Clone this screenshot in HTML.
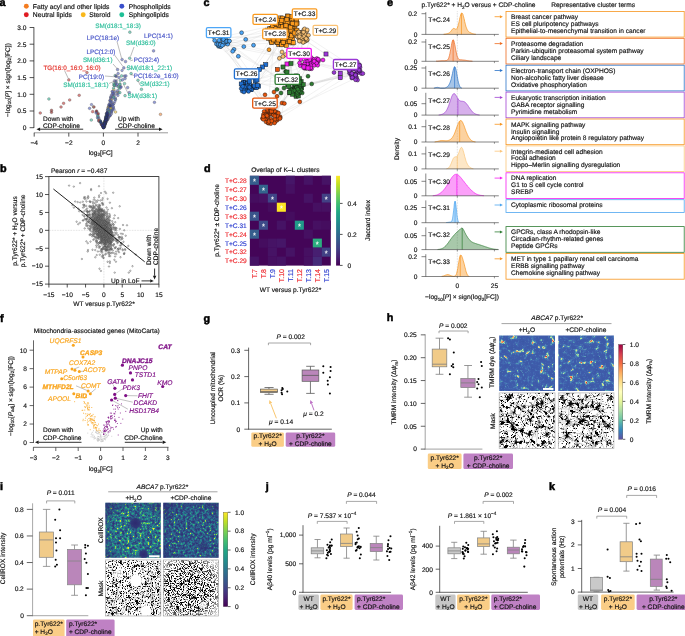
<!DOCTYPE html>
<html><head><meta charset="utf-8"><title>Figure</title><style>html,body{margin:0;padding:0;background:#fff;overflow:hidden}svg{display:block;will-change:transform}text{font-family:"Liberation Sans",sans-serif;text-rendering:geometricPrecision}</style></head>
<body>
<svg width="685" height="636" viewBox="0 0 685 636">
<rect width="685" height="636" fill="#fff"/>
<defs><marker id="mb" markerUnits="userSpaceOnUse" markerWidth="3" markerHeight="3" refX="1.5" refY="1.5" overflow="visible"><circle cx="1.5" cy="1.5" r="0.72" fill="#fff" fill-opacity="0.25" stroke="#4d4d4d" stroke-width="0.45"/></marker><linearGradient id="gvir" x1="0" y1="0" x2="0" y2="1"><stop offset="0.0" stop-color="#fde725"/><stop offset="0.1" stop-color="#bddf26"/><stop offset="0.2" stop-color="#7ad151"/><stop offset="0.3" stop-color="#44bf70"/><stop offset="0.4" stop-color="#22a884"/><stop offset="0.5" stop-color="#21918c"/><stop offset="0.6" stop-color="#2a788e"/><stop offset="0.7" stop-color="#355f8d"/><stop offset="0.8" stop-color="#414487"/><stop offset="0.9" stop-color="#482475"/><stop offset="1.0" stop-color="#440154"/></linearGradient><radialGradient id="hg3"><stop offset="0" stop-color="#C2213A"/><stop offset="0.3" stop-color="#F9A65A"/><stop offset="0.55" stop-color="#E9F29A"/><stop offset="0.8" stop-color="#7FCCA5" stop-opacity="0.8"/><stop offset="1" stop-color="#5AB4C0" stop-opacity="0"/></radialGradient><radialGradient id="hg2"><stop offset="0" stop-color="#FBD27A"/><stop offset="0.4" stop-color="#D8EE9A"/><stop offset="0.75" stop-color="#7FCCA5" stop-opacity="0.8"/><stop offset="1" stop-color="#5AB4C0" stop-opacity="0"/></radialGradient><radialGradient id="hg1"><stop offset="0" stop-color="#A6DBA4"/><stop offset="0.6" stop-color="#6CC4B0" stop-opacity="0.7"/><stop offset="1" stop-color="#5AB4C0" stop-opacity="0"/></radialGradient><filter id="cmh1" x="0" y="0" width="1" height="1" color-interpolation-filters="sRGB"><feTurbulence type="fractalNoise" baseFrequency="0.2" numOctaves="3" seed="3"/><feColorMatrix type="matrix" values="1 0 0 0 0 1 0 0 0 0 1 0 0 0 0 0 0 0 0 1"/><feComponentTransfer><feFuncR type="table" tableValues=".23 .23 .23 .23 .23 .23 .23 .23 .24 .24 .24 .24 .24 .24 .24 .24 .24 .24 .25 .25 .25 .25 .25 .26 .26 .27 .29 .32 .38 .57 .80 .95 .97 .87 .82 .78 .75 .72 .68 .65 .62"/><feFuncG type="table" tableValues=".33 .33 .34 .34 .34 .34 .34 .34 .35 .35 .35 .35 .35 .35 .36 .36 .36 .36 .36 .36 .36 .38 .39 .41 .42 .44 .51 .59 .68 .81 .91 .84 .63 .35 .22 .19 .15 .11 .08 .04 .00"/><feFuncB type="table" tableValues=".64 .64 .65 .65 .65 .65 .65 .65 .65 .66 .66 .66 .66 .66 .66 .66 .67 .67 .67 .67 .67 .68 .68 .69 .70 .70 .71 .71 .70 .64 .61 .52 .37 .33 .31 .30 .29 .28 .27 .27 .26"/></feComponentTransfer></filter><filter id="tlh1" x="0" y="0" width="1" height="1" color-interpolation-filters="sRGB"><feTurbulence type="turbulence" baseFrequency="0.07" numOctaves="3" seed="8"/><feColorMatrix type="matrix" values="0 0 0 0 0.4 0 0 0 0 0.72 0 0 0 0 0.74 -9 0 0 0 0.7"/></filter><filter id="nzh1" x="0" y="0" width="1" height="1" color-interpolation-filters="sRGB"><feTurbulence type="fractalNoise" baseFrequency="0.6" numOctaves="1" seed="12"/><feColorMatrix type="matrix" values="0 0 0 0 0.36 0 0 0 0 0.6 0 0 0 0 0.8 3.0 0 0 0 -1.85"/></filter><filter id="cmh2" x="0" y="0" width="1" height="1" color-interpolation-filters="sRGB"><feTurbulence type="fractalNoise" baseFrequency="0.2" numOctaves="3" seed="8"/><feColorMatrix type="matrix" values="1 0 0 0 0 1 0 0 0 0 1 0 0 0 0 0 0 0 0 1"/><feComponentTransfer><feFuncR type="table" tableValues=".23 .23 .23 .23 .23 .23 .23 .23 .24 .24 .24 .24 .24 .24 .24 .24 .24 .24 .25 .25 .25 .25 .25 .26 .26 .27 .29 .32 .38 .57 .80 .95 .97 .87 .82 .78 .75 .72 .68 .65 .62"/><feFuncG type="table" tableValues=".33 .33 .34 .34 .34 .34 .34 .34 .35 .35 .35 .35 .35 .35 .36 .36 .36 .36 .36 .36 .36 .38 .39 .41 .42 .44 .51 .59 .68 .81 .91 .84 .63 .35 .22 .19 .15 .11 .08 .04 .00"/><feFuncB type="table" tableValues=".64 .64 .65 .65 .65 .65 .65 .65 .65 .66 .66 .66 .66 .66 .66 .66 .67 .67 .67 .67 .67 .68 .68 .69 .70 .70 .71 .71 .70 .64 .61 .52 .37 .33 .31 .30 .29 .28 .27 .27 .26"/></feComponentTransfer></filter><filter id="tlh2" x="0" y="0" width="1" height="1" color-interpolation-filters="sRGB"><feTurbulence type="turbulence" baseFrequency="0.07" numOctaves="3" seed="13"/><feColorMatrix type="matrix" values="0 0 0 0 0.4 0 0 0 0 0.72 0 0 0 0 0.74 -9 0 0 0 0.7"/></filter><filter id="nzh2" x="0" y="0" width="1" height="1" color-interpolation-filters="sRGB"><feTurbulence type="fractalNoise" baseFrequency="0.6" numOctaves="1" seed="17"/><feColorMatrix type="matrix" values="0 0 0 0 0.36 0 0 0 0 0.6 0 0 0 0 0.8 3.0 0 0 0 -1.85"/></filter><filter id="mlh3" x="0" y="0" width="1" height="1" color-interpolation-filters="sRGB"><feTurbulence type="turbulence" baseFrequency="0.12" numOctaves="2" seed="22"/><feColorMatrix type="matrix" values="0 0 0 0 0 0 0 0 0 0 0 0 0 0 0 -9 0 0 0 1.15"/></filter><filter id="mbh3" x="0" y="0" width="1" height="1" color-interpolation-filters="sRGB"><feTurbulence type="fractalNoise" baseFrequency="0.2" numOctaves="3" seed="23"/><feColorMatrix type="matrix" values="0 0 0 0 0 0 0 0 0 0 0 0 0 0 0 16 0 0 0 -10.35"/></filter><filter id="mfh3" x="0" y="0" width="1" height="1" color-interpolation-filters="sRGB"><feTurbulence type="fractalNoise" baseFrequency="0.8" numOctaves="2" seed="24"/><feColorMatrix type="matrix" values="0 0 0 0 0 0 0 0 0 0 0 0 0 0 0 7 0 0 0 -4.35"/></filter><filter id="mlh4" x="0" y="0" width="1" height="1" color-interpolation-filters="sRGB"><feTurbulence type="turbulence" baseFrequency="0.12" numOctaves="2" seed="34"/><feColorMatrix type="matrix" values="0 0 0 0 0 0 0 0 0 0 0 0 0 0 0 -9 0 0 0 1.15"/></filter><filter id="mbh4" x="0" y="0" width="1" height="1" color-interpolation-filters="sRGB"><feTurbulence type="fractalNoise" baseFrequency="0.2" numOctaves="3" seed="35"/><feColorMatrix type="matrix" values="0 0 0 0 0 0 0 0 0 0 0 0 0 0 0 16 0 0 0 -10.4"/></filter><filter id="mfh4" x="0" y="0" width="1" height="1" color-interpolation-filters="sRGB"><feTurbulence type="fractalNoise" baseFrequency="0.8" numOctaves="2" seed="36"/><feColorMatrix type="matrix" values="0 0 0 0 0 0 0 0 0 0 0 0 0 0 0 7 0 0 0 -4.4"/></filter><linearGradient id="gspec" x1="0" y1="0" x2="0" y2="1"><stop offset="0.0" stop-color="#9E0142"/><stop offset="0.09999999999999998" stop-color="#D53E4F"/><stop offset="0.19999999999999996" stop-color="#F46D43"/><stop offset="0.30000000000000004" stop-color="#FDAE61"/><stop offset="0.4" stop-color="#FEE08B"/><stop offset="0.5" stop-color="#FFFFBF"/><stop offset="0.6" stop-color="#E6F598"/><stop offset="0.7" stop-color="#ABDDA4"/><stop offset="0.8" stop-color="#66C2A5"/><stop offset="0.9" stop-color="#3288BD"/><stop offset="1" stop-color="#5E4FA2"/></linearGradient><radialGradient id="hole"><stop offset="0" stop-color="#2D2A6E"/><stop offset="0.65" stop-color="#2F3478" stop-opacity="0.95"/><stop offset="1" stop-color="#2F4A85" stop-opacity="0"/></radialGradient><radialGradient id="wh"><stop offset="0" stop-color="#fff"/><stop offset="0.75" stop-color="#fff"/><stop offset="1" stop-color="#fff" stop-opacity="0"/></radialGradient><radialGradient id="vig" cx="0.55" cy="0.55" r="0.75"><stop offset="0.6" stop-color="#2D2A70" stop-opacity="0"/><stop offset="1" stop-color="#2D2A70" stop-opacity="0.75"/></radialGradient><filter id="cmi1" x="0" y="0" width="1" height="1" color-interpolation-filters="sRGB"><feTurbulence type="fractalNoise" baseFrequency="0.4" numOctaves="3" seed="4"/><feColorMatrix type="matrix" values="1 0 0 0 0 1 0 0 0 0 1 0 0 0 0 0 0 0 0 1"/><feComponentTransfer><feFuncR type="table" tableValues=".18 .18 .18 .18 .18 .18 .18 .18 .19 .19 .19 .19 .19 .19 .19 .19 .19 .18 .18 .17 .17 .16 .15 .15 .14 .14 .19 .24 .33 .49 .65 .79 .93 .99 .99 .99 .99 .99 .99 .99 .99"/><feFuncG type="table" tableValues=".16 .17 .18 .19 .19 .20 .21 .22 .22 .23 .24 .25 .25 .26 .28 .30 .33 .35 .37 .40 .43 .46 .49 .52 .56 .60 .65 .71 .77 .81 .86 .88 .90 .91 .91 .91 .91 .91 .91 .91 .91"/><feFuncB type="table" tableValues=".44 .44 .45 .45 .46 .46 .47 .47 .47 .48 .48 .49 .49 .50 .51 .51 .52 .53 .54 .55 .55 .55 .56 .55 .55 .54 .50 .46 .40 .31 .21 .18 .16 .15 .15 .15 .15 .15 .15 .15 .15"/></feComponentTransfer></filter><filter id="cmi2" x="0" y="0" width="1" height="1" color-interpolation-filters="sRGB"><feTurbulence type="fractalNoise" baseFrequency="0.42" numOctaves="3" seed="9"/><feColorMatrix type="matrix" values="1 0 0 0 0 1 0 0 0 0 1 0 0 0 0 0 0 0 0 1"/><feComponentTransfer><feFuncR type="table" tableValues=".18 .18 .18 .18 .18 .18 .18 .18 .18 .18 .18 .18 .19 .19 .19 .19 .19 .19 .19 .19 .18 .18 .18 .17 .17 .16 .15 .14 .16 .19 .29 .50 .71 .83 .95 .99 .99 .99 .99 .99 .99"/><feFuncG type="table" tableValues=".16 .17 .18 .18 .19 .19 .20 .20 .21 .22 .22 .23 .23 .24 .24 .25 .27 .28 .30 .32 .34 .36 .39 .41 .44 .47 .50 .53 .60 .67 .74 .81 .87 .89 .90 .91 .91 .91 .91 .91 .91"/><feFuncB type="table" tableValues=".44 .44 .45 .45 .45 .46 .46 .46 .47 .47 .48 .48 .48 .49 .49 .49 .50 .51 .52 .53 .53 .54 .55 .55 .56 .56 .56 .56 .53 .50 .42 .30 .17 .16 .15 .15 .15 .15 .15 .15 .15"/></feComponentTransfer></filter><radialGradient id="wvig" cx="0.45" cy="0.5" r="0.72"><stop offset="0.55" stop-color="#fff" stop-opacity="0"/><stop offset="1" stop-color="#fff" stop-opacity="0.9"/></radialGradient><filter id="mbi3" x="0" y="0" width="1" height="1" color-interpolation-filters="sRGB"><feTurbulence type="fractalNoise" baseFrequency="0.8" numOctaves="2" seed="43"/><feColorMatrix type="matrix" values="0 0 0 0 0 0 0 0 0 0 0 0 0 0 0 7 0 0 0 -3.82"/></filter><filter id="mfi3" x="0" y="0" width="1" height="1" color-interpolation-filters="sRGB"><feTurbulence type="fractalNoise" baseFrequency="0.25" numOctaves="3" seed="44"/><feColorMatrix type="matrix" values="0 0 0 0 0 0 0 0 0 0 0 0 0 0 0 10 0 0 0 -6.45"/></filter><filter id="mbi4" x="0" y="0" width="1" height="1" color-interpolation-filters="sRGB"><feTurbulence type="fractalNoise" baseFrequency="0.85" numOctaves="2" seed="49"/><feColorMatrix type="matrix" values="0 0 0 0 0 0 0 0 0 0 0 0 0 0 0 7 0 0 0 -3.4"/></filter><filter id="mfi4" x="0" y="0" width="1" height="1" color-interpolation-filters="sRGB"><feTurbulence type="fractalNoise" baseFrequency="0.3" numOctaves="3" seed="50"/><feColorMatrix type="matrix" values="0 0 0 0 0 0 0 0 0 0 0 0 0 0 0 10 0 0 0 -6.2"/></filter><linearGradient id="gvir2" x1="0" y1="0" x2="0" y2="1"><stop offset="0.0" stop-color="#fde725"/><stop offset="0.1" stop-color="#bddf26"/><stop offset="0.2" stop-color="#7ad151"/><stop offset="0.3" stop-color="#44bf70"/><stop offset="0.4" stop-color="#22a884"/><stop offset="0.5" stop-color="#21918c"/><stop offset="0.6" stop-color="#2a788e"/><stop offset="0.7" stop-color="#355f8d"/><stop offset="0.8" stop-color="#414487"/><stop offset="0.9" stop-color="#482475"/><stop offset="1.0" stop-color="#440154"/></linearGradient></defs>
<text x="-0.50" y="5.80" font-size="10.8" font-weight="bold" fill="#000" stroke="#000" stroke-width="0.5">a</text>
<circle cx="26.30" cy="6.20" r="2.45" fill="#F47C20" stroke="none" stroke-width="0.4"/>
<text x="32.80" y="8.55" font-size="6.75" fill="#111" stroke="#111" stroke-width="0.16">Fatty acyl and other lipids</text>
<circle cx="26.30" cy="14.70" r="2.45" fill="#E01B22" stroke="none" stroke-width="0.4"/>
<text x="32.80" y="17.05" font-size="6.75" fill="#111" stroke="#111" stroke-width="0.16">Neutral lipids</text>
<circle cx="83.20" cy="14.70" r="2.45" fill="#F9B81B" stroke="none" stroke-width="0.4"/>
<text x="89.20" y="17.05" font-size="6.75" fill="#111" stroke="#111" stroke-width="0.16">Steroid</text>
<circle cx="121.80" cy="6.20" r="2.45" fill="#3A4FCB" stroke="none" stroke-width="0.4"/>
<text x="128.70" y="8.55" font-size="6.75" fill="#111" stroke="#111" stroke-width="0.16">Phospholipids</text>
<circle cx="121.80" cy="14.70" r="2.45" fill="#1DBF95" stroke="none" stroke-width="0.4"/>
<text x="128.70" y="17.05" font-size="6.75" fill="#111" stroke="#111" stroke-width="0.16">Sphingolipids</text>
<line x1="33.90" y1="27.20" x2="33.90" y2="128.00" stroke="#1a1a1a" stroke-width="0.75"/>
<line x1="29.60" y1="27.50" x2="33.90" y2="27.50" stroke="#1a1a1a" stroke-width="0.75"/>
<text x="26.40" y="29.80" font-size="6.6" text-anchor="end" fill="#111" stroke="#111" stroke-width="0.16">3.0</text>
<line x1="29.60" y1="44.20" x2="33.90" y2="44.20" stroke="#1a1a1a" stroke-width="0.75"/>
<text x="26.40" y="46.50" font-size="6.6" text-anchor="end" fill="#111" stroke="#111" stroke-width="0.16">2.5</text>
<line x1="29.60" y1="60.90" x2="33.90" y2="60.90" stroke="#1a1a1a" stroke-width="0.75"/>
<text x="26.40" y="63.20" font-size="6.6" text-anchor="end" fill="#111" stroke="#111" stroke-width="0.16">2.0</text>
<line x1="29.60" y1="77.60" x2="33.90" y2="77.60" stroke="#1a1a1a" stroke-width="0.75"/>
<text x="26.40" y="79.90" font-size="6.6" text-anchor="end" fill="#111" stroke="#111" stroke-width="0.16">1.5</text>
<line x1="29.60" y1="94.30" x2="33.90" y2="94.30" stroke="#1a1a1a" stroke-width="0.75"/>
<text x="26.40" y="96.60" font-size="6.6" text-anchor="end" fill="#111" stroke="#111" stroke-width="0.16">1.0</text>
<line x1="29.60" y1="111.00" x2="33.90" y2="111.00" stroke="#1a1a1a" stroke-width="0.75"/>
<text x="26.40" y="113.30" font-size="6.6" text-anchor="end" fill="#111" stroke="#111" stroke-width="0.16">0.5</text>
<line x1="29.60" y1="127.70" x2="33.90" y2="127.70" stroke="#1a1a1a" stroke-width="0.75"/>
<text x="26.40" y="130.00" font-size="6.6" text-anchor="end" fill="#111" stroke="#111" stroke-width="0.16">0</text>
<line x1="33.90" y1="132.80" x2="168.00" y2="132.80" stroke="#8f8f8f" stroke-width="0.9"/>
<line x1="34.20" y1="132.80" x2="34.20" y2="136.60" stroke="#1a1a1a" stroke-width="0.75"/>
<text x="34.20" y="145.20" font-size="6.6" text-anchor="middle" fill="#111" stroke="#111" stroke-width="0.16">−4</text>
<line x1="68.80" y1="132.80" x2="68.80" y2="136.60" stroke="#1a1a1a" stroke-width="0.75"/>
<text x="68.80" y="145.20" font-size="6.6" text-anchor="middle" fill="#111" stroke="#111" stroke-width="0.16">−2</text>
<line x1="103.40" y1="132.80" x2="103.40" y2="136.60" stroke="#1a1a1a" stroke-width="0.75"/>
<text x="103.40" y="145.20" font-size="6.6" text-anchor="middle" fill="#111" stroke="#111" stroke-width="0.16">0</text>
<line x1="138.00" y1="132.80" x2="138.00" y2="136.60" stroke="#1a1a1a" stroke-width="0.75"/>
<text x="138.00" y="145.20" font-size="6.6" text-anchor="middle" fill="#111" stroke="#111" stroke-width="0.16">2</text>
<text x="100.60" y="154.60" font-size="6.6" text-anchor="middle" fill="#111" stroke="#111" stroke-width="0.16">log<tspan font-size="4.6" dy="1.5">2</tspan><tspan dy="-1.5" font-size="0.1"> </tspan>[FC]</text>
<text x="9.60" y="80.00" font-size="6.6" text-anchor="middle" fill="#111" stroke="#111" stroke-width="0.16" transform="rotate(-90 9.60 80.00)">−log<tspan font-size="4.6" dy="1.5">10</tspan><tspan dy="-1.5" font-size="0.1"> </tspan>[<tspan font-style="italic">P</tspan>] × sign(log<tspan font-size="4.6" dy="1.5">2</tspan><tspan dy="-1.5" font-size="0.1"> </tspan>[FC])</text>
<circle cx="104.70" cy="125.24" r="1.25" fill="#4A5AC2" stroke="#666" stroke-width="0.4" fill-opacity="0.55"/>
<circle cx="98.92" cy="118.18" r="1.25" fill="#4A5AC2" stroke="#666" stroke-width="0.4" fill-opacity="0.55"/>
<circle cx="116.11" cy="82.24" r="1.25" fill="#35BFA0" stroke="#666" stroke-width="0.4" fill-opacity="0.55"/>
<circle cx="109.89" cy="110.65" r="1.25" fill="#4A5AC2" stroke="#666" stroke-width="0.4" fill-opacity="0.55"/>
<circle cx="107.49" cy="119.36" r="1.25" fill="#F2C230" stroke="#666" stroke-width="0.4" fill-opacity="0.55"/>
<circle cx="106.33" cy="113.68" r="1.25" fill="#4A5AC2" stroke="#666" stroke-width="0.4" fill-opacity="0.55"/>
<circle cx="107.18" cy="113.66" r="1.25" fill="#4A5AC2" stroke="#666" stroke-width="0.4" fill-opacity="0.55"/>
<circle cx="117.42" cy="92.12" r="1.25" fill="#F2C230" stroke="#666" stroke-width="0.4" fill-opacity="0.55"/>
<circle cx="101.54" cy="123.13" r="1.25" fill="#4A5AC2" stroke="#666" stroke-width="0.4" fill-opacity="0.55"/>
<circle cx="104.95" cy="123.55" r="1.25" fill="#4A5AC2" stroke="#666" stroke-width="0.4" fill-opacity="0.55"/>
<circle cx="114.68" cy="84.21" r="1.25" fill="#35BFA0" stroke="#666" stroke-width="0.4" fill-opacity="0.55"/>
<circle cx="105.04" cy="121.38" r="1.25" fill="#35BFA0" stroke="#666" stroke-width="0.4" fill-opacity="0.55"/>
<circle cx="109.17" cy="108.83" r="1.25" fill="#4A5AC2" stroke="#666" stroke-width="0.4" fill-opacity="0.55"/>
<circle cx="104.38" cy="125.63" r="1.25" fill="#35BFA0" stroke="#666" stroke-width="0.4" fill-opacity="0.55"/>
<circle cx="108.25" cy="112.10" r="1.25" fill="#4A5AC2" stroke="#666" stroke-width="0.4" fill-opacity="0.55"/>
<circle cx="102.44" cy="125.52" r="1.25" fill="#4A5AC2" stroke="#666" stroke-width="0.4" fill-opacity="0.55"/>
<circle cx="106.95" cy="114.68" r="1.25" fill="#4A5AC2" stroke="#666" stroke-width="0.4" fill-opacity="0.55"/>
<circle cx="102.77" cy="126.52" r="1.25" fill="#4A5AC2" stroke="#666" stroke-width="0.4" fill-opacity="0.55"/>
<circle cx="103.69" cy="126.65" r="1.25" fill="#4A5AC2" stroke="#666" stroke-width="0.4" fill-opacity="0.55"/>
<circle cx="112.80" cy="108.72" r="1.25" fill="#4A5AC2" stroke="#666" stroke-width="0.4" fill-opacity="0.55"/>
<circle cx="114.01" cy="103.42" r="1.25" fill="#4A5AC2" stroke="#666" stroke-width="0.4" fill-opacity="0.55"/>
<circle cx="103.58" cy="126.34" r="1.25" fill="#4A5AC2" stroke="#666" stroke-width="0.4" fill-opacity="0.55"/>
<circle cx="108.31" cy="107.62" r="1.25" fill="#35BFA0" stroke="#666" stroke-width="0.4" fill-opacity="0.55"/>
<circle cx="103.41" cy="125.12" r="1.25" fill="#4A5AC2" stroke="#666" stroke-width="0.4" fill-opacity="0.55"/>
<circle cx="114.49" cy="85.42" r="1.25" fill="#4A5AC2" stroke="#666" stroke-width="0.4" fill-opacity="0.55"/>
<circle cx="105.91" cy="119.16" r="1.25" fill="#F2C230" stroke="#666" stroke-width="0.4" fill-opacity="0.55"/>
<circle cx="101.66" cy="123.39" r="1.25" fill="#4A5AC2" stroke="#666" stroke-width="0.4" fill-opacity="0.55"/>
<circle cx="109.68" cy="105.36" r="1.25" fill="#4A5AC2" stroke="#666" stroke-width="0.4" fill-opacity="0.55"/>
<circle cx="108.24" cy="118.49" r="1.25" fill="#4A5AC2" stroke="#666" stroke-width="0.4" fill-opacity="0.55"/>
<circle cx="119.95" cy="83.89" r="1.25" fill="#35BFA0" stroke="#666" stroke-width="0.4" fill-opacity="0.55"/>
<circle cx="104.06" cy="127.29" r="1.25" fill="#4A5AC2" stroke="#666" stroke-width="0.4" fill-opacity="0.55"/>
<circle cx="103.95" cy="126.28" r="1.25" fill="#4A5AC2" stroke="#666" stroke-width="0.4" fill-opacity="0.55"/>
<circle cx="109.50" cy="115.97" r="1.25" fill="#4A5AC2" stroke="#666" stroke-width="0.4" fill-opacity="0.55"/>
<circle cx="104.28" cy="126.38" r="1.25" fill="#35BFA0" stroke="#666" stroke-width="0.4" fill-opacity="0.55"/>
<circle cx="114.56" cy="84.68" r="1.25" fill="#4A5AC2" stroke="#666" stroke-width="0.4" fill-opacity="0.55"/>
<circle cx="97.90" cy="118.22" r="1.25" fill="#35BFA0" stroke="#666" stroke-width="0.4" fill-opacity="0.55"/>
<circle cx="120.01" cy="86.59" r="1.25" fill="#35BFA0" stroke="#666" stroke-width="0.4" fill-opacity="0.55"/>
<circle cx="114.53" cy="80.70" r="1.25" fill="#4A5AC2" stroke="#666" stroke-width="0.4" fill-opacity="0.55"/>
<circle cx="105.03" cy="121.45" r="1.25" fill="#4A5AC2" stroke="#666" stroke-width="0.4" fill-opacity="0.55"/>
<circle cx="104.57" cy="124.14" r="1.25" fill="#4A5AC2" stroke="#666" stroke-width="0.4" fill-opacity="0.55"/>
<circle cx="106.46" cy="121.44" r="1.25" fill="#4A5AC2" stroke="#666" stroke-width="0.4" fill-opacity="0.55"/>
<circle cx="104.66" cy="126.49" r="1.25" fill="#4A5AC2" stroke="#666" stroke-width="0.4" fill-opacity="0.55"/>
<circle cx="111.47" cy="104.87" r="1.25" fill="#4A5AC2" stroke="#666" stroke-width="0.4" fill-opacity="0.55"/>
<circle cx="110.12" cy="112.45" r="1.25" fill="#35BFA0" stroke="#666" stroke-width="0.4" fill-opacity="0.55"/>
<circle cx="102.34" cy="125.19" r="1.25" fill="#C8322E" stroke="#666" stroke-width="0.4" fill-opacity="0.55"/>
<circle cx="107.18" cy="112.77" r="1.25" fill="#4A5AC2" stroke="#666" stroke-width="0.4" fill-opacity="0.55"/>
<circle cx="110.87" cy="106.70" r="1.25" fill="#4A5AC2" stroke="#666" stroke-width="0.4" fill-opacity="0.55"/>
<circle cx="104.97" cy="124.53" r="1.25" fill="#4A5AC2" stroke="#666" stroke-width="0.4" fill-opacity="0.55"/>
<circle cx="101.19" cy="124.20" r="1.25" fill="#4A5AC2" stroke="#666" stroke-width="0.4" fill-opacity="0.55"/>
<circle cx="110.42" cy="106.77" r="1.25" fill="#4A5AC2" stroke="#666" stroke-width="0.4" fill-opacity="0.55"/>
<circle cx="103.80" cy="125.19" r="1.25" fill="#4A5AC2" stroke="#666" stroke-width="0.4" fill-opacity="0.55"/>
<circle cx="111.98" cy="109.93" r="1.25" fill="#4A5AC2" stroke="#666" stroke-width="0.4" fill-opacity="0.55"/>
<circle cx="105.09" cy="121.93" r="1.25" fill="#4A5AC2" stroke="#666" stroke-width="0.4" fill-opacity="0.55"/>
<circle cx="118.02" cy="86.20" r="1.25" fill="#35BFA0" stroke="#666" stroke-width="0.4" fill-opacity="0.55"/>
<circle cx="112.21" cy="96.49" r="1.25" fill="#4A5AC2" stroke="#666" stroke-width="0.4" fill-opacity="0.55"/>
<circle cx="91.50" cy="104.60" r="1.25" fill="#4A5AC2" stroke="#666" stroke-width="0.4" fill-opacity="0.55"/>
<circle cx="104.40" cy="124.49" r="1.25" fill="#35BFA0" stroke="#666" stroke-width="0.4" fill-opacity="0.55"/>
<circle cx="104.39" cy="125.74" r="1.25" fill="#4A5AC2" stroke="#666" stroke-width="0.4" fill-opacity="0.55"/>
<circle cx="100.13" cy="120.69" r="1.25" fill="#35BFA0" stroke="#666" stroke-width="0.4" fill-opacity="0.55"/>
<circle cx="115.35" cy="99.53" r="1.25" fill="#35BFA0" stroke="#666" stroke-width="0.4" fill-opacity="0.55"/>
<circle cx="108.97" cy="104.74" r="1.25" fill="#4A5AC2" stroke="#666" stroke-width="0.4" fill-opacity="0.55"/>
<circle cx="107.72" cy="109.61" r="1.25" fill="#4A5AC2" stroke="#666" stroke-width="0.4" fill-opacity="0.55"/>
<circle cx="110.54" cy="110.85" r="1.25" fill="#35BFA0" stroke="#666" stroke-width="0.4" fill-opacity="0.55"/>
<circle cx="111.53" cy="105.49" r="1.25" fill="#4A5AC2" stroke="#666" stroke-width="0.4" fill-opacity="0.55"/>
<circle cx="106.28" cy="118.42" r="1.25" fill="#35BFA0" stroke="#666" stroke-width="0.4" fill-opacity="0.55"/>
<circle cx="105.88" cy="118.17" r="1.25" fill="#4A5AC2" stroke="#666" stroke-width="0.4" fill-opacity="0.55"/>
<circle cx="113.57" cy="96.95" r="1.25" fill="#4A5AC2" stroke="#666" stroke-width="0.4" fill-opacity="0.55"/>
<circle cx="119.00" cy="87.13" r="1.25" fill="#35BFA0" stroke="#666" stroke-width="0.4" fill-opacity="0.55"/>
<circle cx="103.83" cy="126.44" r="1.25" fill="#4A5AC2" stroke="#666" stroke-width="0.4" fill-opacity="0.55"/>
<circle cx="105.35" cy="122.41" r="1.25" fill="#35BFA0" stroke="#666" stroke-width="0.4" fill-opacity="0.55"/>
<circle cx="108.60" cy="112.26" r="1.25" fill="#4A5AC2" stroke="#666" stroke-width="0.4" fill-opacity="0.55"/>
<circle cx="107.25" cy="118.72" r="1.25" fill="#4A5AC2" stroke="#666" stroke-width="0.4" fill-opacity="0.55"/>
<circle cx="110.86" cy="97.79" r="1.25" fill="#4A5AC2" stroke="#666" stroke-width="0.4" fill-opacity="0.55"/>
<circle cx="103.93" cy="127.18" r="1.25" fill="#4A5AC2" stroke="#666" stroke-width="0.4" fill-opacity="0.55"/>
<circle cx="110.52" cy="103.96" r="1.25" fill="#4A5AC2" stroke="#666" stroke-width="0.4" fill-opacity="0.55"/>
<circle cx="111.43" cy="95.05" r="1.25" fill="#4A5AC2" stroke="#666" stroke-width="0.4" fill-opacity="0.55"/>
<circle cx="107.61" cy="111.48" r="1.25" fill="#4A5AC2" stroke="#666" stroke-width="0.4" fill-opacity="0.55"/>
<circle cx="108.73" cy="106.23" r="1.25" fill="#4A5AC2" stroke="#666" stroke-width="0.4" fill-opacity="0.55"/>
<circle cx="105.00" cy="121.57" r="1.25" fill="#4A5AC2" stroke="#666" stroke-width="0.4" fill-opacity="0.55"/>
<circle cx="105.82" cy="117.31" r="1.25" fill="#4A5AC2" stroke="#666" stroke-width="0.4" fill-opacity="0.55"/>
<circle cx="105.11" cy="121.49" r="1.25" fill="#4A5AC2" stroke="#666" stroke-width="0.4" fill-opacity="0.55"/>
<circle cx="108.82" cy="107.42" r="1.25" fill="#4A5AC2" stroke="#666" stroke-width="0.4" fill-opacity="0.55"/>
<circle cx="104.59" cy="122.69" r="1.25" fill="#35BFA0" stroke="#666" stroke-width="0.4" fill-opacity="0.55"/>
<circle cx="98.63" cy="120.92" r="1.25" fill="#4A5AC2" stroke="#666" stroke-width="0.4" fill-opacity="0.55"/>
<circle cx="119.19" cy="89.03" r="1.25" fill="#35BFA0" stroke="#666" stroke-width="0.4" fill-opacity="0.55"/>
<circle cx="100.20" cy="122.04" r="1.25" fill="#35BFA0" stroke="#666" stroke-width="0.4" fill-opacity="0.55"/>
<circle cx="116.25" cy="85.83" r="1.25" fill="#4A5AC2" stroke="#666" stroke-width="0.4" fill-opacity="0.55"/>
<circle cx="101.88" cy="124.50" r="1.25" fill="#C8322E" stroke="#666" stroke-width="0.4" fill-opacity="0.55"/>
<circle cx="114.39" cy="95.01" r="1.25" fill="#4A5AC2" stroke="#666" stroke-width="0.4" fill-opacity="0.55"/>
<circle cx="109.73" cy="114.98" r="1.25" fill="#4A5AC2" stroke="#666" stroke-width="0.4" fill-opacity="0.55"/>
<circle cx="111.63" cy="111.50" r="1.25" fill="#4A5AC2" stroke="#666" stroke-width="0.4" fill-opacity="0.55"/>
<circle cx="112.15" cy="91.46" r="1.25" fill="#4A5AC2" stroke="#666" stroke-width="0.4" fill-opacity="0.55"/>
<circle cx="120.30" cy="80.47" r="1.25" fill="#35BFA0" stroke="#666" stroke-width="0.4" fill-opacity="0.55"/>
<circle cx="110.10" cy="115.57" r="1.25" fill="#4A5AC2" stroke="#666" stroke-width="0.4" fill-opacity="0.55"/>
<circle cx="119.99" cy="84.40" r="1.25" fill="#35BFA0" stroke="#666" stroke-width="0.4" fill-opacity="0.55"/>
<circle cx="106.22" cy="119.65" r="1.25" fill="#4A5AC2" stroke="#666" stroke-width="0.4" fill-opacity="0.55"/>
<circle cx="107.49" cy="110.64" r="1.25" fill="#4A5AC2" stroke="#666" stroke-width="0.4" fill-opacity="0.55"/>
<circle cx="104.46" cy="121.94" r="1.25" fill="#35BFA0" stroke="#666" stroke-width="0.4" fill-opacity="0.55"/>
<circle cx="96.80" cy="111.89" r="1.25" fill="#4A5AC2" stroke="#666" stroke-width="0.4" fill-opacity="0.55"/>
<circle cx="107.08" cy="113.40" r="1.25" fill="#4A5AC2" stroke="#666" stroke-width="0.4" fill-opacity="0.55"/>
<circle cx="111.13" cy="100.67" r="1.25" fill="#4A5AC2" stroke="#666" stroke-width="0.4" fill-opacity="0.55"/>
<circle cx="103.47" cy="127.28" r="1.25" fill="#4A5AC2" stroke="#666" stroke-width="0.4" fill-opacity="0.55"/>
<circle cx="117.14" cy="93.88" r="1.25" fill="#4A5AC2" stroke="#666" stroke-width="0.4" fill-opacity="0.55"/>
<circle cx="110.31" cy="108.67" r="1.25" fill="#35BFA0" stroke="#666" stroke-width="0.4" fill-opacity="0.55"/>
<circle cx="109.65" cy="115.86" r="1.25" fill="#4A5AC2" stroke="#666" stroke-width="0.4" fill-opacity="0.55"/>
<circle cx="113.92" cy="109.20" r="1.25" fill="#4A5AC2" stroke="#666" stroke-width="0.4" fill-opacity="0.55"/>
<circle cx="113.17" cy="94.64" r="1.25" fill="#4A5AC2" stroke="#666" stroke-width="0.4" fill-opacity="0.55"/>
<circle cx="105.13" cy="121.97" r="1.25" fill="#4A5AC2" stroke="#666" stroke-width="0.4" fill-opacity="0.55"/>
<circle cx="115.09" cy="75.45" r="1.25" fill="#35BFA0" stroke="#666" stroke-width="0.4" fill-opacity="0.55"/>
<circle cx="107.18" cy="118.02" r="1.25" fill="#4A5AC2" stroke="#666" stroke-width="0.4" fill-opacity="0.55"/>
<circle cx="98.25" cy="116.52" r="1.25" fill="#4A5AC2" stroke="#666" stroke-width="0.4" fill-opacity="0.55"/>
<circle cx="106.11" cy="117.11" r="1.25" fill="#4A5AC2" stroke="#666" stroke-width="0.4" fill-opacity="0.55"/>
<circle cx="110.65" cy="96.90" r="1.25" fill="#4A5AC2" stroke="#666" stroke-width="0.4" fill-opacity="0.55"/>
<circle cx="111.50" cy="113.82" r="1.25" fill="#4A5AC2" stroke="#666" stroke-width="0.4" fill-opacity="0.55"/>
<circle cx="107.06" cy="113.56" r="1.25" fill="#35BFA0" stroke="#666" stroke-width="0.4" fill-opacity="0.55"/>
<circle cx="112.16" cy="109.52" r="1.25" fill="#4A5AC2" stroke="#666" stroke-width="0.4" fill-opacity="0.55"/>
<circle cx="108.58" cy="117.08" r="1.25" fill="#4A5AC2" stroke="#666" stroke-width="0.4" fill-opacity="0.55"/>
<circle cx="105.48" cy="121.50" r="1.25" fill="#4A5AC2" stroke="#666" stroke-width="0.4" fill-opacity="0.55"/>
<circle cx="105.67" cy="122.62" r="1.25" fill="#35BFA0" stroke="#666" stroke-width="0.4" fill-opacity="0.55"/>
<circle cx="103.95" cy="124.90" r="1.25" fill="#4A5AC2" stroke="#666" stroke-width="0.4" fill-opacity="0.55"/>
<circle cx="97.53" cy="117.42" r="1.25" fill="#4A5AC2" stroke="#666" stroke-width="0.4" fill-opacity="0.55"/>
<circle cx="106.12" cy="117.76" r="1.25" fill="#4A5AC2" stroke="#666" stroke-width="0.4" fill-opacity="0.55"/>
<circle cx="113.26" cy="107.45" r="1.25" fill="#4A5AC2" stroke="#666" stroke-width="0.4" fill-opacity="0.55"/>
<circle cx="105.56" cy="122.51" r="1.25" fill="#4A5AC2" stroke="#666" stroke-width="0.4" fill-opacity="0.55"/>
<circle cx="110.30" cy="101.22" r="1.25" fill="#35BFA0" stroke="#666" stroke-width="0.4" fill-opacity="0.55"/>
<circle cx="108.19" cy="107.22" r="1.25" fill="#F2C230" stroke="#666" stroke-width="0.4" fill-opacity="0.55"/>
<circle cx="110.43" cy="109.48" r="1.25" fill="#35BFA0" stroke="#666" stroke-width="0.4" fill-opacity="0.55"/>
<circle cx="112.52" cy="98.54" r="1.25" fill="#4A5AC2" stroke="#666" stroke-width="0.4" fill-opacity="0.55"/>
<circle cx="106.41" cy="118.30" r="1.25" fill="#4A5AC2" stroke="#666" stroke-width="0.4" fill-opacity="0.55"/>
<circle cx="107.25" cy="120.07" r="1.25" fill="#4A5AC2" stroke="#666" stroke-width="0.4" fill-opacity="0.55"/>
<circle cx="108.55" cy="109.47" r="1.25" fill="#35BFA0" stroke="#666" stroke-width="0.4" fill-opacity="0.55"/>
<circle cx="105.89" cy="116.52" r="1.25" fill="#4A5AC2" stroke="#666" stroke-width="0.4" fill-opacity="0.55"/>
<circle cx="113.84" cy="89.69" r="1.25" fill="#F2C230" stroke="#666" stroke-width="0.4" fill-opacity="0.55"/>
<circle cx="109.12" cy="107.00" r="1.25" fill="#4A5AC2" stroke="#666" stroke-width="0.4" fill-opacity="0.55"/>
<circle cx="109.07" cy="113.49" r="1.25" fill="#4A5AC2" stroke="#666" stroke-width="0.4" fill-opacity="0.55"/>
<circle cx="108.94" cy="109.34" r="1.25" fill="#4A5AC2" stroke="#666" stroke-width="0.4" fill-opacity="0.55"/>
<circle cx="107.91" cy="117.74" r="1.25" fill="#4A5AC2" stroke="#666" stroke-width="0.4" fill-opacity="0.55"/>
<circle cx="107.90" cy="109.12" r="1.25" fill="#4A5AC2" stroke="#666" stroke-width="0.4" fill-opacity="0.55"/>
<circle cx="103.99" cy="126.95" r="1.25" fill="#4A5AC2" stroke="#666" stroke-width="0.4" fill-opacity="0.55"/>
<circle cx="107.37" cy="119.61" r="1.25" fill="#4A5AC2" stroke="#666" stroke-width="0.4" fill-opacity="0.55"/>
<circle cx="114.88" cy="91.87" r="1.25" fill="#4A5AC2" stroke="#666" stroke-width="0.4" fill-opacity="0.55"/>
<circle cx="103.67" cy="126.99" r="1.25" fill="#4A5AC2" stroke="#666" stroke-width="0.4" fill-opacity="0.55"/>
<circle cx="113.08" cy="104.46" r="1.25" fill="#4A5AC2" stroke="#666" stroke-width="0.4" fill-opacity="0.55"/>
<circle cx="98.99" cy="121.03" r="1.25" fill="#C8322E" stroke="#666" stroke-width="0.4" fill-opacity="0.55"/>
<circle cx="108.21" cy="109.51" r="1.25" fill="#4A5AC2" stroke="#666" stroke-width="0.4" fill-opacity="0.55"/>
<circle cx="103.59" cy="127.42" r="1.25" fill="#35BFA0" stroke="#666" stroke-width="0.4" fill-opacity="0.55"/>
<circle cx="113.84" cy="93.15" r="1.25" fill="#4A5AC2" stroke="#666" stroke-width="0.4" fill-opacity="0.55"/>
<circle cx="112.14" cy="103.09" r="1.25" fill="#4A5AC2" stroke="#666" stroke-width="0.4" fill-opacity="0.55"/>
<circle cx="93.58" cy="106.93" r="1.25" fill="#35BFA0" stroke="#666" stroke-width="0.4" fill-opacity="0.55"/>
<circle cx="107.62" cy="116.96" r="1.25" fill="#4A5AC2" stroke="#666" stroke-width="0.4" fill-opacity="0.55"/>
<circle cx="105.65" cy="119.74" r="1.25" fill="#35BFA0" stroke="#666" stroke-width="0.4" fill-opacity="0.55"/>
<circle cx="110.18" cy="102.20" r="1.25" fill="#4A5AC2" stroke="#666" stroke-width="0.4" fill-opacity="0.55"/>
<circle cx="109.17" cy="105.25" r="1.25" fill="#4A5AC2" stroke="#666" stroke-width="0.4" fill-opacity="0.55"/>
<circle cx="105.68" cy="120.07" r="1.25" fill="#4A5AC2" stroke="#666" stroke-width="0.4" fill-opacity="0.55"/>
<circle cx="110.80" cy="98.15" r="1.25" fill="#4A5AC2" stroke="#666" stroke-width="0.4" fill-opacity="0.55"/>
<circle cx="104.76" cy="123.02" r="1.25" fill="#35BFA0" stroke="#666" stroke-width="0.4" fill-opacity="0.55"/>
<circle cx="100.17" cy="120.97" r="1.25" fill="#35BFA0" stroke="#666" stroke-width="0.4" fill-opacity="0.55"/>
<circle cx="115.73" cy="83.26" r="1.25" fill="#4A5AC2" stroke="#666" stroke-width="0.4" fill-opacity="0.55"/>
<circle cx="112.91" cy="93.50" r="1.25" fill="#4A5AC2" stroke="#666" stroke-width="0.4" fill-opacity="0.55"/>
<circle cx="117.90" cy="95.41" r="1.25" fill="#4A5AC2" stroke="#666" stroke-width="0.4" fill-opacity="0.55"/>
<circle cx="107.47" cy="113.13" r="1.25" fill="#35BFA0" stroke="#666" stroke-width="0.4" fill-opacity="0.55"/>
<circle cx="112.60" cy="91.57" r="1.25" fill="#4A5AC2" stroke="#666" stroke-width="0.4" fill-opacity="0.55"/>
<circle cx="104.21" cy="124.91" r="1.25" fill="#4A5AC2" stroke="#666" stroke-width="0.4" fill-opacity="0.55"/>
<circle cx="101.75" cy="124.96" r="1.25" fill="#C8322E" stroke="#666" stroke-width="0.4" fill-opacity="0.55"/>
<circle cx="108.65" cy="109.52" r="1.25" fill="#35BFA0" stroke="#666" stroke-width="0.4" fill-opacity="0.55"/>
<circle cx="107.87" cy="115.59" r="1.25" fill="#4A5AC2" stroke="#666" stroke-width="0.4" fill-opacity="0.55"/>
<circle cx="104.49" cy="122.79" r="1.25" fill="#35BFA0" stroke="#666" stroke-width="0.4" fill-opacity="0.55"/>
<circle cx="104.68" cy="124.04" r="1.25" fill="#35BFA0" stroke="#666" stroke-width="0.4" fill-opacity="0.55"/>
<circle cx="106.36" cy="118.60" r="1.25" fill="#4A5AC2" stroke="#666" stroke-width="0.4" fill-opacity="0.55"/>
<circle cx="97.62" cy="114.48" r="1.25" fill="#4A5AC2" stroke="#666" stroke-width="0.4" fill-opacity="0.55"/>
<circle cx="122.04" cy="70.51" r="1.25" fill="#4A5AC2" stroke="#666" stroke-width="0.4" fill-opacity="0.55"/>
<circle cx="106.58" cy="115.82" r="1.25" fill="#4A5AC2" stroke="#666" stroke-width="0.4" fill-opacity="0.55"/>
<circle cx="108.05" cy="111.65" r="1.25" fill="#35BFA0" stroke="#666" stroke-width="0.4" fill-opacity="0.55"/>
<circle cx="109.87" cy="115.43" r="1.25" fill="#4A5AC2" stroke="#666" stroke-width="0.4" fill-opacity="0.55"/>
<circle cx="110.56" cy="106.29" r="1.25" fill="#4A5AC2" stroke="#666" stroke-width="0.4" fill-opacity="0.55"/>
<circle cx="111.28" cy="112.22" r="1.25" fill="#4A5AC2" stroke="#666" stroke-width="0.4" fill-opacity="0.55"/>
<circle cx="108.63" cy="115.45" r="1.25" fill="#4A5AC2" stroke="#666" stroke-width="0.4" fill-opacity="0.55"/>
<circle cx="105.92" cy="119.41" r="1.25" fill="#35BFA0" stroke="#666" stroke-width="0.4" fill-opacity="0.55"/>
<circle cx="111.05" cy="99.67" r="1.25" fill="#F2C230" stroke="#666" stroke-width="0.4" fill-opacity="0.55"/>
<circle cx="118.69" cy="92.76" r="1.25" fill="#4A5AC2" stroke="#666" stroke-width="0.4" fill-opacity="0.55"/>
<circle cx="108.95" cy="108.98" r="1.25" fill="#4A5AC2" stroke="#666" stroke-width="0.4" fill-opacity="0.55"/>
<circle cx="107.88" cy="113.66" r="1.25" fill="#4A5AC2" stroke="#666" stroke-width="0.4" fill-opacity="0.55"/>
<circle cx="104.32" cy="124.47" r="1.25" fill="#4A5AC2" stroke="#666" stroke-width="0.4" fill-opacity="0.55"/>
<circle cx="116.05" cy="80.96" r="1.25" fill="#4A5AC2" stroke="#666" stroke-width="0.4" fill-opacity="0.55"/>
<circle cx="104.86" cy="123.84" r="1.25" fill="#4A5AC2" stroke="#666" stroke-width="0.4" fill-opacity="0.55"/>
<circle cx="97.66" cy="115.82" r="1.25" fill="#35BFA0" stroke="#666" stroke-width="0.4" fill-opacity="0.55"/>
<circle cx="116.16" cy="75.94" r="1.25" fill="#4A5AC2" stroke="#666" stroke-width="0.4" fill-opacity="0.55"/>
<circle cx="107.20" cy="117.80" r="1.25" fill="#35BFA0" stroke="#666" stroke-width="0.4" fill-opacity="0.55"/>
<circle cx="105.11" cy="121.25" r="1.25" fill="#4A5AC2" stroke="#666" stroke-width="0.4" fill-opacity="0.55"/>
<circle cx="101.05" cy="122.71" r="1.25" fill="#35BFA0" stroke="#666" stroke-width="0.4" fill-opacity="0.55"/>
<circle cx="121.08" cy="86.80" r="1.25" fill="#4A5AC2" stroke="#666" stroke-width="0.4" fill-opacity="0.55"/>
<circle cx="103.90" cy="126.17" r="1.25" fill="#4A5AC2" stroke="#666" stroke-width="0.4" fill-opacity="0.55"/>
<circle cx="109.23" cy="104.20" r="1.25" fill="#4A5AC2" stroke="#666" stroke-width="0.4" fill-opacity="0.55"/>
<circle cx="105.93" cy="116.44" r="1.25" fill="#35BFA0" stroke="#666" stroke-width="0.4" fill-opacity="0.55"/>
<circle cx="110.74" cy="108.20" r="1.25" fill="#F2C230" stroke="#666" stroke-width="0.4" fill-opacity="0.55"/>
<circle cx="112.91" cy="104.77" r="1.25" fill="#4A5AC2" stroke="#666" stroke-width="0.4" fill-opacity="0.55"/>
<circle cx="124.30" cy="76.07" r="1.25" fill="#4A5AC2" stroke="#666" stroke-width="0.4" fill-opacity="0.55"/>
<circle cx="110.11" cy="100.28" r="1.25" fill="#4A5AC2" stroke="#666" stroke-width="0.4" fill-opacity="0.55"/>
<circle cx="108.77" cy="112.14" r="1.25" fill="#4A5AC2" stroke="#666" stroke-width="0.4" fill-opacity="0.55"/>
<circle cx="113.36" cy="106.79" r="1.25" fill="#4A5AC2" stroke="#666" stroke-width="0.4" fill-opacity="0.55"/>
<circle cx="104.14" cy="127.32" r="1.25" fill="#4A5AC2" stroke="#666" stroke-width="0.4" fill-opacity="0.55"/>
<circle cx="117.42" cy="90.73" r="1.25" fill="#4A5AC2" stroke="#666" stroke-width="0.4" fill-opacity="0.55"/>
<circle cx="104.73" cy="124.28" r="1.25" fill="#4A5AC2" stroke="#666" stroke-width="0.4" fill-opacity="0.55"/>
<circle cx="111.42" cy="101.77" r="1.25" fill="#4A5AC2" stroke="#666" stroke-width="0.4" fill-opacity="0.55"/>
<circle cx="115.47" cy="99.39" r="1.25" fill="#4A5AC2" stroke="#666" stroke-width="0.4" fill-opacity="0.55"/>
<circle cx="115.98" cy="76.22" r="1.25" fill="#4A5AC2" stroke="#666" stroke-width="0.4" fill-opacity="0.55"/>
<circle cx="103.68" cy="125.61" r="1.25" fill="#35BFA0" stroke="#666" stroke-width="0.4" fill-opacity="0.55"/>
<circle cx="114.85" cy="101.50" r="1.25" fill="#4A5AC2" stroke="#666" stroke-width="0.4" fill-opacity="0.55"/>
<circle cx="111.83" cy="110.85" r="1.25" fill="#4A5AC2" stroke="#666" stroke-width="0.4" fill-opacity="0.55"/>
<circle cx="106.52" cy="117.12" r="1.25" fill="#35BFA0" stroke="#666" stroke-width="0.4" fill-opacity="0.55"/>
<circle cx="113.77" cy="83.67" r="1.25" fill="#35BFA0" stroke="#666" stroke-width="0.4" fill-opacity="0.55"/>
<circle cx="106.20" cy="121.51" r="1.25" fill="#4A5AC2" stroke="#666" stroke-width="0.4" fill-opacity="0.55"/>
<circle cx="109.05" cy="112.17" r="1.25" fill="#4A5AC2" stroke="#666" stroke-width="0.4" fill-opacity="0.55"/>
<circle cx="110.00" cy="115.53" r="1.25" fill="#4A5AC2" stroke="#666" stroke-width="0.4" fill-opacity="0.55"/>
<circle cx="103.64" cy="126.90" r="1.25" fill="#F2C230" stroke="#666" stroke-width="0.4" fill-opacity="0.55"/>
<circle cx="109.01" cy="112.02" r="1.25" fill="#35BFA0" stroke="#666" stroke-width="0.4" fill-opacity="0.55"/>
<circle cx="108.08" cy="117.59" r="1.25" fill="#4A5AC2" stroke="#666" stroke-width="0.4" fill-opacity="0.55"/>
<circle cx="104.02" cy="127.57" r="1.25" fill="#4A5AC2" stroke="#666" stroke-width="0.4" fill-opacity="0.55"/>
<circle cx="109.99" cy="100.46" r="1.25" fill="#4A5AC2" stroke="#666" stroke-width="0.4" fill-opacity="0.55"/>
<circle cx="114.12" cy="85.57" r="1.25" fill="#35BFA0" stroke="#666" stroke-width="0.4" fill-opacity="0.55"/>
<circle cx="114.11" cy="85.15" r="1.25" fill="#35BFA0" stroke="#666" stroke-width="0.4" fill-opacity="0.55"/>
<circle cx="112.65" cy="93.50" r="1.25" fill="#4A5AC2" stroke="#666" stroke-width="0.4" fill-opacity="0.55"/>
<circle cx="96.40" cy="111.80" r="1.25" fill="#4A5AC2" stroke="#666" stroke-width="0.4" fill-opacity="0.55"/>
<circle cx="104.33" cy="125.43" r="1.25" fill="#4A5AC2" stroke="#666" stroke-width="0.4" fill-opacity="0.55"/>
<circle cx="115.37" cy="97.90" r="1.25" fill="#4A5AC2" stroke="#666" stroke-width="0.4" fill-opacity="0.55"/>
<circle cx="103.44" cy="127.65" r="1.25" fill="#4A5AC2" stroke="#666" stroke-width="0.4" fill-opacity="0.55"/>
<circle cx="113.75" cy="97.14" r="1.25" fill="#35BFA0" stroke="#666" stroke-width="0.4" fill-opacity="0.55"/>
<circle cx="107.50" cy="112.09" r="1.25" fill="#4A5AC2" stroke="#666" stroke-width="0.4" fill-opacity="0.55"/>
<circle cx="95.98" cy="112.91" r="1.25" fill="#4A5AC2" stroke="#666" stroke-width="0.4" fill-opacity="0.55"/>
<circle cx="113.50" cy="88.13" r="1.25" fill="#35BFA0" stroke="#666" stroke-width="0.4" fill-opacity="0.55"/>
<circle cx="98.91" cy="119.94" r="1.25" fill="#C8322E" stroke="#666" stroke-width="0.4" fill-opacity="0.55"/>
<circle cx="104.34" cy="125.64" r="1.25" fill="#35BFA0" stroke="#666" stroke-width="0.4" fill-opacity="0.55"/>
<circle cx="104.59" cy="123.19" r="1.2" fill="#27348F" stroke="#333" stroke-width="0.35" fill-opacity="0.6"/>
<circle cx="105.75" cy="119.16" r="1.2" fill="#27348F" stroke="#333" stroke-width="0.35" fill-opacity="0.6"/>
<circle cx="104.56" cy="124.36" r="1.2" fill="#27348F" stroke="#333" stroke-width="0.35" fill-opacity="0.6"/>
<circle cx="105.09" cy="120.75" r="1.2" fill="#27348F" stroke="#333" stroke-width="0.35" fill-opacity="0.6"/>
<circle cx="104.70" cy="123.82" r="1.2" fill="#27348F" stroke="#333" stroke-width="0.35" fill-opacity="0.6"/>
<circle cx="104.03" cy="125.45" r="1.2" fill="#27348F" stroke="#333" stroke-width="0.35" fill-opacity="0.6"/>
<circle cx="105.71" cy="120.82" r="1.2" fill="#27348F" stroke="#333" stroke-width="0.35" fill-opacity="0.6"/>
<circle cx="105.30" cy="123.30" r="1.2" fill="#27348F" stroke="#333" stroke-width="0.35" fill-opacity="0.6"/>
<circle cx="103.79" cy="126.17" r="1.2" fill="#27348F" stroke="#333" stroke-width="0.35" fill-opacity="0.6"/>
<circle cx="105.44" cy="121.53" r="1.2" fill="#27348F" stroke="#333" stroke-width="0.35" fill-opacity="0.6"/>
<circle cx="104.29" cy="124.51" r="1.2" fill="#27348F" stroke="#333" stroke-width="0.35" fill-opacity="0.6"/>
<circle cx="105.07" cy="122.53" r="1.2" fill="#27348F" stroke="#333" stroke-width="0.35" fill-opacity="0.6"/>
<circle cx="103.84" cy="126.08" r="1.2" fill="#27348F" stroke="#333" stroke-width="0.35" fill-opacity="0.6"/>
<circle cx="107.10" cy="117.79" r="1.2" fill="#27348F" stroke="#333" stroke-width="0.35" fill-opacity="0.6"/>
<circle cx="107.42" cy="114.76" r="1.2" fill="#27348F" stroke="#333" stroke-width="0.35" fill-opacity="0.6"/>
<circle cx="106.75" cy="116.48" r="1.2" fill="#27348F" stroke="#333" stroke-width="0.35" fill-opacity="0.6"/>
<circle cx="105.01" cy="123.23" r="1.2" fill="#27348F" stroke="#333" stroke-width="0.35" fill-opacity="0.6"/>
<circle cx="106.15" cy="120.31" r="1.2" fill="#27348F" stroke="#333" stroke-width="0.35" fill-opacity="0.6"/>
<circle cx="107.22" cy="115.79" r="1.2" fill="#27348F" stroke="#333" stroke-width="0.35" fill-opacity="0.6"/>
<circle cx="105.12" cy="122.51" r="1.2" fill="#27348F" stroke="#333" stroke-width="0.35" fill-opacity="0.6"/>
<circle cx="104.91" cy="124.15" r="1.2" fill="#27348F" stroke="#333" stroke-width="0.35" fill-opacity="0.6"/>
<circle cx="105.40" cy="119.96" r="1.2" fill="#27348F" stroke="#333" stroke-width="0.35" fill-opacity="0.6"/>
<circle cx="104.82" cy="123.21" r="1.2" fill="#27348F" stroke="#333" stroke-width="0.35" fill-opacity="0.6"/>
<circle cx="103.74" cy="126.57" r="1.2" fill="#27348F" stroke="#333" stroke-width="0.35" fill-opacity="0.6"/>
<circle cx="106.66" cy="114.73" r="1.2" fill="#27348F" stroke="#333" stroke-width="0.35" fill-opacity="0.6"/>
<circle cx="106.06" cy="119.88" r="1.2" fill="#27348F" stroke="#333" stroke-width="0.35" fill-opacity="0.6"/>
<circle cx="104.22" cy="124.38" r="1.2" fill="#27348F" stroke="#333" stroke-width="0.35" fill-opacity="0.6"/>
<circle cx="104.66" cy="123.18" r="1.2" fill="#27348F" stroke="#333" stroke-width="0.35" fill-opacity="0.6"/>
<circle cx="107.27" cy="112.77" r="1.2" fill="#27348F" stroke="#333" stroke-width="0.35" fill-opacity="0.6"/>
<circle cx="110.12" cy="105.78" r="1.2" fill="#27348F" stroke="#333" stroke-width="0.35" fill-opacity="0.6"/>
<circle cx="105.69" cy="120.35" r="1.2" fill="#27348F" stroke="#333" stroke-width="0.35" fill-opacity="0.6"/>
<circle cx="103.66" cy="126.86" r="1.2" fill="#27348F" stroke="#333" stroke-width="0.35" fill-opacity="0.6"/>
<circle cx="106.13" cy="117.33" r="1.2" fill="#27348F" stroke="#333" stroke-width="0.35" fill-opacity="0.6"/>
<circle cx="106.78" cy="118.95" r="1.2" fill="#27348F" stroke="#333" stroke-width="0.35" fill-opacity="0.6"/>
<circle cx="104.37" cy="124.75" r="1.2" fill="#27348F" stroke="#333" stroke-width="0.35" fill-opacity="0.6"/>
<circle cx="104.43" cy="123.42" r="1.2" fill="#27348F" stroke="#333" stroke-width="0.35" fill-opacity="0.6"/>
<circle cx="105.50" cy="118.93" r="1.2" fill="#27348F" stroke="#333" stroke-width="0.35" fill-opacity="0.6"/>
<circle cx="106.29" cy="117.21" r="1.2" fill="#27348F" stroke="#333" stroke-width="0.35" fill-opacity="0.6"/>
<circle cx="103.64" cy="126.96" r="1.2" fill="#27348F" stroke="#333" stroke-width="0.35" fill-opacity="0.6"/>
<circle cx="103.41" cy="127.65" r="1.2" fill="#27348F" stroke="#333" stroke-width="0.35" fill-opacity="0.6"/>
<circle cx="104.43" cy="125.16" r="1.2" fill="#27348F" stroke="#333" stroke-width="0.35" fill-opacity="0.6"/>
<circle cx="105.98" cy="120.10" r="1.2" fill="#27348F" stroke="#333" stroke-width="0.35" fill-opacity="0.6"/>
<circle cx="106.73" cy="119.95" r="1.2" fill="#27348F" stroke="#333" stroke-width="0.35" fill-opacity="0.6"/>
<circle cx="106.96" cy="113.27" r="1.2" fill="#27348F" stroke="#333" stroke-width="0.35" fill-opacity="0.6"/>
<circle cx="105.44" cy="120.50" r="1.2" fill="#27348F" stroke="#333" stroke-width="0.35" fill-opacity="0.6"/>
<circle cx="101.65" cy="123.87" r="1.2" fill="#27348F" stroke="#333" stroke-width="0.35" fill-opacity="0.6"/>
<circle cx="103.40" cy="127.70" r="1.2" fill="#27348F" stroke="#333" stroke-width="0.35" fill-opacity="0.6"/>
<circle cx="103.24" cy="127.36" r="1.2" fill="#27348F" stroke="#333" stroke-width="0.35" fill-opacity="0.6"/>
<circle cx="100.65" cy="121.19" r="1.2" fill="#27348F" stroke="#333" stroke-width="0.35" fill-opacity="0.6"/>
<circle cx="100.80" cy="122.50" r="1.2" fill="#27348F" stroke="#333" stroke-width="0.35" fill-opacity="0.6"/>
<circle cx="102.72" cy="126.04" r="1.2" fill="#27348F" stroke="#333" stroke-width="0.35" fill-opacity="0.6"/>
<circle cx="102.49" cy="125.53" r="1.2" fill="#27348F" stroke="#333" stroke-width="0.35" fill-opacity="0.6"/>
<circle cx="102.45" cy="125.45" r="1.2" fill="#27348F" stroke="#333" stroke-width="0.35" fill-opacity="0.6"/>
<circle cx="68.80" cy="79.94" r="1.35" fill="#C8322E" stroke="#666" stroke-width="0.4" fill-opacity="0.6"/>
<circle cx="86.97" cy="72.59" r="1.35" fill="#C8322E" stroke="#666" stroke-width="0.4" fill-opacity="0.6"/>
<circle cx="79.18" cy="95.30" r="1.35" fill="#C8322E" stroke="#666" stroke-width="0.4" fill-opacity="0.6"/>
<circle cx="69.67" cy="99.98" r="1.35" fill="#C8322E" stroke="#666" stroke-width="0.4" fill-opacity="0.6"/>
<circle cx="63.61" cy="103.32" r="1.35" fill="#C8322E" stroke="#666" stroke-width="0.4" fill-opacity="0.6"/>
<circle cx="61.02" cy="106.99" r="1.35" fill="#C8322E" stroke="#666" stroke-width="0.4" fill-opacity="0.6"/>
<circle cx="40.26" cy="113.00" r="1.35" fill="#C8322E" stroke="#666" stroke-width="0.4" fill-opacity="0.6"/>
<circle cx="51.50" cy="110.33" r="1.35" fill="#8A1512" stroke="#666" stroke-width="0.4" fill-opacity="0.6"/>
<circle cx="51.50" cy="112.34" r="1.35" fill="#8A1512" stroke="#666" stroke-width="0.4" fill-opacity="0.6"/>
<circle cx="48.91" cy="98.98" r="1.35" fill="#35BFA0" stroke="#666" stroke-width="0.4" fill-opacity="0.6"/>
<circle cx="91.29" cy="120.02" r="1.35" fill="#35BFA0" stroke="#666" stroke-width="0.4" fill-opacity="0.6"/>
<circle cx="89.56" cy="108.33" r="1.35" fill="#4A5AC2" stroke="#666" stroke-width="0.4" fill-opacity="0.6"/>
<circle cx="92.67" cy="111.67" r="1.35" fill="#C8322E" stroke="#666" stroke-width="0.4" fill-opacity="0.6"/>
<circle cx="93.89" cy="106.99" r="1.35" fill="#C8322E" stroke="#666" stroke-width="0.4" fill-opacity="0.6"/>
<circle cx="96.48" cy="111.00" r="1.35" fill="#8A1512" stroke="#666" stroke-width="0.4" fill-opacity="0.6"/>
<circle cx="98.21" cy="113.67" r="1.35" fill="#8A1512" stroke="#666" stroke-width="0.4" fill-opacity="0.6"/>
<circle cx="129.87" cy="32.18" r="1.35" fill="#35BFA0" stroke="#666" stroke-width="0.4" fill-opacity="0.6"/>
<circle cx="153.57" cy="50.88" r="1.35" fill="#4A5AC2" stroke="#666" stroke-width="0.4" fill-opacity="0.6"/>
<circle cx="129.70" cy="58.23" r="1.35" fill="#35BFA0" stroke="#666" stroke-width="0.4" fill-opacity="0.6"/>
<circle cx="122.08" cy="59.56" r="1.35" fill="#4A5AC2" stroke="#666" stroke-width="0.4" fill-opacity="0.6"/>
<circle cx="125.54" cy="61.57" r="1.35" fill="#4A5AC2" stroke="#666" stroke-width="0.4" fill-opacity="0.6"/>
<circle cx="123.81" cy="67.91" r="1.35" fill="#4A5AC2" stroke="#666" stroke-width="0.4" fill-opacity="0.6"/>
<circle cx="131.08" cy="73.59" r="1.35" fill="#35BFA0" stroke="#666" stroke-width="0.4" fill-opacity="0.6"/>
<circle cx="117.59" cy="69.58" r="1.35" fill="#4A5AC2" stroke="#666" stroke-width="0.4" fill-opacity="0.6"/>
<circle cx="118.11" cy="73.59" r="1.35" fill="#4A5AC2" stroke="#666" stroke-width="0.4" fill-opacity="0.6"/>
<circle cx="121.57" cy="75.93" r="1.35" fill="#35BFA0" stroke="#666" stroke-width="0.4" fill-opacity="0.6"/>
<circle cx="125.89" cy="75.93" r="1.35" fill="#4A5AC2" stroke="#666" stroke-width="0.4" fill-opacity="0.6"/>
<circle cx="125.03" cy="78.60" r="1.35" fill="#4A5AC2" stroke="#666" stroke-width="0.4" fill-opacity="0.6"/>
<circle cx="118.97" cy="77.60" r="1.35" fill="#4A5AC2" stroke="#666" stroke-width="0.4" fill-opacity="0.6"/>
<circle cx="122.43" cy="79.94" r="1.35" fill="#4A5AC2" stroke="#666" stroke-width="0.4" fill-opacity="0.6"/>
<circle cx="124.51" cy="83.61" r="1.35" fill="#35BFA0" stroke="#666" stroke-width="0.4" fill-opacity="0.6"/>
<circle cx="138.00" cy="80.27" r="1.35" fill="#35BFA0" stroke="#666" stroke-width="0.4" fill-opacity="0.6"/>
<circle cx="141.46" cy="89.29" r="1.35" fill="#35BFA0" stroke="#666" stroke-width="0.4" fill-opacity="0.6"/>
<circle cx="125.03" cy="95.64" r="1.35" fill="#35BFA0" stroke="#666" stroke-width="0.4" fill-opacity="0.6"/>
<circle cx="154.44" cy="102.32" r="1.35" fill="#4A5AC2" stroke="#666" stroke-width="0.4" fill-opacity="0.6"/>
<circle cx="160.49" cy="114.34" r="1.35" fill="#F28A3C" stroke="#666" stroke-width="0.4" fill-opacity="0.6"/>
<circle cx="115.51" cy="112.00" r="1.35" fill="#F2C230" stroke="#666" stroke-width="0.4" fill-opacity="0.6"/>
<circle cx="120.70" cy="87.62" r="1.35" fill="#4A5AC2" stroke="#666" stroke-width="0.4" fill-opacity="0.6"/>
<circle cx="119.84" cy="92.63" r="1.35" fill="#35BFA0" stroke="#666" stroke-width="0.4" fill-opacity="0.6"/>
<circle cx="117.24" cy="84.28" r="1.35" fill="#4A5AC2" stroke="#666" stroke-width="0.4" fill-opacity="0.6"/>
<circle cx="127.62" cy="87.62" r="1.35" fill="#4A5AC2" stroke="#666" stroke-width="0.4" fill-opacity="0.6"/>
<circle cx="129.35" cy="92.63" r="1.35" fill="#4A5AC2" stroke="#666" stroke-width="0.4" fill-opacity="0.6"/>
<line x1="64.50" y1="70.50" x2="68.30" y2="78.50" stroke="#555" stroke-width="0.4"/>
<line x1="117.00" y1="41.50" x2="121.50" y2="58.00" stroke="#555" stroke-width="0.4"/>
<line x1="134.00" y1="47.00" x2="130.50" y2="56.50" stroke="#555" stroke-width="0.4"/>
<line x1="114.50" y1="55.00" x2="123.00" y2="66.50" stroke="#555" stroke-width="0.4"/>
<line x1="113.00" y1="64.00" x2="117.50" y2="69.00" stroke="#555" stroke-width="0.4"/>
<line x1="130.30" y1="60.80" x2="133.00" y2="60.00" stroke="#555" stroke-width="0.4"/>
<line x1="105.00" y1="76.00" x2="117.50" y2="77.00" stroke="#555" stroke-width="0.4"/>
<line x1="109.00" y1="83.50" x2="118.00" y2="79.50" stroke="#555" stroke-width="0.4"/>
<line x1="123.50" y1="84.50" x2="129.00" y2="95.00" stroke="#555" stroke-width="0.4"/>
<line x1="131.50" y1="68.50" x2="126.50" y2="67.50" stroke="#555" stroke-width="0.4"/>
<line x1="134.00" y1="75.50" x2="131.00" y2="74.50" stroke="#555" stroke-width="0.4"/>
<line x1="140.00" y1="85.00" x2="138.50" y2="81.50" stroke="#555" stroke-width="0.4"/>
<text x="95.30" y="27.60" font-size="6.35" fill="#2DBE9B" stroke="#2DBE9B" stroke-width="0.16">SM(d18:1_18:3)</text>
<text x="143.90" y="37.90" font-size="6.35" fill="#4A57C8" stroke="#4A57C8" stroke-width="0.16">LPC(14:1)</text>
<text x="86.70" y="40.00" font-size="6.35" fill="#4A57C8" stroke="#4A57C8" stroke-width="0.16">LPC(18:1e)</text>
<text x="126.10" y="45.20" font-size="6.35" fill="#2DBE9B" stroke="#2DBE9B" stroke-width="0.16">SM(d36:0)</text>
<text x="86.40" y="53.70" font-size="6.35" fill="#4A57C8" stroke="#4A57C8" stroke-width="0.16">LPC(12:0)</text>
<text x="133.80" y="61.90" font-size="6.35" fill="#4A57C8" stroke="#4A57C8" stroke-width="0.16">PC(32:4)</text>
<text x="82.90" y="62.20" font-size="6.35" fill="#2DBE9B" stroke="#2DBE9B" stroke-width="0.16">SM(d36:1)</text>
<text x="126.60" y="69.90" font-size="6.35" fill="#2DBE9B" stroke="#2DBE9B" stroke-width="0.16">SM(d18:1_22:1)</text>
<text x="43.40" y="69.50" font-size="6.35" fill="#E4322B" stroke="#E4322B" stroke-width="0.16">TG(16:0_16:0_16:0)</text>
<text x="133.80" y="77.60" font-size="6.35" fill="#4A57C8" stroke="#4A57C8" stroke-width="0.16">PC(16:2e_16:0)</text>
<text x="78.80" y="78.70" font-size="6.35" fill="#4A57C8" stroke="#4A57C8" stroke-width="0.16">PC(19:0)</text>
<text x="63.20" y="87.20" font-size="6.35" fill="#2DBE9B" stroke="#2DBE9B" stroke-width="0.16">SM(d18:1_18:1)</text>
<text x="140.00" y="86.20" font-size="6.35" fill="#2DBE9B" stroke="#2DBE9B" stroke-width="0.16">SM(d32:1)</text>
<text x="127.60" y="98.10" font-size="6.35" fill="#2DBE9B" stroke="#2DBE9B" stroke-width="0.16">SM(d38:1)</text>
<text x="43.00" y="120.60" font-size="6.6" fill="#111" stroke="#111" stroke-width="0.16">Down with</text>
<text x="43.00" y="128.20" font-size="6.6" fill="#111" stroke="#111" stroke-width="0.16">CDP-choline</text>
<line x1="83.20" y1="129.20" x2="40.10" y2="129.20" stroke="#1a1a1a" stroke-width="0.9"/>
<polygon points="36.50,129.20 40.10,127.50 40.10,130.90" fill="#1a1a1a"/>
<text x="117.90" y="120.60" font-size="6.6" fill="#111" stroke="#111" stroke-width="0.16">Up with</text>
<text x="117.90" y="128.20" font-size="6.6" fill="#111" stroke="#111" stroke-width="0.16">CDP-choline</text>
<line x1="115.00" y1="129.20" x2="159.00" y2="129.20" stroke="#1a1a1a" stroke-width="0.9"/>
<polygon points="162.60,129.20 159.00,130.90 159.00,127.50" fill="#1a1a1a"/>
<text x="0.00" y="172.30" font-size="10.8" font-weight="bold" fill="#000" stroke="#000" stroke-width="0.5">b</text>
<text x="50.90" y="173.40" font-size="6.6" fill="#111" stroke="#111" stroke-width="0.16">Pearson <tspan font-style="italic">r</tspan> = −0.487</text>
<line x1="103.90" y1="176.60" x2="103.90" y2="284.10" stroke="#b5b5b5" stroke-width="0.5" stroke-dasharray="0.7 0.9"/>
<line x1="48.90" y1="230.35" x2="158.90" y2="230.35" stroke="#b5b5b5" stroke-width="0.5" stroke-dasharray="0.7 0.9"/>
<path d="M84.3 197.1L99.4 232.3L106.5 217.0L107.2 240.5L105.9 240.9L99.8 254.7L100.1 215.9L99.9 219.9L96.0 225.3L101.2 209.9L99.8 220.9L100.4 222.9L82.8 201.7L92.6 222.4L105.0 246.2L105.7 230.0L112.1 235.1L101.7 228.9L109.8 225.9L110.9 242.7L93.3 224.7L118.2 248.8L98.4 226.9L103.0 234.8L110.8 239.0L92.6 232.4L98.5 223.0L99.4 232.5L100.9 225.3L96.7 224.2L99.3 221.7L102.0 236.4L110.0 233.5L110.9 235.3L92.8 221.1L99.0 235.3L107.6 230.0L98.3 238.2L95.7 218.7L107.4 230.3L97.0 228.7L111.6 253.0L103.9 228.1L108.8 240.6L110.5 240.5L103.3 238.6L100.8 223.6L106.0 244.2L87.6 215.1L97.5 229.5L107.6 261.8L92.5 249.8L109.4 249.5L121.3 243.5L99.7 231.6L116.3 254.1L107.8 209.6L112.2 235.7L87.4 214.5L99.8 225.7L99.0 229.7L107.1 246.4L112.6 235.7L108.5 237.2L99.1 225.1L102.8 221.6L93.3 229.2L104.5 236.6L97.5 228.7L91.8 210.1L99.0 236.3L93.9 227.4L90.3 227.0L96.6 222.4L96.1 241.6L103.8 236.5L100.0 205.4L111.6 238.4L113.4 236.1L115.2 247.9L109.4 239.3L111.6 231.6L103.4 239.4L110.5 234.6L99.4 225.8L95.6 200.6L95.4 211.8L105.5 214.8L107.4 236.8L99.5 221.8L103.7 243.8L108.3 238.9L105.1 226.9L103.4 257.8L113.8 227.8L101.6 220.6L99.1 222.1L101.1 218.9L110.7 248.6L105.0 225.3L105.8 237.2L102.1 237.8L105.5 249.8L96.4 218.9L106.7 250.3L107.9 217.7L101.7 225.6L103.1 236.6L105.2 243.4L101.8 226.3L99.9 234.6L105.2 243.0L104.4 215.0L103.6 234.2L120.5 247.7L98.2 228.8L102.0 216.9L94.2 220.9L103.2 229.5L97.3 234.6L104.5 217.8L101.4 211.2L95.8 231.5L106.6 241.6L104.8 221.1L105.8 223.1L106.8 225.9L98.9 224.0L95.1 221.3L96.5 229.9L89.6 201.4L97.7 218.1L108.1 229.1L98.9 220.4L95.1 214.5L104.2 233.4L98.7 217.8L103.8 228.4L103.7 232.5L103.4 238.6L100.1 225.1L97.7 227.1L97.0 220.7L109.9 244.2L107.5 213.6L97.2 210.6L105.2 254.6L106.3 231.0L112.1 229.4L102.3 237.6L106.5 207.5L94.4 226.6L90.1 223.4L100.5 215.4L97.5 234.7L97.9 221.8L100.4 224.3L106.7 235.3L111.7 232.8L95.6 213.6L100.3 232.8L98.0 233.4L95.0 220.9L91.5 222.8L96.3 245.4L121.7 236.9L106.6 223.9L106.5 234.3L100.8 232.7L117.8 242.4L97.5 242.4L87.4 225.9L116.0 241.2L104.8 228.8L108.0 232.9L102.7 222.0L93.0 205.5L95.8 209.4L101.5 230.1L104.7 221.3L109.9 263.0L94.1 213.1L100.3 218.3L84.3 215.8L106.0 253.7L102.8 223.1L105.2 224.4L116.2 230.4L108.3 238.8L97.0 234.1L114.0 244.1L105.6 234.8L110.7 235.5L104.5 225.7L111.2 238.2L89.4 206.0L98.4 237.7L110.8 234.0L96.3 225.7L98.7 208.8L92.3 219.8L102.9 255.2L98.6 229.1L93.4 235.8L102.7 217.5L113.6 235.7L98.2 223.8L90.2 225.7L103.9 240.0L107.9 235.0L100.3 224.9L128.3 245.9L104.8 239.5L107.7 242.2L112.2 237.2L113.4 238.8L92.8 231.4L99.4 237.2L100.5 227.8L103.0 223.3L120.9 239.6L98.5 224.7L105.0 232.6L111.6 241.9L111.2 230.0L105.4 244.1L110.8 247.8L103.0 222.5L88.1 196.2L112.7 239.6L98.8 210.7L92.5 212.8L99.3 221.5L101.0 226.2L100.4 234.7L97.4 237.9L105.2 231.0L99.4 221.7L98.8 235.4L104.0 231.4L110.0 224.5L98.8 236.6L96.4 227.6L103.4 240.3L94.8 229.2L109.0 254.4L101.0 225.6L97.1 228.0L102.2 239.8L102.7 236.9L107.2 241.7L99.0 221.4L101.0 237.7L106.2 228.9L104.4 239.5L87.6 211.8L105.0 227.4L91.9 220.0L106.5 227.8L109.1 242.7L75.2 201.5L107.5 230.6L103.4 229.0L94.3 233.8L109.6 238.3L94.9 221.4L102.8 239.4L100.2 232.7L100.3 224.0L108.0 235.7L97.9 218.6L96.6 227.0L87.5 218.1L94.2 232.7L100.9 235.9L104.8 236.0L105.9 222.7L95.6 237.9L100.1 231.0L119.9 228.9L109.7 237.4L99.1 222.2L96.9 226.0L102.3 239.8L92.9 214.9L112.6 223.4L108.0 244.9L109.5 248.4L103.3 239.2L90.5 217.7L89.5 234.9L93.4 219.1L102.6 237.6L96.4 219.2L104.3 224.5L97.2 225.9L101.2 234.7L106.1 242.3L86.4 219.2L102.5 229.3L101.9 227.4L107.6 226.8L104.3 220.1L103.2 247.3L107.3 225.3L107.7 216.1L102.1 215.6L100.5 235.0L108.0 247.1L100.7 224.3L88.1 221.8L95.9 219.8L124.9 249.2L100.2 234.4L101.4 227.9L99.1 212.9L95.4 217.8L98.7 214.8L92.0 224.8L102.6 233.9L104.9 229.6L104.3 243.9L105.2 241.0L103.2 240.8L101.2 232.1L107.9 230.1L100.1 236.3L96.7 216.7L101.1 209.5L101.2 225.8L104.2 233.7L116.7 233.0L111.9 237.7L87.7 251.5L106.2 234.2L102.0 219.4L100.5 216.4L94.5 217.9L97.6 229.6L87.4 211.4L93.1 214.4L108.6 222.6L103.0 226.2L96.6 242.9L105.2 224.1L102.8 234.9L103.0 238.9L103.6 219.8L106.5 221.2L104.8 232.1L88.8 214.8L104.0 231.7L97.8 207.2L97.2 226.0L106.2 227.0L103.6 229.6L96.1 240.2L105.3 239.8L99.3 215.0L105.2 244.3L104.9 246.3L104.1 233.8L101.6 213.9L109.6 220.7L92.2 236.4L100.7 234.6L98.9 228.3L95.1 233.1L97.2 227.5L100.4 233.5L94.6 228.1L107.2 222.6L109.5 222.7L110.5 241.1L107.3 227.9L107.0 239.4L111.0 225.5L98.0 230.3L98.3 215.8L121.0 233.6L89.8 218.8L109.1 247.2L97.3 222.5L109.9 241.9L106.4 250.0L84.5 205.1L99.0 222.2L113.4 224.4L109.9 202.7L95.3 221.0L98.9 232.4L105.6 226.4L86.8 221.2L94.6 224.3L90.5 241.6L103.2 247.8L100.2 220.4L117.4 243.1L108.2 237.7L114.8 230.0L101.0 237.7L101.4 236.9L96.9 223.1L112.5 232.8L104.2 229.1L103.8 246.6L98.9 220.9L98.6 225.7L110.5 243.9L110.5 234.5L105.8 230.3L73.9 207.6L101.5 215.8L97.9 225.1L101.9 219.6L109.2 244.5L97.0 224.6L98.5 220.9L94.0 234.4L101.8 249.7L99.2 235.6L102.2 228.4L105.5 233.4L107.9 252.7L99.0 225.2L100.6 228.8L105.0 227.6L103.9 237.9L109.0 243.3L93.7 224.0L118.7 239.9L94.8 231.4L103.7 229.6L104.1 231.5L106.6 228.5L101.6 239.3L105.3 227.6L111.4 237.8L135.7 254.5L105.2 226.5L101.0 227.2L110.0 230.6L111.7 249.3L104.0 238.2L106.1 225.5L96.0 224.7L98.8 216.4L108.7 228.2L98.1 224.1L105.1 238.4L110.0 240.8L104.8 221.8L110.3 225.3L110.3 231.7L110.9 241.7L95.8 225.4L92.9 214.2L107.0 230.0L91.1 190.1L104.0 235.7L113.5 226.9L103.2 232.9L113.5 246.0L104.8 238.7L90.2 211.3L105.0 229.8L97.5 226.6L92.7 222.0L100.8 232.5L87.3 214.6L92.8 225.1L99.3 233.5L120.9 242.8L103.7 214.8L96.8 231.6L93.3 221.2L106.1 228.6L108.1 232.6L86.1 218.9L92.4 210.6L98.6 225.8L89.5 210.9L102.4 233.5L120.1 249.1L101.2 236.1L107.1 218.8L96.9 222.2L100.9 219.4L100.8 225.8L98.1 226.3L103.8 228.1L102.4 235.3L102.6 225.4L97.1 226.1L113.7 224.8L104.8 226.6L104.9 230.4L109.2 231.4L98.5 226.8L98.9 226.1L104.3 220.7L115.9 247.1L107.8 233.3L83.1 207.6L105.2 232.2L96.8 209.4L107.5 237.1L102.7 225.7L107.0 230.8L87.8 243.2L106.7 228.4L102.5 239.2L99.6 235.3L96.0 218.7L100.0 217.8L107.5 232.6L99.4 216.5L103.6 216.1L101.6 229.2L89.9 215.8L104.5 219.8L108.1 241.8L99.3 223.9L108.1 226.1L98.8 231.8L106.6 237.4L102.5 237.9L110.1 243.2L103.4 231.7L110.0 230.4L100.3 209.4L98.2 227.6L111.2 228.7L99.9 212.0L98.0 222.6L111.0 229.5L103.6 236.4L109.8 236.6L119.6 237.9L94.7 211.9L102.6 242.3L124.1 253.8L105.8 212.6L102.2 219.9L103.8 221.0L105.0 239.4L105.6 231.2L99.1 222.7L106.0 241.7L94.2 221.3L97.9 230.1L90.8 231.1L103.6 236.1L104.3 211.5L96.1 204.7L102.9 240.9L106.3 237.2L99.3 243.0L100.1 233.1L110.7 229.7L108.9 229.2L93.6 219.3L101.7 234.6L98.8 232.9L110.5 243.3L99.0 235.3L118.6 237.4L99.4 223.9L110.5 230.9L93.5 231.0L107.6 249.9L95.3 228.3L110.8 235.9L96.6 233.6L95.8 214.8L96.4 229.3L93.8 229.7L97.1 222.3L124.2 230.3L102.5 231.0L100.6 226.6L101.4 227.8L101.4 212.0L103.4 213.7L94.6 220.9L95.6 220.2L105.6 235.1L109.0 246.2L122.8 234.0L110.2 228.3L103.6 222.6L102.0 256.6L95.4 216.5L104.4 226.3L104.6 238.5L101.4 220.9L103.1 204.0L118.0 235.1L101.2 221.2L102.8 255.7L96.9 227.3L105.6 221.8L102.2 239.8L106.5 222.5L105.8 227.1L84.3 211.2L119.0 252.3L95.4 223.4L106.8 218.8L99.9 220.0L103.6 235.5L103.8 221.3L116.1 251.6L101.5 229.3L88.5 222.0L93.3 227.7L116.6 228.2L106.4 225.2L92.6 216.4L109.6 227.7L100.3 220.0L83.3 204.7L98.4 223.7L101.5 214.4L99.9 226.1L96.5 234.0L109.8 238.9L105.3 221.4L104.3 229.5L101.9 219.0L105.7 219.5L91.6 217.8L110.4 230.5L99.2 219.5L96.0 221.1L90.5 234.2L102.6 211.0L98.6 230.9L105.8 240.2L102.3 210.3L105.9 241.8L96.6 237.1L95.5 222.5L107.1 241.8L97.2 229.4L101.0 226.9L105.4 230.4L102.1 233.4L103.8 236.6L88.0 250.0L108.0 232.7L93.7 222.7L103.1 230.4L106.1 235.4L87.5 211.6L100.3 212.8L106.9 227.1L94.6 207.7L92.1 223.1L109.6 253.5L101.3 236.7L99.7 222.4L106.1 239.5L94.4 223.7L106.0 238.8L103.5 233.5L97.7 231.4L101.5 223.9L94.9 228.8L101.4 226.7L101.1 217.5L98.2 217.3L104.4 230.2L94.3 211.1L99.1 207.6L97.5 215.0L102.6 227.1L96.9 202.0L84.1 198.3L100.1 233.9L103.4 224.5L106.6 235.1L97.0 217.1L100.7 236.8L107.2 231.2L98.5 228.6L106.8 236.4L105.0 232.5L108.1 219.0L99.2 195.4L105.1 230.1L98.3 222.7L115.4 238.0L106.3 249.2L113.2 240.5L97.9 219.0L105.8 231.3L107.1 236.4L99.7 219.3L86.7 211.4L115.6 229.0L107.9 232.6L94.1 222.6L94.5 219.8L105.1 224.6L98.3 230.2L94.4 214.3L97.8 224.2L105.8 234.0L109.1 222.9L105.0 237.6L115.9 261.7L108.7 233.4L97.1 224.7L107.8 228.3L97.0 222.1L100.2 209.5L102.8 221.3L104.0 235.7L107.1 221.4L102.3 226.8L94.1 239.2L77.7 202.1L99.5 219.2L98.8 223.5L104.1 229.7L104.7 236.4L107.7 241.7L99.1 221.1L95.9 230.3L105.0 212.9L106.4 240.3L102.0 249.0L100.2 228.3L98.7 223.9L106.5 249.3L107.3 229.5L104.0 243.1L98.3 243.7L111.8 227.4L97.6 235.0L102.8 227.8L105.8 247.0L110.6 237.5L110.9 249.4L90.9 207.1L101.4 229.4L94.7 219.1L110.7 230.3L106.5 229.3L115.1 256.5L99.5 228.4L102.1 225.6L108.6 230.3L98.2 235.5L98.4 216.0L86.0 209.8L95.8 222.1L103.3 227.3L100.0 235.0L102.3 234.5L97.0 217.2L99.8 222.8L109.6 214.2L99.4 206.3L100.0 232.6L100.4 234.4L113.8 244.6L98.9 210.1L101.7 231.6L117.2 241.3L106.7 250.0L92.7 209.8L120.0 245.5L93.6 211.6L109.1 256.2L97.1 238.2L89.8 229.9L93.8 219.7L98.1 231.1L109.0 219.8L100.4 236.7L114.8 248.2L90.8 206.6L115.6 228.1L99.0 229.3L102.3 240.1L102.3 224.7L102.4 225.7L104.9 244.2L102.5 226.2L101.0 210.3L83.1 220.4L94.3 216.6L110.2 252.6L100.0 232.6L101.2 231.3L107.0 221.8L104.4 223.6L106.5 231.3L125.3 249.9L109.5 232.5L94.9 226.9L111.1 235.0L95.9 222.5L103.2 234.5L97.7 226.2L95.3 257.3L98.4 211.2L101.1 231.4L102.3 231.3L95.9 221.6L104.5 225.0L100.6 223.9L106.3 237.3L102.1 209.1L99.5 224.2L102.3 234.8L103.5 257.9L97.2 223.1L105.1 245.7L121.2 245.3L104.8 232.3L111.2 246.0L105.9 241.1L101.1 249.1L107.5 249.0L92.8 223.4L111.8 242.1L104.8 228.3L99.7 217.5L90.2 201.8L91.1 214.4L113.9 218.4L113.2 192.7L102.1 249.2L104.3 234.1L106.4 234.3L89.3 229.0L98.8 218.8L109.7 224.8L100.2 210.4L96.0 230.4L103.2 231.6L97.1 212.0L107.3 238.8L104.2 229.2L96.3 229.2L110.1 237.5L112.9 238.8L94.8 211.0L101.4 231.1L124.0 253.9L98.9 214.8L105.6 251.1L109.7 231.3L93.9 207.0L99.6 230.5L82.6 214.9L102.4 226.3L107.7 223.2L97.6 215.5L101.5 229.5L96.9 221.7L112.8 250.4L103.4 237.4L98.5 224.8L111.7 240.8L124.4 253.0L98.6 218.9L115.7 234.3L93.3 214.5L106.2 233.6L109.3 237.4L106.1 246.9L108.3 224.3L78.2 224.2L98.0 227.8L102.0 216.1L100.5 225.8L86.3 206.0L99.6 223.1L100.0 233.7L72.4 205.0L111.9 208.2L106.1 193.2L86.2 225.8L96.7 241.3L92.0 226.3L100.5 233.1L92.5 221.5L96.7 210.7L98.5 227.0L96.6 219.5L104.4 247.2L102.4 228.0L93.0 217.2L107.1 242.0L96.0 219.2L98.7 210.2L98.0 226.6L107.3 246.9L94.9 219.8L98.3 245.2L103.2 225.3L103.1 236.2L101.5 242.2L99.6 205.6L108.2 234.9L101.6 232.7L100.2 220.2L100.9 225.3L101.4 235.4L105.8 219.8L105.5 226.6L98.5 223.8L103.4 230.7L86.7 223.3L97.6 226.0L98.4 212.2L86.2 224.1L116.8 240.1L111.1 228.5L97.9 222.6L102.0 252.7L104.0 211.6L105.1 228.6L103.6 228.9L93.3 239.8L85.3 199.3L95.3 220.4L107.7 227.4L106.3 222.6L97.9 219.1L106.7 234.2L111.1 230.2L94.5 213.0L109.6 234.2L101.5 230.4L105.2 249.2L100.0 242.6L113.7 228.9L97.9 225.3L107.2 227.7L88.8 220.0L100.9 237.2L102.1 225.9L111.9 239.7L104.7 220.9L101.0 233.4L100.8 241.8L99.4 220.8L96.2 233.6L105.0 229.5L105.7 226.5L99.8 226.8L95.5 225.5L92.7 201.9L98.3 226.9L102.6 221.4L110.1 220.5L95.7 208.8L102.1 241.5L93.5 206.5L93.3 203.5L103.3 227.9L103.2 226.6L91.0 221.2L93.8 221.1L104.8 232.6L101.7 235.0L111.1 238.7L95.9 222.3L96.6 247.1L89.0 212.1L116.7 240.4L97.2 227.1L108.9 239.1L103.9 234.6L112.9 252.7L90.8 234.7L98.0 227.4L108.0 241.0L99.9 226.6L79.9 222.8L104.1 224.7L87.4 216.4L107.7 242.3L115.9 239.0L79.2 211.2L102.2 215.9L100.4 241.3L99.0 186.2L105.2 225.1L116.8 239.6L87.1 208.6L101.8 232.7L118.2 218.1L104.2 222.5L106.4 235.0L102.4 227.7L88.3 197.4L99.6 229.7L86.5 201.5L97.5 227.0L108.6 251.9L92.4 234.8L104.6 234.3L101.1 238.9L100.3 217.7L105.6 222.2L123.5 241.8L114.7 215.4L109.8 250.2L109.1 245.4L100.7 228.4L98.4 214.0L101.9 238.6L87.7 198.4L109.9 217.1L111.1 243.1L100.0 225.6L100.3 224.5L101.7 242.5L100.9 243.1L102.6 215.9L87.6 212.0L96.8 218.1L97.4 236.0L93.9 221.0L104.1 233.1L105.8 241.9L108.8 237.0L100.5 228.9L90.6 217.6L112.5 235.1L101.0 211.0L100.9 235.3L108.3 223.6L90.5 201.9L90.9 206.3L104.8 227.2L96.2 216.0L91.7 208.2L108.8 242.7L99.2 236.5L94.1 227.6L106.8 239.6L93.4 220.4L93.9 229.0L94.7 226.6L92.0 217.7L98.8 228.8L103.0 222.3L98.0 220.2L89.4 215.1L94.2 224.3L101.2 215.0L111.0 231.1L101.1 239.6L95.2 230.2L102.1 211.3L93.1 215.9L97.2 219.6L102.3 209.8L111.7 232.0L104.0 236.1L109.0 239.1L105.6 232.0L88.1 228.2L93.2 213.7L114.4 259.8L108.3 239.9L104.3 234.0L95.3 225.1L102.7 236.7L84.6 219.2L104.5 213.8L114.2 235.3L99.1 233.0L80.2 202.5L100.2 230.3L100.5 216.1L100.5 234.9L105.7 243.3L98.4 229.7L99.7 223.0L103.3 213.2L111.6 224.8L102.4 203.1L106.5 230.2L103.9 222.0L93.2 208.6L99.5 246.6L100.4 217.7L106.4 237.9L101.0 227.0L99.7 233.1L108.9 216.7L101.4 240.1L122.6 249.4L108.2 240.9L100.9 238.7L107.7 223.2L106.6 227.0L94.8 202.9L103.1 214.1L101.4 234.3L98.6 227.5L104.8 230.0L108.2 234.0L107.3 224.0L104.0 230.2L99.3 229.0L96.5 231.9L102.1 227.1L102.4 234.2L109.8 261.4L84.4 206.6L101.1 228.5L95.7 225.0L98.6 213.6L109.8 242.3L93.6 229.1L112.4 234.8L95.2 250.1L101.9 231.2L90.3 228.8L101.2 214.2L109.8 215.6L106.2 240.4L108.3 220.7L106.2 243.1L101.0 193.0L102.8 204.9L99.1 235.2L98.2 223.8L106.5 228.9L109.6 242.4L105.8 233.4L98.7 219.3L105.3 230.9L102.7 215.4L95.9 218.8L100.4 224.3L106.3 229.4L99.0 217.0L101.0 243.2L103.5 231.3L98.3 223.3L110.6 233.7L105.5 235.2L106.3 243.8L106.6 241.4L107.6 198.9L98.1 231.5L110.0 237.7L100.9 230.3L101.8 215.3L106.9 229.4L94.3 230.2L103.9 222.2L110.4 231.9L99.7 232.6L95.5 223.9L114.6 253.6L103.1 233.3L100.3 228.2L100.9 239.5L110.5 228.2L105.1 242.0L104.4 236.2L102.9 248.9L104.4 223.0L95.3 236.6L95.9 213.8L105.6 227.1L104.5 229.6L92.9 234.3L83.0 220.5L107.2 226.6L98.6 229.3L108.3 235.7L110.3 242.1L89.5 206.8L92.0 221.7L108.0 242.4L102.4 218.4L106.4 229.0L101.5 234.2L99.6 233.2L97.7 218.9L97.5 219.4L94.8 214.2L109.2 227.4L106.8 225.7L110.4 239.8L97.1 213.8L104.3 249.1L109.9 231.4L99.2 236.5L98.7 222.5L89.5 214.0L103.8 242.6L106.7 240.0L100.8 232.3L111.5 248.5L97.3 205.7L104.4 218.0L107.5 244.7L102.7 198.2L110.0 225.9L108.2 234.2L99.9 217.5L102.3 200.0L83.9 205.2L103.7 241.0L119.0 237.0L101.2 230.5L102.5 237.0L125.7 235.7L95.5 206.0L101.5 227.1L97.2 225.8L100.3 223.5L100.1 215.2L118.3 251.0L108.7 218.4L103.5 243.5L107.1 222.8L102.9 215.5L103.4 234.0L106.3 220.2L111.1 232.7L101.8 203.3L96.3 221.4L110.0 246.5L114.7 272.6L119.5 237.3L104.2 223.2L105.4 234.6L115.2 222.2L99.1 235.0L102.9 215.5L99.3 234.5L98.3 229.9L85.3 197.4L93.9 199.6L107.8 237.1L100.4 218.1L104.3 227.5L105.7 224.1L96.8 218.6L101.0 221.2L112.3 221.3L97.3 222.6L108.4 234.5L94.9 211.8L120.5 257.2L100.6 230.4L105.1 235.5L95.4 217.9L108.2 224.2L102.4 230.5L93.9 236.2L91.9 223.9L115.1 227.6L96.8 240.5L99.1 208.9L92.5 215.9L99.4 226.8L108.4 232.6L99.0 233.4L93.0 207.7L108.2 232.7L99.2 221.6L99.0 197.1L98.3 229.5L106.3 241.4L108.0 221.4L81.7 211.7L104.9 226.7L112.0 245.1L96.5 230.1L98.8 239.1L85.7 219.5L98.8 224.3L106.0 236.1L93.3 221.4L106.0 240.1L100.4 200.5L96.6 229.0L109.5 231.8L95.5 223.8L101.5 250.7L102.3 229.9L106.0 248.8L97.7 215.6L102.3 231.0L99.9 232.2L99.1 247.8L122.8 250.3L111.1 233.3L110.8 228.4L84.7 228.4L100.2 218.7L100.3 233.7L100.0 220.8L106.9 226.0L101.5 232.5L108.2 231.8L103.5 241.0L102.0 219.3L94.3 197.6L105.6 226.9L99.4 231.3L102.0 251.4L98.8 211.6L103.9 216.2L104.1 226.6L105.4 239.6L96.0 226.5L111.5 248.8L108.6 249.9L122.3 238.7L121.6 243.6L101.8 232.3L105.4 227.1L97.8 200.4L91.2 223.8L102.3 235.2L100.0 220.2L106.6 215.9L94.5 220.6L103.8 236.5L95.1 237.0L95.4 213.0L106.6 231.3L88.0 225.4L87.1 219.3L97.7 215.0L106.7 235.5L101.6 231.6L99.0 204.6L108.3 229.5L104.6 221.4L104.8 238.4L117.7 249.3L99.9 242.5L86.4 241.4L92.7 222.3L107.0 233.2L96.9 218.1L102.8 218.9L102.2 233.9L103.1 210.9L91.2 228.4L103.2 238.9L114.2 239.6L103.2 239.2L102.3 226.9L102.1 224.4L99.7 225.7L90.3 226.3L102.3 234.7L104.3 210.3L99.1 236.0L101.3 223.6L100.9 270.9L106.7 228.8L103.1 229.0L97.2 225.6L93.9 218.2L99.9 227.0L103.7 226.4L107.0 211.7L104.1 242.4L101.1 229.6L105.4 230.1L98.1 221.1L104.8 240.6L106.7 225.4L108.2 241.2L99.2 220.8L106.3 232.3L107.1 228.8L100.3 214.8L101.3 223.1L99.6 231.4L102.1 244.8L107.9 225.0L76.6 221.7L122.2 238.2L113.3 240.2L111.4 245.3L107.4 247.3L97.7 230.2L120.0 237.1L98.2 216.4L98.3 225.8L97.9 227.1L106.5 238.2L101.5 230.0L87.2 215.3L103.9 241.7L92.1 227.3L107.0 228.9L100.0 221.8L94.7 214.6L106.3 223.3L93.8 228.0L100.4 207.9L89.4 222.2L103.9 248.8L101.9 216.2L109.0 235.3L100.9 240.9L88.7 221.6L98.6 209.9L96.7 255.1L90.2 219.9L95.8 227.1L102.8 229.3L106.8 242.5L98.0 209.4L98.8 207.2L100.2 230.6L110.2 256.1L84.4 216.6L114.9 232.6L107.1 236.3L99.5 214.3L109.2 241.9L94.9 211.3L109.8 242.7L103.1 231.3L93.3 207.7L100.0 246.6L111.3 235.9L97.1 230.3L103.0 230.0L106.7 246.6L106.5 248.2L108.5 230.8L96.0 220.1L109.5 223.4L109.0 231.7L102.9 228.7L105.4 222.4L102.9 240.5L102.1 228.2L102.4 241.1L107.9 227.3L95.8 218.7L96.9 234.9L78.4 208.8L97.9 251.5L104.9 245.5L100.1 223.0L107.3 236.6L95.7 230.3L95.5 225.9L98.9 220.1L98.4 218.3L91.7 218.3L97.7 212.5L111.2 226.7L103.1 237.9L95.3 219.2L94.6 216.1L101.9 222.0L108.1 228.2L118.4 248.7L103.4 232.2L109.4 231.3L103.8 241.2L109.2 236.6L99.5 242.6L95.6 223.7L112.6 233.2L103.1 218.0L100.3 230.1L107.7 237.6L100.8 215.9L108.8 235.4L110.6 233.8L106.9 213.9L100.4 251.3L99.1 216.4L103.0 220.9L103.7 238.6L103.0 239.9L101.7 226.9L96.5 227.6L97.5 226.2L96.4 221.4L69.1 185.6L73.8 186.6L80.1 183.1L91.1 189.1L105.0 191.7L119.7 206.3L123.0 225.0L127.0 225.3L132.5 266.2L130.3 270.8L128.8 272.6L99.5 268.7L109.0 266.5L81.9 259.0" stroke="none" fill="none" marker-start="url(#mb)" marker-mid="url(#mb)" marker-end="url(#mb)"/>
<line x1="53.40" y1="189.00" x2="144.70" y2="261.80" stroke="#222" stroke-width="1.0"/>
<rect x="48.90" y="176.60" width="110.00" height="107.50" fill="none" stroke="#1a1a1a" stroke-width="0.8" rx="0"/>
<line x1="48.90" y1="284.10" x2="48.90" y2="287.50" stroke="#1a1a1a" stroke-width="0.75"/>
<text x="48.90" y="297.20" font-size="6.6" text-anchor="middle" fill="#111" stroke="#111" stroke-width="0.16">−15</text>
<line x1="45.00" y1="284.10" x2="48.90" y2="284.10" stroke="#1a1a1a" stroke-width="0.75"/>
<text x="43.00" y="286.40" font-size="6.6" text-anchor="end" fill="#111" stroke="#111" stroke-width="0.16">−15</text>
<line x1="67.23" y1="284.10" x2="67.23" y2="287.50" stroke="#1a1a1a" stroke-width="0.75"/>
<text x="67.23" y="297.20" font-size="6.6" text-anchor="middle" fill="#111" stroke="#111" stroke-width="0.16">−10</text>
<line x1="45.00" y1="266.18" x2="48.90" y2="266.18" stroke="#1a1a1a" stroke-width="0.75"/>
<text x="43.00" y="268.48" font-size="6.6" text-anchor="end" fill="#111" stroke="#111" stroke-width="0.16">−10</text>
<line x1="85.56" y1="284.10" x2="85.56" y2="287.50" stroke="#1a1a1a" stroke-width="0.75"/>
<text x="85.56" y="297.20" font-size="6.6" text-anchor="middle" fill="#111" stroke="#111" stroke-width="0.16">−5</text>
<line x1="45.00" y1="248.26" x2="48.90" y2="248.26" stroke="#1a1a1a" stroke-width="0.75"/>
<text x="43.00" y="250.56" font-size="6.6" text-anchor="end" fill="#111" stroke="#111" stroke-width="0.16">−5</text>
<line x1="103.90" y1="284.10" x2="103.90" y2="287.50" stroke="#1a1a1a" stroke-width="0.75"/>
<text x="103.90" y="297.20" font-size="6.6" text-anchor="middle" fill="#111" stroke="#111" stroke-width="0.16">0</text>
<line x1="45.00" y1="230.35" x2="48.90" y2="230.35" stroke="#1a1a1a" stroke-width="0.75"/>
<text x="43.00" y="232.65" font-size="6.6" text-anchor="end" fill="#111" stroke="#111" stroke-width="0.16">0</text>
<line x1="122.24" y1="284.10" x2="122.24" y2="287.50" stroke="#1a1a1a" stroke-width="0.75"/>
<text x="122.24" y="297.20" font-size="6.6" text-anchor="middle" fill="#111" stroke="#111" stroke-width="0.16">5</text>
<line x1="45.00" y1="212.44" x2="48.90" y2="212.44" stroke="#1a1a1a" stroke-width="0.75"/>
<text x="43.00" y="214.74" font-size="6.6" text-anchor="end" fill="#111" stroke="#111" stroke-width="0.16">5</text>
<line x1="140.57" y1="284.10" x2="140.57" y2="287.50" stroke="#1a1a1a" stroke-width="0.75"/>
<text x="140.57" y="297.20" font-size="6.6" text-anchor="middle" fill="#111" stroke="#111" stroke-width="0.16">10</text>
<line x1="45.00" y1="194.52" x2="48.90" y2="194.52" stroke="#1a1a1a" stroke-width="0.75"/>
<text x="43.00" y="196.82" font-size="6.6" text-anchor="end" fill="#111" stroke="#111" stroke-width="0.16">10</text>
<line x1="158.91" y1="284.10" x2="158.91" y2="287.50" stroke="#1a1a1a" stroke-width="0.75"/>
<text x="158.91" y="297.20" font-size="6.6" text-anchor="middle" fill="#111" stroke="#111" stroke-width="0.16">15</text>
<line x1="45.00" y1="176.60" x2="48.90" y2="176.60" stroke="#1a1a1a" stroke-width="0.75"/>
<text x="43.00" y="178.91" font-size="6.6" text-anchor="end" fill="#111" stroke="#111" stroke-width="0.16">15</text>
<text x="104.10" y="306.20" font-size="6.6" text-anchor="middle" fill="#111" stroke="#111" stroke-width="0.16">WT versus p.Tyr622*</text>
<text x="16.70" y="230.90" font-size="6.6" text-anchor="middle" fill="#111" stroke="#111" stroke-width="0.16" transform="rotate(-90 16.70 230.90)">p.Tyr622* + H<tspan font-size="4.6" dy="1.5">2</tspan><tspan dy="-1.5" font-size="0.1"> </tspan>O versus</text>
<text x="25.20" y="230.90" font-size="6.6" text-anchor="middle" fill="#111" stroke="#111" stroke-width="0.16" transform="rotate(-90 25.20 230.90)">p.Tyr622* + CDP-choline</text>
<text x="151.10" y="264.90" font-size="6.6" fill="#111" stroke="#111" stroke-width="0.16" transform="rotate(-90 151.10 264.90)">Down with</text>
<text x="158.00" y="264.90" font-size="6.6" fill="#111" stroke="#111" stroke-width="0.16" transform="rotate(-90 158.00 264.90)">CDP-choline</text>
<line x1="154.60" y1="268.50" x2="154.60" y2="275.80" stroke="#1a1a1a" stroke-width="0.9"/>
<polygon points="154.60,279.40 152.90,275.80 156.30,275.80" fill="#1a1a1a"/>
<text x="110.90" y="282.80" font-size="6.6" fill="#111" stroke="#111" stroke-width="0.16">Up in LoF</text>
<line x1="141.50" y1="280.90" x2="150.20" y2="280.90" stroke="#1a1a1a" stroke-width="0.9"/>
<polygon points="153.80,280.90 150.20,282.60 150.20,279.20" fill="#1a1a1a"/>
<text x="203.60" y="5.90" font-size="10.8" font-weight="bold" fill="#000" stroke="#000" stroke-width="0.5">c</text>
<path d="M219.6 46.9L286.9 28.0M218.3 39.4L284.3 29.8M222.5 34.1L257.8 83.1M222.2 41.0L303.5 39.4M222.8 40.7L292.4 88.7M248.0 77.4L283.6 27.3M243.8 80.2L280.1 25.2M245.5 83.6L296.6 85.1M248.5 85.0L272.9 115.3M253.7 87.7L307.2 58.2M271.4 117.5L297.4 80.9M267.4 113.1L275.1 30.5M272.1 113.5L313.5 64.8M272.5 118.1L296.8 80.7M356.5 74.4L285.9 87.4M353.0 75.1L306.2 61.4M355.4 68.5L307.4 37.1M356.0 69.9L297.3 88.4M307.3 64.0L287.0 37.2M301.7 65.0L294.9 85.6M301.0 42.5L303.0 63.8M287.2 23.6L291.8 80.8M283.0 36.1L301.1 78.9M217.2 44.3L314.3 63.2M248.5 84.7L304.9 36.7M267.1 118.0L306.2 37.1M353.1 66.9L268.1 121.3M218.7 35.7L275.3 118.6M227.9 41.8L280.2 24.2M224.8 51.8L278.7 27.4M221.9 38.2L250.4 82.1M220.3 45.9L305.1 41.2M217.8 42.8L284.4 80.2M254.7 81.1L284.3 32.2M256.8 86.7L286.1 29.6M248.7 80.6L291.0 81.5M249.3 83.1L271.0 115.1M243.8 83.2L308.9 65.8M272.3 113.9L290.1 94.0M273.0 123.8L290.5 26.7M271.5 118.3L310.2 63.7M270.8 117.2L287.0 85.3M351.0 72.5L291.1 88.5M357.3 73.2L309.3 61.9M352.2 71.3L303.0 39.1M354.1 74.3L287.7 89.6M304.9 58.6L281.2 27.7M309.2 59.2L288.7 82.6M310.2 37.7L303.3 61.5M275.8 37.2L286.9 87.9M284.2 24.2L294.2 90.0M221.4 42.5L311.8 62.1M252.8 83.0L307.5 33.7M273.2 114.5L300.6 39.0M360.8 75.8L267.9 119.3M217.7 41.0L270.4 107.2M220.3 37.4L279.2 24.1M213.4 37.7L285.3 36.7M219.4 45.9L250.4 75.9M220.1 43.3L303.3 38.7M221.8 38.0L287.1 85.1M250.7 82.1L285.9 36.9M249.8 86.3L285.8 32.9M255.7 81.9L296.0 94.1M254.7 81.0L272.4 121.5M253.0 81.2L314.2 56.5M272.0 116.4L288.2 90.9M271.4 111.8L284.4 28.3M262.4 113.7L309.1 64.0M270.7 116.7L294.9 85.2M358.7 72.6L294.2 88.2M349.8 69.2L314.1 62.8M352.9 73.4L303.1 38.6M351.3 73.1L286.7 91.3M305.9 55.2L281.1 28.5M308.6 56.9L294.6 100.5M299.9 38.9L306.8 62.3M274.8 25.4L294.8 85.8M288.5 27.2L293.7 97.7M216.4 37.9L307.9 61.3M254.9 84.0L302.0 38.3M280.6 121.6L293.9 36.9M350.5 74.5L269.3 124.2M223.2 45.1L270.7 116.3" stroke="#bdbdbd" stroke-width="0.5" stroke-opacity="0.4" fill="none"/>
<rect x="288.49" y="32.48" width="4.10" height="4.10" fill="#FA9A1E" stroke="#111" stroke-width="0.45" rx="0"/>
<rect x="268.95" y="37.17" width="4.10" height="4.10" fill="#FA9A1E" stroke="#111" stroke-width="0.45" rx="0"/>
<rect x="269.67" y="35.19" width="4.10" height="4.10" fill="#FA9A1E" stroke="#111" stroke-width="0.45" rx="0"/>
<rect x="281.26" y="28.77" width="4.10" height="4.10" fill="#FA9A1E" stroke="#111" stroke-width="0.45" rx="0"/>
<rect x="279.32" y="29.57" width="4.10" height="4.10" fill="#FA9A1E" stroke="#111" stroke-width="0.45" rx="0"/>
<rect x="281.07" y="42.15" width="4.10" height="4.10" fill="#FA9A1E" stroke="#111" stroke-width="0.45" rx="0"/>
<rect x="276.53" y="24.98" width="4.10" height="4.10" fill="#FA9A1E" stroke="#111" stroke-width="0.45" rx="0"/>
<rect x="276.68" y="42.44" width="4.10" height="4.10" fill="#FA9A1E" stroke="#111" stroke-width="0.45" rx="0"/>
<rect x="280.48" y="34.04" width="4.10" height="4.10" fill="#FA9A1E" stroke="#111" stroke-width="0.45" rx="0"/>
<rect x="280.99" y="33.70" width="4.10" height="4.10" fill="#FA9A1E" stroke="#111" stroke-width="0.45" rx="0"/>
<rect x="283.16" y="28.06" width="4.10" height="4.10" fill="#FA9A1E" stroke="#111" stroke-width="0.45" rx="0"/>
<rect x="288.69" y="31.05" width="4.10" height="4.10" fill="#FA9A1E" stroke="#111" stroke-width="0.45" rx="0"/>
<rect x="276.46" y="40.57" width="4.10" height="4.10" fill="#FA9A1E" stroke="#111" stroke-width="0.45" rx="0"/>
<rect x="277.21" y="38.85" width="4.10" height="4.10" fill="#FA9A1E" stroke="#111" stroke-width="0.45" rx="0"/>
<rect x="289.36" y="36.51" width="4.10" height="4.10" fill="#FA9A1E" stroke="#111" stroke-width="0.45" rx="0"/>
<rect x="288.89" y="32.85" width="4.10" height="4.10" fill="#FA9A1E" stroke="#111" stroke-width="0.45" rx="0"/>
<rect x="288.54" y="28.53" width="4.10" height="4.10" fill="#FA9A1E" stroke="#111" stroke-width="0.45" rx="0"/>
<rect x="279.12" y="41.75" width="4.10" height="4.10" fill="#FA9A1E" stroke="#111" stroke-width="0.45" rx="0"/>
<rect x="287.80" y="27.57" width="4.10" height="4.10" fill="#FA9A1E" stroke="#111" stroke-width="0.45" rx="0"/>
<rect x="270.70" y="39.06" width="4.10" height="4.10" fill="#FA9A1E" stroke="#111" stroke-width="0.45" rx="0"/>
<rect x="284.44" y="22.88" width="4.10" height="4.10" fill="#FA9A1E" stroke="#111" stroke-width="0.45" rx="0"/>
<rect x="284.07" y="36.55" width="4.10" height="4.10" fill="#FA9A1E" stroke="#111" stroke-width="0.45" rx="0"/>
<rect x="281.66" y="21.87" width="4.10" height="4.10" fill="#FA9A1E" stroke="#111" stroke-width="0.45" rx="0"/>
<rect x="292.89" y="25.52" width="4.10" height="4.10" fill="#FA9A1E" stroke="#111" stroke-width="0.45" rx="0"/>
<rect x="275.49" y="34.03" width="4.10" height="4.10" fill="#FA9A1E" stroke="#111" stroke-width="0.45" rx="0"/>
<rect x="291.90" y="25.59" width="4.10" height="4.10" fill="#FA9A1E" stroke="#111" stroke-width="0.45" rx="0"/>
<rect x="268.50" y="27.38" width="4.10" height="4.10" fill="#FA9A1E" stroke="#111" stroke-width="0.45" rx="0"/>
<rect x="273.47" y="36.59" width="4.10" height="4.10" fill="#FA9A1E" stroke="#111" stroke-width="0.45" rx="0"/>
<rect x="270.44" y="28.14" width="4.10" height="4.10" fill="#FA9A1E" stroke="#111" stroke-width="0.45" rx="0"/>
<rect x="276.76" y="20.72" width="4.10" height="4.10" fill="#FA9A1E" stroke="#111" stroke-width="0.45" rx="0"/>
<rect x="287.02" y="25.83" width="4.10" height="4.10" fill="#FA9A1E" stroke="#111" stroke-width="0.45" rx="0"/>
<rect x="269.56" y="40.25" width="4.10" height="4.10" fill="#FA9A1E" stroke="#111" stroke-width="0.45" rx="0"/>
<rect x="268.96" y="38.55" width="4.10" height="4.10" fill="#FA9A1E" stroke="#111" stroke-width="0.45" rx="0"/>
<rect x="290.48" y="36.39" width="4.10" height="4.10" fill="#FA9A1E" stroke="#111" stroke-width="0.45" rx="0"/>
<rect x="265.74" y="30.85" width="4.10" height="4.10" fill="#FA9A1E" stroke="#111" stroke-width="0.45" rx="0"/>
<rect x="285.72" y="28.69" width="4.10" height="4.10" fill="#FA9A1E" stroke="#111" stroke-width="0.45" rx="0"/>
<rect x="270.96" y="25.56" width="4.10" height="4.10" fill="#FA9A1E" stroke="#111" stroke-width="0.45" rx="0"/>
<rect x="289.95" y="40.88" width="4.10" height="4.10" fill="#FA9A1E" stroke="#111" stroke-width="0.45" rx="0"/>
<rect x="265.21" y="28.07" width="4.10" height="4.10" fill="#FA9A1E" stroke="#111" stroke-width="0.45" rx="0"/>
<rect x="285.75" y="39.96" width="4.10" height="4.10" fill="#FA9A1E" stroke="#111" stroke-width="0.45" rx="0"/>
<rect x="274.88" y="40.56" width="4.10" height="4.10" fill="#FA9A1E" stroke="#111" stroke-width="0.45" rx="0"/>
<rect x="271.48" y="26.55" width="4.10" height="4.10" fill="#FA9A1E" stroke="#111" stroke-width="0.45" rx="0"/>
<rect x="275.48" y="39.54" width="4.10" height="4.10" fill="#FA9A1E" stroke="#111" stroke-width="0.45" rx="0"/>
<rect x="269.80" y="40.10" width="4.10" height="4.10" fill="#FA9A1E" stroke="#111" stroke-width="0.45" rx="0"/>
<rect x="269.57" y="33.93" width="4.10" height="4.10" fill="#FA9A1E" stroke="#111" stroke-width="0.45" rx="0"/>
<rect x="280.49" y="37.99" width="4.10" height="4.10" fill="#FA9A1E" stroke="#111" stroke-width="0.45" rx="0"/>
<rect x="290.08" y="30.03" width="4.10" height="4.10" fill="#FA9A1E" stroke="#111" stroke-width="0.45" rx="0"/>
<rect x="289.82" y="25.14" width="4.10" height="4.10" fill="#FA9A1E" stroke="#111" stroke-width="0.45" rx="0"/>
<rect x="287.78" y="31.36" width="4.10" height="4.10" fill="#FA9A1E" stroke="#111" stroke-width="0.45" rx="0"/>
<rect x="294.90" y="28.16" width="4.10" height="4.10" fill="#FA9A1E" stroke="#111" stroke-width="0.45" rx="0"/>
<rect x="267.92" y="27.76" width="4.10" height="4.10" fill="#FA9A1E" stroke="#111" stroke-width="0.45" rx="0"/>
<rect x="278.99" y="24.03" width="4.10" height="4.10" fill="#FA9A1E" stroke="#111" stroke-width="0.45" rx="0"/>
<rect x="275.56" y="27.66" width="4.10" height="4.10" fill="#FA9A1E" stroke="#111" stroke-width="0.45" rx="0"/>
<rect x="294.81" y="33.27" width="4.10" height="4.10" fill="#FA9A1E" stroke="#111" stroke-width="0.45" rx="0"/>
<rect x="264.98" y="33.77" width="4.10" height="4.10" fill="#FA9A1E" stroke="#111" stroke-width="0.45" rx="0"/>
<rect x="279.60" y="42.76" width="4.10" height="4.10" fill="#FA9A1E" stroke="#111" stroke-width="0.45" rx="0"/>
<rect x="297.00" y="30.97" width="4.10" height="4.10" fill="#FA9A1E" stroke="#111" stroke-width="0.45" rx="0"/>
<rect x="287.56" y="30.89" width="4.10" height="4.10" fill="#FA9A1E" stroke="#111" stroke-width="0.45" rx="0"/>
<rect x="285.08" y="36.89" width="4.10" height="4.10" fill="#FA9A1E" stroke="#111" stroke-width="0.45" rx="0"/>
<rect x="277.23" y="35.07" width="4.10" height="4.10" fill="#FA9A1E" stroke="#111" stroke-width="0.45" rx="0"/>
<rect x="282.30" y="33.27" width="4.10" height="4.10" fill="#FA9A1E" stroke="#111" stroke-width="0.45" rx="0"/>
<rect x="290.28" y="29.02" width="4.10" height="4.10" fill="#FA9A1E" stroke="#111" stroke-width="0.45" rx="0"/>
<rect x="272.90" y="26.19" width="4.10" height="4.10" fill="#FA9A1E" stroke="#111" stroke-width="0.45" rx="0"/>
<rect x="280.28" y="21.19" width="4.10" height="4.10" fill="#FA9A1E" stroke="#111" stroke-width="0.45" rx="0"/>
<rect x="271.72" y="37.84" width="4.10" height="4.10" fill="#FA9A1E" stroke="#111" stroke-width="0.45" rx="0"/>
<rect x="288.38" y="35.64" width="4.10" height="4.10" fill="#FA9A1E" stroke="#111" stroke-width="0.45" rx="0"/>
<rect x="282.56" y="38.52" width="4.10" height="4.10" fill="#FA9A1E" stroke="#111" stroke-width="0.45" rx="0"/>
<rect x="275.14" y="40.07" width="4.10" height="4.10" fill="#FA9A1E" stroke="#111" stroke-width="0.45" rx="0"/>
<rect x="276.12" y="37.90" width="4.10" height="4.10" fill="#FA9A1E" stroke="#111" stroke-width="0.45" rx="0"/>
<rect x="281.87" y="30.80" width="4.10" height="4.10" fill="#FA9A1E" stroke="#111" stroke-width="0.45" rx="0"/>
<rect x="285.01" y="32.04" width="4.10" height="4.10" fill="#FA9A1E" stroke="#111" stroke-width="0.45" rx="0"/>
<rect x="289.93" y="24.81" width="4.10" height="4.10" fill="#FA9A1E" stroke="#111" stroke-width="0.45" rx="0"/>
<rect x="278.65" y="20.32" width="4.10" height="4.10" fill="#FA9A1E" stroke="#111" stroke-width="0.45" rx="0"/>
<rect x="284.21" y="43.23" width="4.10" height="4.10" fill="#FA9A1E" stroke="#111" stroke-width="0.45" rx="0"/>
<rect x="281.52" y="40.58" width="4.10" height="4.10" fill="#FA9A1E" stroke="#111" stroke-width="0.45" rx="0"/>
<rect x="274.58" y="22.22" width="4.10" height="4.10" fill="#FA9A1E" stroke="#111" stroke-width="0.45" rx="0"/>
<rect x="281.09" y="40.24" width="4.10" height="4.10" fill="#FA9A1E" stroke="#111" stroke-width="0.45" rx="0"/>
<rect x="289.70" y="33.77" width="4.10" height="4.10" fill="#FA9A1E" stroke="#111" stroke-width="0.45" rx="0"/>
<rect x="297.01" y="30.59" width="4.10" height="4.10" fill="#FA9A1E" stroke="#111" stroke-width="0.45" rx="0"/>
<rect x="267.84" y="26.70" width="4.10" height="4.10" fill="#FA9A1E" stroke="#111" stroke-width="0.45" rx="0"/>
<rect x="288.95" y="27.96" width="4.10" height="4.10" fill="#FA9A1E" stroke="#111" stroke-width="0.45" rx="0"/>
<rect x="292.25" y="30.97" width="4.10" height="4.10" fill="#FA9A1E" stroke="#111" stroke-width="0.45" rx="0"/>
<rect x="287.65" y="39.29" width="4.10" height="4.10" fill="#FA9A1E" stroke="#111" stroke-width="0.45" rx="0"/>
<rect x="269.18" y="26.41" width="4.10" height="4.10" fill="#FA9A1E" stroke="#111" stroke-width="0.45" rx="0"/>
<rect x="279.30" y="29.80" width="4.10" height="4.10" fill="#FA9A1E" stroke="#111" stroke-width="0.45" rx="0"/>
<rect x="270.47" y="23.12" width="4.10" height="4.10" fill="#FA9A1E" stroke="#111" stroke-width="0.45" rx="0"/>
<rect x="272.87" y="21.56" width="4.10" height="4.10" fill="#FA9A1E" stroke="#111" stroke-width="0.45" rx="0"/>
<rect x="265.69" y="31.17" width="4.10" height="4.10" fill="#FA9A1E" stroke="#111" stroke-width="0.45" rx="0"/>
<rect x="291.18" y="40.71" width="4.10" height="4.10" fill="#FA9A1E" stroke="#111" stroke-width="0.45" rx="0"/>
<rect x="266.29" y="36.32" width="4.10" height="4.10" fill="#FA9A1E" stroke="#111" stroke-width="0.45" rx="0"/>
<rect x="282.55" y="24.23" width="4.10" height="4.10" fill="#FA9A1E" stroke="#111" stroke-width="0.45" rx="0"/>
<rect x="290.76" y="15.79" width="4.10" height="4.10" fill="#FA9A1E" stroke="#111" stroke-width="0.45" rx="0"/>
<rect x="278.77" y="15.91" width="4.10" height="4.10" fill="#FA9A1E" stroke="#111" stroke-width="0.45" rx="0"/>
<rect x="288.67" y="20.96" width="4.10" height="4.10" fill="#FA9A1E" stroke="#111" stroke-width="0.45" rx="0"/>
<rect x="276.69" y="18.08" width="4.10" height="4.10" fill="#FA9A1E" stroke="#111" stroke-width="0.45" rx="0"/>
<rect x="283.79" y="16.87" width="4.10" height="4.10" fill="#FA9A1E" stroke="#111" stroke-width="0.45" rx="0"/>
<rect x="291.17" y="22.47" width="4.10" height="4.10" fill="#FA9A1E" stroke="#111" stroke-width="0.45" rx="0"/>
<rect x="279.16" y="20.46" width="4.10" height="4.10" fill="#FA9A1E" stroke="#111" stroke-width="0.45" rx="0"/>
<rect x="282.13" y="17.81" width="4.10" height="4.10" fill="#FA9A1E" stroke="#111" stroke-width="0.45" rx="0"/>
<rect x="289.87" y="17.75" width="4.10" height="4.10" fill="#FA9A1E" stroke="#111" stroke-width="0.45" rx="0"/>
<rect x="290.57" y="22.16" width="4.10" height="4.10" fill="#FA9A1E" stroke="#111" stroke-width="0.45" rx="0"/>
<rect x="289.62" y="19.01" width="4.10" height="4.10" fill="#FA9A1E" stroke="#111" stroke-width="0.45" rx="0"/>
<rect x="284.28" y="25.64" width="4.10" height="4.10" fill="#FA9A1E" stroke="#111" stroke-width="0.45" rx="0"/>
<rect x="280.64" y="24.45" width="4.10" height="4.10" fill="#FA9A1E" stroke="#111" stroke-width="0.45" rx="0"/>
<rect x="294.99" y="21.54" width="4.10" height="4.10" fill="#FA9A1E" stroke="#111" stroke-width="0.45" rx="0"/>
<rect x="286.29" y="22.49" width="4.10" height="4.10" fill="#FA9A1E" stroke="#111" stroke-width="0.45" rx="0"/>
<rect x="285.47" y="13.99" width="4.10" height="4.10" fill="#FA9A1E" stroke="#111" stroke-width="0.45" rx="0"/>
<rect x="294.34" y="18.63" width="4.10" height="4.10" fill="#FA9A1E" stroke="#111" stroke-width="0.45" rx="0"/>
<rect x="294.48" y="16.89" width="4.10" height="4.10" fill="#FA9A1E" stroke="#111" stroke-width="0.45" rx="0"/>
<rect x="282.35" y="19.21" width="4.10" height="4.10" fill="#FA9A1E" stroke="#111" stroke-width="0.45" rx="0"/>
<rect x="289.63" y="16.89" width="4.10" height="4.10" fill="#FA9A1E" stroke="#111" stroke-width="0.45" rx="0"/>
<rect x="283.24" y="23.87" width="4.10" height="4.10" fill="#FA9A1E" stroke="#111" stroke-width="0.45" rx="0"/>
<rect x="287.28" y="20.13" width="4.10" height="4.10" fill="#FA9A1E" stroke="#111" stroke-width="0.45" rx="0"/>
<rect x="285.26" y="24.56" width="4.10" height="4.10" fill="#FA9A1E" stroke="#111" stroke-width="0.45" rx="0"/>
<rect x="285.91" y="14.08" width="4.10" height="4.10" fill="#FA9A1E" stroke="#111" stroke-width="0.45" rx="0"/>
<rect x="289.98" y="14.65" width="4.10" height="4.10" fill="#FA9A1E" stroke="#111" stroke-width="0.45" rx="0"/>
<rect x="280.34" y="16.07" width="4.10" height="4.10" fill="#FA9A1E" stroke="#111" stroke-width="0.45" rx="0"/>
<rect x="283.52" y="19.06" width="4.10" height="4.10" fill="#FA9A1E" stroke="#111" stroke-width="0.45" rx="0"/>
<rect x="294.02" y="21.93" width="4.10" height="4.10" fill="#FA9A1E" stroke="#111" stroke-width="0.45" rx="0"/>
<rect x="288.57" y="25.05" width="4.10" height="4.10" fill="#FA9A1E" stroke="#111" stroke-width="0.45" rx="0"/>
<rect x="285.14" y="20.06" width="4.10" height="4.10" fill="#FA9A1E" stroke="#111" stroke-width="0.45" rx="0"/>
<rect x="279.79" y="18.44" width="4.10" height="4.10" fill="#FA9A1E" stroke="#111" stroke-width="0.45" rx="0"/>
<rect x="290.52" y="21.32" width="4.10" height="4.10" fill="#FA9A1E" stroke="#111" stroke-width="0.45" rx="0"/>
<rect x="283.90" y="23.26" width="4.10" height="4.10" fill="#FA9A1E" stroke="#111" stroke-width="0.45" rx="0"/>
<rect x="284.85" y="17.59" width="4.10" height="4.10" fill="#FA9A1E" stroke="#111" stroke-width="0.45" rx="0"/>
<circle cx="298.75" cy="38.04" r="1.95" fill="#FBC274" stroke="#111" stroke-width="0.45"/>
<circle cx="305.58" cy="35.16" r="1.95" fill="#FBC274" stroke="#111" stroke-width="0.45"/>
<circle cx="306.00" cy="37.57" r="1.95" fill="#FBC274" stroke="#111" stroke-width="0.45"/>
<circle cx="303.98" cy="38.97" r="1.95" fill="#FBC274" stroke="#111" stroke-width="0.45"/>
<circle cx="306.14" cy="37.58" r="1.95" fill="#FBC274" stroke="#111" stroke-width="0.45"/>
<circle cx="304.25" cy="41.12" r="1.95" fill="#FBC274" stroke="#111" stroke-width="0.45"/>
<circle cx="301.15" cy="32.38" r="1.95" fill="#FBC274" stroke="#111" stroke-width="0.45"/>
<circle cx="304.48" cy="38.01" r="1.95" fill="#FBC274" stroke="#111" stroke-width="0.45"/>
<circle cx="303.28" cy="39.09" r="1.95" fill="#FBC274" stroke="#111" stroke-width="0.45"/>
<circle cx="297.48" cy="36.83" r="1.95" fill="#FBC274" stroke="#111" stroke-width="0.45"/>
<circle cx="302.89" cy="32.69" r="1.95" fill="#FBC274" stroke="#111" stroke-width="0.45"/>
<circle cx="305.15" cy="36.44" r="1.95" fill="#FBC274" stroke="#111" stroke-width="0.45"/>
<circle cx="299.90" cy="37.78" r="1.95" fill="#FBC274" stroke="#111" stroke-width="0.45"/>
<circle cx="302.72" cy="34.02" r="1.95" fill="#FBC274" stroke="#111" stroke-width="0.45"/>
<circle cx="303.35" cy="42.21" r="1.95" fill="#FBC274" stroke="#111" stroke-width="0.45"/>
<circle cx="299.25" cy="33.76" r="1.95" fill="#FBC274" stroke="#111" stroke-width="0.45"/>
<circle cx="305.28" cy="34.54" r="1.95" fill="#FBC274" stroke="#111" stroke-width="0.45"/>
<circle cx="305.14" cy="41.31" r="1.95" fill="#FBC274" stroke="#111" stroke-width="0.45"/>
<circle cx="297.60" cy="33.04" r="1.95" fill="#FBC274" stroke="#111" stroke-width="0.45"/>
<circle cx="308.43" cy="35.19" r="1.95" fill="#FBC274" stroke="#111" stroke-width="0.45"/>
<circle cx="303.80" cy="29.75" r="1.95" fill="#FBC274" stroke="#111" stroke-width="0.45"/>
<circle cx="306.88" cy="40.32" r="1.95" fill="#FBC274" stroke="#111" stroke-width="0.45"/>
<circle cx="302.16" cy="40.22" r="1.95" fill="#FBC274" stroke="#111" stroke-width="0.45"/>
<circle cx="303.83" cy="36.57" r="1.95" fill="#FBC274" stroke="#111" stroke-width="0.45"/>
<circle cx="306.84" cy="30.95" r="1.95" fill="#FBC274" stroke="#111" stroke-width="0.45"/>
<circle cx="303.55" cy="31.98" r="1.95" fill="#FBC274" stroke="#111" stroke-width="0.45"/>
<circle cx="301.13" cy="37.56" r="1.95" fill="#FBC274" stroke="#111" stroke-width="0.45"/>
<circle cx="298.73" cy="31.89" r="1.95" fill="#FBC274" stroke="#111" stroke-width="0.45"/>
<circle cx="304.63" cy="28.87" r="1.95" fill="#FBC274" stroke="#111" stroke-width="0.45"/>
<circle cx="303.14" cy="42.27" r="1.95" fill="#FBC274" stroke="#111" stroke-width="0.45"/>
<circle cx="306.83" cy="39.93" r="1.95" fill="#FBC274" stroke="#111" stroke-width="0.45"/>
<circle cx="307.18" cy="39.52" r="1.95" fill="#FBC274" stroke="#111" stroke-width="0.45"/>
<circle cx="299.80" cy="34.84" r="1.95" fill="#FBC274" stroke="#111" stroke-width="0.45"/>
<circle cx="300.29" cy="41.13" r="1.95" fill="#FBC274" stroke="#111" stroke-width="0.45"/>
<circle cx="299.38" cy="36.57" r="1.95" fill="#FBC274" stroke="#111" stroke-width="0.45"/>
<circle cx="306.12" cy="38.59" r="1.95" fill="#FBC274" stroke="#111" stroke-width="0.45"/>
<circle cx="307.17" cy="29.94" r="1.95" fill="#FBC274" stroke="#111" stroke-width="0.45"/>
<circle cx="299.26" cy="41.01" r="1.95" fill="#FBC274" stroke="#111" stroke-width="0.45"/>
<circle cx="224.45" cy="35.67" r="1.95" fill="#4DA6F7" stroke="#111" stroke-width="0.45"/>
<circle cx="220.38" cy="45.51" r="1.95" fill="#4DA6F7" stroke="#111" stroke-width="0.45"/>
<circle cx="218.47" cy="46.30" r="1.95" fill="#4DA6F7" stroke="#111" stroke-width="0.45"/>
<circle cx="216.41" cy="43.95" r="1.95" fill="#4DA6F7" stroke="#111" stroke-width="0.45"/>
<circle cx="220.40" cy="34.71" r="1.95" fill="#4DA6F7" stroke="#111" stroke-width="0.45"/>
<circle cx="224.94" cy="34.86" r="1.95" fill="#4DA6F7" stroke="#111" stroke-width="0.45"/>
<circle cx="223.05" cy="39.71" r="1.95" fill="#4DA6F7" stroke="#111" stroke-width="0.45"/>
<circle cx="214.66" cy="40.52" r="1.95" fill="#4DA6F7" stroke="#111" stroke-width="0.45"/>
<circle cx="220.39" cy="46.23" r="1.95" fill="#4DA6F7" stroke="#111" stroke-width="0.45"/>
<circle cx="220.59" cy="46.28" r="1.95" fill="#4DA6F7" stroke="#111" stroke-width="0.45"/>
<circle cx="226.01" cy="39.40" r="1.95" fill="#4DA6F7" stroke="#111" stroke-width="0.45"/>
<circle cx="224.74" cy="43.29" r="1.95" fill="#4DA6F7" stroke="#111" stroke-width="0.45"/>
<circle cx="218.15" cy="42.80" r="1.95" fill="#4DA6F7" stroke="#111" stroke-width="0.45"/>
<circle cx="225.58" cy="33.30" r="1.95" fill="#4DA6F7" stroke="#111" stroke-width="0.45"/>
<circle cx="217.07" cy="35.23" r="1.95" fill="#4DA6F7" stroke="#111" stroke-width="0.45"/>
<circle cx="223.77" cy="32.87" r="1.95" fill="#4DA6F7" stroke="#111" stroke-width="0.45"/>
<circle cx="221.28" cy="30.38" r="1.95" fill="#4DA6F7" stroke="#111" stroke-width="0.45"/>
<circle cx="216.97" cy="34.87" r="1.95" fill="#4DA6F7" stroke="#111" stroke-width="0.45"/>
<circle cx="220.77" cy="46.59" r="1.95" fill="#4DA6F7" stroke="#111" stroke-width="0.45"/>
<circle cx="222.25" cy="30.93" r="1.95" fill="#4DA6F7" stroke="#111" stroke-width="0.45"/>
<circle cx="222.56" cy="44.03" r="1.95" fill="#4DA6F7" stroke="#111" stroke-width="0.45"/>
<circle cx="224.82" cy="35.68" r="1.95" fill="#4DA6F7" stroke="#111" stroke-width="0.45"/>
<circle cx="224.08" cy="32.76" r="1.95" fill="#4DA6F7" stroke="#111" stroke-width="0.45"/>
<circle cx="222.58" cy="43.61" r="1.95" fill="#4DA6F7" stroke="#111" stroke-width="0.45"/>
<circle cx="228.05" cy="41.71" r="1.95" fill="#4DA6F7" stroke="#111" stroke-width="0.45"/>
<circle cx="221.28" cy="37.07" r="1.95" fill="#4DA6F7" stroke="#111" stroke-width="0.45"/>
<circle cx="218.99" cy="45.57" r="1.95" fill="#4DA6F7" stroke="#111" stroke-width="0.45"/>
<circle cx="223.52" cy="44.43" r="1.95" fill="#4DA6F7" stroke="#111" stroke-width="0.45"/>
<circle cx="223.84" cy="32.47" r="1.95" fill="#4DA6F7" stroke="#111" stroke-width="0.45"/>
<circle cx="227.67" cy="44.13" r="1.95" fill="#4DA6F7" stroke="#111" stroke-width="0.45"/>
<circle cx="221.36" cy="32.11" r="1.95" fill="#4DA6F7" stroke="#111" stroke-width="0.45"/>
<circle cx="218.08" cy="44.13" r="1.95" fill="#4DA6F7" stroke="#111" stroke-width="0.45"/>
<circle cx="219.09" cy="40.34" r="1.95" fill="#4DA6F7" stroke="#111" stroke-width="0.45"/>
<circle cx="222.88" cy="39.76" r="1.95" fill="#4DA6F7" stroke="#111" stroke-width="0.45"/>
<circle cx="223.64" cy="42.20" r="1.95" fill="#4DA6F7" stroke="#111" stroke-width="0.45"/>
<circle cx="216.98" cy="33.64" r="1.95" fill="#4DA6F7" stroke="#111" stroke-width="0.45"/>
<circle cx="214.63" cy="34.35" r="1.95" fill="#4DA6F7" stroke="#111" stroke-width="0.45"/>
<circle cx="226.14" cy="41.48" r="1.95" fill="#4DA6F7" stroke="#111" stroke-width="0.45"/>
<circle cx="226.62" cy="41.13" r="1.95" fill="#4DA6F7" stroke="#111" stroke-width="0.45"/>
<circle cx="223.54" cy="39.54" r="1.95" fill="#4DA6F7" stroke="#111" stroke-width="0.45"/>
<circle cx="225.96" cy="41.73" r="1.95" fill="#4DA6F7" stroke="#111" stroke-width="0.45"/>
<circle cx="221.89" cy="34.00" r="1.95" fill="#4DA6F7" stroke="#111" stroke-width="0.45"/>
<circle cx="221.28" cy="34.40" r="1.95" fill="#4DA6F7" stroke="#111" stroke-width="0.45"/>
<circle cx="220.07" cy="44.18" r="1.95" fill="#4DA6F7" stroke="#111" stroke-width="0.45"/>
<circle cx="226.87" cy="41.08" r="1.95" fill="#4DA6F7" stroke="#111" stroke-width="0.45"/>
<circle cx="214.43" cy="34.63" r="1.95" fill="#4DA6F7" stroke="#111" stroke-width="0.45"/>
<circle cx="229.05" cy="41.13" r="1.95" fill="#4DA6F7" stroke="#111" stroke-width="0.45"/>
<circle cx="215.30" cy="35.76" r="1.95" fill="#4DA6F7" stroke="#111" stroke-width="0.45"/>
<circle cx="229.51" cy="41.02" r="1.95" fill="#4DA6F7" stroke="#111" stroke-width="0.45"/>
<circle cx="220.36" cy="44.69" r="1.95" fill="#4DA6F7" stroke="#111" stroke-width="0.45"/>
<circle cx="213.17" cy="36.55" r="1.95" fill="#4DA6F7" stroke="#111" stroke-width="0.45"/>
<circle cx="214.30" cy="33.46" r="1.95" fill="#4DA6F7" stroke="#111" stroke-width="0.45"/>
<circle cx="222.32" cy="45.37" r="1.95" fill="#4DA6F7" stroke="#111" stroke-width="0.45"/>
<circle cx="215.79" cy="35.67" r="1.95" fill="#4DA6F7" stroke="#111" stroke-width="0.45"/>
<circle cx="216.86" cy="33.97" r="1.95" fill="#4DA6F7" stroke="#111" stroke-width="0.45"/>
<rect x="244.21" y="87.06" width="4.10" height="4.10" fill="#1F6FD2" stroke="#111" stroke-width="0.45" rx="0"/>
<rect x="253.34" y="85.03" width="4.10" height="4.10" fill="#1F6FD2" stroke="#111" stroke-width="0.45" rx="0"/>
<rect x="243.98" y="83.76" width="4.10" height="4.10" fill="#1F6FD2" stroke="#111" stroke-width="0.45" rx="0"/>
<rect x="241.25" y="80.91" width="4.10" height="4.10" fill="#1F6FD2" stroke="#111" stroke-width="0.45" rx="0"/>
<rect x="251.42" y="85.26" width="4.10" height="4.10" fill="#1F6FD2" stroke="#111" stroke-width="0.45" rx="0"/>
<rect x="254.38" y="84.71" width="4.10" height="4.10" fill="#1F6FD2" stroke="#111" stroke-width="0.45" rx="0"/>
<rect x="251.71" y="84.36" width="4.10" height="4.10" fill="#1F6FD2" stroke="#111" stroke-width="0.45" rx="0"/>
<rect x="242.22" y="84.25" width="4.10" height="4.10" fill="#1F6FD2" stroke="#111" stroke-width="0.45" rx="0"/>
<rect x="256.52" y="84.15" width="4.10" height="4.10" fill="#1F6FD2" stroke="#111" stroke-width="0.45" rx="0"/>
<rect x="248.83" y="87.60" width="4.10" height="4.10" fill="#1F6FD2" stroke="#111" stroke-width="0.45" rx="0"/>
<rect x="249.16" y="87.51" width="4.10" height="4.10" fill="#1F6FD2" stroke="#111" stroke-width="0.45" rx="0"/>
<rect x="244.89" y="85.66" width="4.10" height="4.10" fill="#1F6FD2" stroke="#111" stroke-width="0.45" rx="0"/>
<rect x="241.15" y="83.69" width="4.10" height="4.10" fill="#1F6FD2" stroke="#111" stroke-width="0.45" rx="0"/>
<rect x="241.86" y="80.07" width="4.10" height="4.10" fill="#1F6FD2" stroke="#111" stroke-width="0.45" rx="0"/>
<rect x="247.63" y="84.75" width="4.10" height="4.10" fill="#1F6FD2" stroke="#111" stroke-width="0.45" rx="0"/>
<rect x="247.84" y="86.38" width="4.10" height="4.10" fill="#1F6FD2" stroke="#111" stroke-width="0.45" rx="0"/>
<rect x="243.43" y="80.54" width="4.10" height="4.10" fill="#1F6FD2" stroke="#111" stroke-width="0.45" rx="0"/>
<rect x="246.89" y="84.69" width="4.10" height="4.10" fill="#1F6FD2" stroke="#111" stroke-width="0.45" rx="0"/>
<rect x="245.50" y="81.81" width="4.10" height="4.10" fill="#1F6FD2" stroke="#111" stroke-width="0.45" rx="0"/>
<rect x="240.52" y="82.42" width="4.10" height="4.10" fill="#1F6FD2" stroke="#111" stroke-width="0.45" rx="0"/>
<rect x="245.38" y="81.27" width="4.10" height="4.10" fill="#1F6FD2" stroke="#111" stroke-width="0.45" rx="0"/>
<rect x="242.56" y="87.53" width="4.10" height="4.10" fill="#1F6FD2" stroke="#111" stroke-width="0.45" rx="0"/>
<rect x="254.19" y="85.62" width="4.10" height="4.10" fill="#1F6FD2" stroke="#111" stroke-width="0.45" rx="0"/>
<rect x="241.46" y="84.78" width="4.10" height="4.10" fill="#1F6FD2" stroke="#111" stroke-width="0.45" rx="0"/>
<rect x="245.46" y="84.26" width="4.10" height="4.10" fill="#1F6FD2" stroke="#111" stroke-width="0.45" rx="0"/>
<rect x="247.30" y="82.77" width="4.10" height="4.10" fill="#1F6FD2" stroke="#111" stroke-width="0.45" rx="0"/>
<rect x="253.23" y="78.91" width="4.10" height="4.10" fill="#1F6FD2" stroke="#111" stroke-width="0.45" rx="0"/>
<rect x="243.32" y="86.08" width="4.10" height="4.10" fill="#1F6FD2" stroke="#111" stroke-width="0.45" rx="0"/>
<rect x="239.17" y="81.93" width="4.10" height="4.10" fill="#1F6FD2" stroke="#111" stroke-width="0.45" rx="0"/>
<rect x="252.68" y="83.84" width="4.10" height="4.10" fill="#1F6FD2" stroke="#111" stroke-width="0.45" rx="0"/>
<rect x="241.29" y="85.89" width="4.10" height="4.10" fill="#1F6FD2" stroke="#111" stroke-width="0.45" rx="0"/>
<rect x="247.22" y="79.08" width="4.10" height="4.10" fill="#1F6FD2" stroke="#111" stroke-width="0.45" rx="0"/>
<rect x="255.18" y="83.30" width="4.10" height="4.10" fill="#1F6FD2" stroke="#111" stroke-width="0.45" rx="0"/>
<rect x="245.39" y="84.08" width="4.10" height="4.10" fill="#1F6FD2" stroke="#111" stroke-width="0.45" rx="0"/>
<circle cx="243.73" cy="87.29" r="1.95" fill="#1F6FD2" stroke="#111" stroke-width="0.45"/>
<circle cx="245.10" cy="90.70" r="1.95" fill="#1F6FD2" stroke="#111" stroke-width="0.45"/>
<circle cx="243.53" cy="88.77" r="1.95" fill="#1F6FD2" stroke="#111" stroke-width="0.45"/>
<circle cx="242.20" cy="91.11" r="1.95" fill="#1F6FD2" stroke="#111" stroke-width="0.45"/>
<circle cx="243.51" cy="89.25" r="1.95" fill="#1F6FD2" stroke="#111" stroke-width="0.45"/>
<circle cx="241.25" cy="88.55" r="1.95" fill="#1F6FD2" stroke="#111" stroke-width="0.45"/>
<circle cx="248.75" cy="86.85" r="1.95" fill="#1F6FD2" stroke="#111" stroke-width="0.45"/>
<circle cx="249.50" cy="87.20" r="1.95" fill="#1F6FD2" stroke="#111" stroke-width="0.45"/>
<circle cx="244.61" cy="86.93" r="1.95" fill="#1F6FD2" stroke="#111" stroke-width="0.45"/>
<circle cx="248.53" cy="91.42" r="1.95" fill="#1F6FD2" stroke="#111" stroke-width="0.45"/>
<circle cx="242.73" cy="86.43" r="1.95" fill="#1F6FD2" stroke="#111" stroke-width="0.45"/>
<circle cx="243.98" cy="91.96" r="1.95" fill="#1F6FD2" stroke="#111" stroke-width="0.45"/>
<circle cx="311.60" cy="68.70" r="1.95" fill="#F31BF0" stroke="#111" stroke-width="0.45"/>
<circle cx="311.89" cy="62.46" r="1.95" fill="#F31BF0" stroke="#111" stroke-width="0.45"/>
<circle cx="304.53" cy="68.29" r="1.95" fill="#F31BF0" stroke="#111" stroke-width="0.45"/>
<circle cx="318.33" cy="61.45" r="1.95" fill="#F31BF0" stroke="#111" stroke-width="0.45"/>
<circle cx="310.09" cy="62.90" r="1.95" fill="#F31BF0" stroke="#111" stroke-width="0.45"/>
<circle cx="309.55" cy="68.82" r="1.95" fill="#F31BF0" stroke="#111" stroke-width="0.45"/>
<circle cx="311.94" cy="58.50" r="1.95" fill="#F31BF0" stroke="#111" stroke-width="0.45"/>
<circle cx="310.24" cy="56.34" r="1.95" fill="#F31BF0" stroke="#111" stroke-width="0.45"/>
<circle cx="306.33" cy="68.28" r="1.95" fill="#F31BF0" stroke="#111" stroke-width="0.45"/>
<circle cx="308.73" cy="66.20" r="1.95" fill="#F31BF0" stroke="#111" stroke-width="0.45"/>
<circle cx="313.73" cy="63.22" r="1.95" fill="#F31BF0" stroke="#111" stroke-width="0.45"/>
<circle cx="307.88" cy="62.18" r="1.95" fill="#F31BF0" stroke="#111" stroke-width="0.45"/>
<circle cx="305.15" cy="61.74" r="1.95" fill="#F31BF0" stroke="#111" stroke-width="0.45"/>
<circle cx="309.47" cy="60.17" r="1.95" fill="#F31BF0" stroke="#111" stroke-width="0.45"/>
<circle cx="311.02" cy="65.75" r="1.95" fill="#F31BF0" stroke="#111" stroke-width="0.45"/>
<circle cx="300.92" cy="59.60" r="1.95" fill="#F31BF0" stroke="#111" stroke-width="0.45"/>
<circle cx="309.69" cy="56.90" r="1.95" fill="#F31BF0" stroke="#111" stroke-width="0.45"/>
<circle cx="306.13" cy="58.14" r="1.95" fill="#F31BF0" stroke="#111" stroke-width="0.45"/>
<circle cx="306.94" cy="64.80" r="1.95" fill="#F31BF0" stroke="#111" stroke-width="0.45"/>
<circle cx="314.11" cy="59.36" r="1.95" fill="#F31BF0" stroke="#111" stroke-width="0.45"/>
<circle cx="307.81" cy="61.12" r="1.95" fill="#F31BF0" stroke="#111" stroke-width="0.45"/>
<circle cx="307.26" cy="64.08" r="1.95" fill="#F31BF0" stroke="#111" stroke-width="0.45"/>
<circle cx="303.75" cy="66.91" r="1.95" fill="#F31BF0" stroke="#111" stroke-width="0.45"/>
<circle cx="304.58" cy="67.01" r="1.95" fill="#F31BF0" stroke="#111" stroke-width="0.45"/>
<circle cx="314.38" cy="65.32" r="1.95" fill="#F31BF0" stroke="#111" stroke-width="0.45"/>
<circle cx="302.87" cy="64.98" r="1.95" fill="#F31BF0" stroke="#111" stroke-width="0.45"/>
<circle cx="310.74" cy="67.88" r="1.95" fill="#F31BF0" stroke="#111" stroke-width="0.45"/>
<circle cx="316.83" cy="58.55" r="1.95" fill="#F31BF0" stroke="#111" stroke-width="0.45"/>
<circle cx="317.04" cy="63.38" r="1.95" fill="#F31BF0" stroke="#111" stroke-width="0.45"/>
<circle cx="304.86" cy="66.59" r="1.95" fill="#F31BF0" stroke="#111" stroke-width="0.45"/>
<circle cx="317.64" cy="65.27" r="1.95" fill="#F31BF0" stroke="#111" stroke-width="0.45"/>
<circle cx="300.24" cy="65.65" r="1.95" fill="#F31BF0" stroke="#111" stroke-width="0.45"/>
<circle cx="316.56" cy="63.00" r="1.95" fill="#F31BF0" stroke="#111" stroke-width="0.45"/>
<circle cx="299.51" cy="62.99" r="1.95" fill="#F31BF0" stroke="#111" stroke-width="0.45"/>
<circle cx="309.69" cy="59.73" r="1.95" fill="#F31BF0" stroke="#111" stroke-width="0.45"/>
<circle cx="306.15" cy="67.71" r="1.95" fill="#F31BF0" stroke="#111" stroke-width="0.45"/>
<circle cx="304.56" cy="64.11" r="1.95" fill="#F31BF0" stroke="#111" stroke-width="0.45"/>
<circle cx="318.66" cy="59.98" r="1.95" fill="#F31BF0" stroke="#111" stroke-width="0.45"/>
<circle cx="304.49" cy="66.30" r="1.95" fill="#F31BF0" stroke="#111" stroke-width="0.45"/>
<circle cx="314.12" cy="61.20" r="1.95" fill="#F31BF0" stroke="#111" stroke-width="0.45"/>
<circle cx="318.20" cy="59.20" r="1.95" fill="#F31BF0" stroke="#111" stroke-width="0.45"/>
<circle cx="308.16" cy="57.17" r="1.95" fill="#F31BF0" stroke="#111" stroke-width="0.45"/>
<circle cx="353.80" cy="64.57" r="1.95" fill="#9A38D6" stroke="#111" stroke-width="0.45"/>
<circle cx="353.10" cy="68.91" r="1.95" fill="#9A38D6" stroke="#111" stroke-width="0.45"/>
<circle cx="350.32" cy="68.01" r="1.95" fill="#9A38D6" stroke="#111" stroke-width="0.45"/>
<circle cx="349.84" cy="71.71" r="1.95" fill="#9A38D6" stroke="#111" stroke-width="0.45"/>
<circle cx="349.51" cy="73.21" r="1.95" fill="#9A38D6" stroke="#111" stroke-width="0.45"/>
<circle cx="355.59" cy="68.21" r="1.95" fill="#9A38D6" stroke="#111" stroke-width="0.45"/>
<circle cx="356.48" cy="65.97" r="1.95" fill="#9A38D6" stroke="#111" stroke-width="0.45"/>
<circle cx="358.28" cy="72.62" r="1.95" fill="#9A38D6" stroke="#111" stroke-width="0.45"/>
<circle cx="353.56" cy="77.15" r="1.95" fill="#9A38D6" stroke="#111" stroke-width="0.45"/>
<circle cx="354.37" cy="74.75" r="1.95" fill="#9A38D6" stroke="#111" stroke-width="0.45"/>
<circle cx="356.55" cy="65.23" r="1.95" fill="#9A38D6" stroke="#111" stroke-width="0.45"/>
<circle cx="358.60" cy="67.66" r="1.95" fill="#9A38D6" stroke="#111" stroke-width="0.45"/>
<circle cx="354.35" cy="65.72" r="1.95" fill="#9A38D6" stroke="#111" stroke-width="0.45"/>
<circle cx="359.54" cy="64.81" r="1.95" fill="#9A38D6" stroke="#111" stroke-width="0.45"/>
<circle cx="355.01" cy="68.39" r="1.95" fill="#9A38D6" stroke="#111" stroke-width="0.45"/>
<circle cx="356.04" cy="65.34" r="1.95" fill="#9A38D6" stroke="#111" stroke-width="0.45"/>
<circle cx="355.58" cy="62.28" r="1.95" fill="#9A38D6" stroke="#111" stroke-width="0.45"/>
<circle cx="356.67" cy="71.82" r="1.95" fill="#9A38D6" stroke="#111" stroke-width="0.45"/>
<circle cx="356.37" cy="61.66" r="1.95" fill="#9A38D6" stroke="#111" stroke-width="0.45"/>
<circle cx="360.01" cy="67.33" r="1.95" fill="#9A38D6" stroke="#111" stroke-width="0.45"/>
<circle cx="356.58" cy="69.74" r="1.95" fill="#9A38D6" stroke="#111" stroke-width="0.45"/>
<circle cx="361.34" cy="73.60" r="1.95" fill="#9A38D6" stroke="#111" stroke-width="0.45"/>
<circle cx="349.29" cy="69.51" r="1.95" fill="#9A38D6" stroke="#111" stroke-width="0.45"/>
<circle cx="356.53" cy="77.43" r="1.95" fill="#9A38D6" stroke="#111" stroke-width="0.45"/>
<circle cx="360.12" cy="70.66" r="1.95" fill="#9A38D6" stroke="#111" stroke-width="0.45"/>
<circle cx="351.18" cy="75.18" r="1.95" fill="#9A38D6" stroke="#111" stroke-width="0.45"/>
<circle cx="359.20" cy="70.88" r="1.95" fill="#9A38D6" stroke="#111" stroke-width="0.45"/>
<circle cx="354.25" cy="65.30" r="1.95" fill="#9A38D6" stroke="#111" stroke-width="0.45"/>
<circle cx="352.91" cy="73.81" r="1.95" fill="#9A38D6" stroke="#111" stroke-width="0.45"/>
<circle cx="350.45" cy="72.55" r="1.95" fill="#9A38D6" stroke="#111" stroke-width="0.45"/>
<circle cx="351.84" cy="75.23" r="1.95" fill="#9A38D6" stroke="#111" stroke-width="0.45"/>
<circle cx="351.46" cy="64.39" r="1.95" fill="#9A38D6" stroke="#111" stroke-width="0.45"/>
<circle cx="351.70" cy="68.80" r="1.95" fill="#9A38D6" stroke="#111" stroke-width="0.45"/>
<circle cx="359.02" cy="70.05" r="1.95" fill="#9A38D6" stroke="#111" stroke-width="0.45"/>
<circle cx="362.86" cy="73.55" r="1.95" fill="#9A38D6" stroke="#111" stroke-width="0.45"/>
<circle cx="355.71" cy="74.68" r="1.95" fill="#9A38D6" stroke="#111" stroke-width="0.45"/>
<circle cx="352.70" cy="74.67" r="1.95" fill="#9A38D6" stroke="#111" stroke-width="0.45"/>
<circle cx="351.77" cy="77.94" r="1.95" fill="#9A38D6" stroke="#111" stroke-width="0.45"/>
<circle cx="355.31" cy="74.35" r="1.95" fill="#9A38D6" stroke="#111" stroke-width="0.45"/>
<circle cx="357.56" cy="80.04" r="1.95" fill="#9A38D6" stroke="#111" stroke-width="0.45"/>
<circle cx="351.94" cy="73.47" r="1.95" fill="#9A38D6" stroke="#111" stroke-width="0.45"/>
<circle cx="357.24" cy="61.95" r="1.95" fill="#9A38D6" stroke="#111" stroke-width="0.45"/>
<circle cx="349.24" cy="70.45" r="1.95" fill="#9A38D6" stroke="#111" stroke-width="0.45"/>
<circle cx="355.59" cy="76.60" r="1.95" fill="#9A38D6" stroke="#111" stroke-width="0.45"/>
<circle cx="352.77" cy="68.87" r="1.95" fill="#9A38D6" stroke="#111" stroke-width="0.45"/>
<circle cx="355.49" cy="75.06" r="1.95" fill="#9A38D6" stroke="#111" stroke-width="0.45"/>
<circle cx="355.47" cy="79.68" r="1.95" fill="#9A38D6" stroke="#111" stroke-width="0.45"/>
<circle cx="356.70" cy="67.92" r="1.95" fill="#9A38D6" stroke="#111" stroke-width="0.45"/>
<circle cx="352.29" cy="77.56" r="1.95" fill="#9A38D6" stroke="#111" stroke-width="0.45"/>
<circle cx="359.57" cy="65.51" r="1.95" fill="#9A38D6" stroke="#111" stroke-width="0.45"/>
<rect x="292.88" y="78.65" width="4.10" height="4.10" fill="#2E7D32" stroke="#111" stroke-width="0.45" rx="0"/>
<rect x="294.89" y="74.18" width="4.10" height="4.10" fill="#2E7D32" stroke="#111" stroke-width="0.45" rx="0"/>
<rect x="290.21" y="86.90" width="4.10" height="4.10" fill="#2E7D32" stroke="#111" stroke-width="0.45" rx="0"/>
<rect x="299.66" y="85.75" width="4.10" height="4.10" fill="#2E7D32" stroke="#111" stroke-width="0.45" rx="0"/>
<rect x="293.26" y="83.67" width="4.10" height="4.10" fill="#2E7D32" stroke="#111" stroke-width="0.45" rx="0"/>
<rect x="285.76" y="82.60" width="4.10" height="4.10" fill="#2E7D32" stroke="#111" stroke-width="0.45" rx="0"/>
<rect x="296.37" y="84.69" width="4.10" height="4.10" fill="#2E7D32" stroke="#111" stroke-width="0.45" rx="0"/>
<rect x="298.39" y="86.53" width="4.10" height="4.10" fill="#2E7D32" stroke="#111" stroke-width="0.45" rx="0"/>
<rect x="287.86" y="90.75" width="4.10" height="4.10" fill="#2E7D32" stroke="#111" stroke-width="0.45" rx="0"/>
<rect x="296.72" y="85.95" width="4.10" height="4.10" fill="#2E7D32" stroke="#111" stroke-width="0.45" rx="0"/>
<rect x="294.47" y="83.37" width="4.10" height="4.10" fill="#2E7D32" stroke="#111" stroke-width="0.45" rx="0"/>
<rect x="293.16" y="90.85" width="4.10" height="4.10" fill="#2E7D32" stroke="#111" stroke-width="0.45" rx="0"/>
<rect x="297.74" y="83.97" width="4.10" height="4.10" fill="#2E7D32" stroke="#111" stroke-width="0.45" rx="0"/>
<rect x="288.44" y="78.75" width="4.10" height="4.10" fill="#2E7D32" stroke="#111" stroke-width="0.45" rx="0"/>
<rect x="288.44" y="78.35" width="4.10" height="4.10" fill="#2E7D32" stroke="#111" stroke-width="0.45" rx="0"/>
<rect x="292.33" y="82.60" width="4.10" height="4.10" fill="#2E7D32" stroke="#111" stroke-width="0.45" rx="0"/>
<rect x="290.01" y="77.01" width="4.10" height="4.10" fill="#2E7D32" stroke="#111" stroke-width="0.45" rx="0"/>
<rect x="294.49" y="90.93" width="4.10" height="4.10" fill="#2E7D32" stroke="#111" stroke-width="0.45" rx="0"/>
<rect x="294.03" y="94.17" width="4.10" height="4.10" fill="#2E7D32" stroke="#111" stroke-width="0.45" rx="0"/>
<rect x="292.87" y="88.32" width="4.10" height="4.10" fill="#2E7D32" stroke="#111" stroke-width="0.45" rx="0"/>
<rect x="295.47" y="74.76" width="4.10" height="4.10" fill="#2E7D32" stroke="#111" stroke-width="0.45" rx="0"/>
<rect x="297.39" y="76.70" width="4.10" height="4.10" fill="#2E7D32" stroke="#111" stroke-width="0.45" rx="0"/>
<rect x="288.67" y="87.74" width="4.10" height="4.10" fill="#2E7D32" stroke="#111" stroke-width="0.45" rx="0"/>
<rect x="287.64" y="81.06" width="4.10" height="4.10" fill="#2E7D32" stroke="#111" stroke-width="0.45" rx="0"/>
<rect x="297.33" y="82.04" width="4.10" height="4.10" fill="#2E7D32" stroke="#111" stroke-width="0.45" rx="0"/>
<rect x="293.57" y="82.53" width="4.10" height="4.10" fill="#2E7D32" stroke="#111" stroke-width="0.45" rx="0"/>
<rect x="296.30" y="93.89" width="4.10" height="4.10" fill="#2E7D32" stroke="#111" stroke-width="0.45" rx="0"/>
<rect x="293.41" y="91.81" width="4.10" height="4.10" fill="#2E7D32" stroke="#111" stroke-width="0.45" rx="0"/>
<rect x="299.05" y="79.49" width="4.10" height="4.10" fill="#2E7D32" stroke="#111" stroke-width="0.45" rx="0"/>
<rect x="286.77" y="84.62" width="4.10" height="4.10" fill="#2E7D32" stroke="#111" stroke-width="0.45" rx="0"/>
<rect x="301.14" y="82.50" width="4.10" height="4.10" fill="#2E7D32" stroke="#111" stroke-width="0.45" rx="0"/>
<rect x="294.70" y="87.69" width="4.10" height="4.10" fill="#2E7D32" stroke="#111" stroke-width="0.45" rx="0"/>
<rect x="292.73" y="88.02" width="4.10" height="4.10" fill="#2E7D32" stroke="#111" stroke-width="0.45" rx="0"/>
<rect x="294.09" y="73.94" width="4.10" height="4.10" fill="#2E7D32" stroke="#111" stroke-width="0.45" rx="0"/>
<rect x="294.82" y="86.25" width="4.10" height="4.10" fill="#2E7D32" stroke="#111" stroke-width="0.45" rx="0"/>
<rect x="290.49" y="92.11" width="4.10" height="4.10" fill="#2E7D32" stroke="#111" stroke-width="0.45" rx="0"/>
<rect x="294.14" y="76.54" width="4.10" height="4.10" fill="#2E7D32" stroke="#111" stroke-width="0.45" rx="0"/>
<rect x="288.53" y="75.87" width="4.10" height="4.10" fill="#2E7D32" stroke="#111" stroke-width="0.45" rx="0"/>
<rect x="295.45" y="81.37" width="4.10" height="4.10" fill="#2E7D32" stroke="#111" stroke-width="0.45" rx="0"/>
<rect x="291.84" y="74.51" width="4.10" height="4.10" fill="#2E7D32" stroke="#111" stroke-width="0.45" rx="0"/>
<rect x="297.77" y="80.04" width="4.10" height="4.10" fill="#2E7D32" stroke="#111" stroke-width="0.45" rx="0"/>
<rect x="296.52" y="90.24" width="4.10" height="4.10" fill="#2E7D32" stroke="#111" stroke-width="0.45" rx="0"/>
<rect x="290.01" y="88.97" width="4.10" height="4.10" fill="#2E7D32" stroke="#111" stroke-width="0.45" rx="0"/>
<rect x="295.55" y="75.55" width="4.10" height="4.10" fill="#2E7D32" stroke="#111" stroke-width="0.45" rx="0"/>
<rect x="290.70" y="75.91" width="4.10" height="4.10" fill="#2E7D32" stroke="#111" stroke-width="0.45" rx="0"/>
<rect x="294.67" y="86.02" width="4.10" height="4.10" fill="#2E7D32" stroke="#111" stroke-width="0.45" rx="0"/>
<rect x="287.62" y="90.16" width="4.10" height="4.10" fill="#2E7D32" stroke="#111" stroke-width="0.45" rx="0"/>
<rect x="289.22" y="76.08" width="4.10" height="4.10" fill="#2E7D32" stroke="#111" stroke-width="0.45" rx="0"/>
<circle cx="294.82" cy="90.54" r="1.95" fill="#2E7D32" stroke="#111" stroke-width="0.45"/>
<circle cx="302.22" cy="92.92" r="1.95" fill="#2E7D32" stroke="#111" stroke-width="0.45"/>
<circle cx="301.18" cy="89.99" r="1.95" fill="#2E7D32" stroke="#111" stroke-width="0.45"/>
<circle cx="297.73" cy="89.40" r="1.95" fill="#2E7D32" stroke="#111" stroke-width="0.45"/>
<circle cx="298.84" cy="93.36" r="1.95" fill="#2E7D32" stroke="#111" stroke-width="0.45"/>
<circle cx="300.16" cy="92.10" r="1.95" fill="#2E7D32" stroke="#111" stroke-width="0.45"/>
<circle cx="297.37" cy="94.38" r="1.95" fill="#2E7D32" stroke="#111" stroke-width="0.45"/>
<circle cx="297.43" cy="92.48" r="1.95" fill="#2E7D32" stroke="#111" stroke-width="0.45"/>
<circle cx="298.83" cy="90.92" r="1.95" fill="#2E7D32" stroke="#111" stroke-width="0.45"/>
<circle cx="297.82" cy="89.19" r="1.95" fill="#2E7D32" stroke="#111" stroke-width="0.45"/>
<circle cx="268.31" cy="111.75" r="1.95" fill="#E6540B" stroke="#111" stroke-width="0.45"/>
<circle cx="264.16" cy="111.40" r="1.95" fill="#E6540B" stroke="#111" stroke-width="0.45"/>
<circle cx="269.49" cy="112.64" r="1.95" fill="#E6540B" stroke="#111" stroke-width="0.45"/>
<circle cx="280.07" cy="116.64" r="1.95" fill="#E6540B" stroke="#111" stroke-width="0.45"/>
<circle cx="268.90" cy="114.98" r="1.95" fill="#E6540B" stroke="#111" stroke-width="0.45"/>
<circle cx="263.42" cy="114.49" r="1.95" fill="#E6540B" stroke="#111" stroke-width="0.45"/>
<circle cx="268.17" cy="123.10" r="1.95" fill="#E6540B" stroke="#111" stroke-width="0.45"/>
<circle cx="270.94" cy="119.14" r="1.95" fill="#E6540B" stroke="#111" stroke-width="0.45"/>
<circle cx="268.58" cy="120.36" r="1.95" fill="#E6540B" stroke="#111" stroke-width="0.45"/>
<circle cx="276.75" cy="112.25" r="1.95" fill="#E6540B" stroke="#111" stroke-width="0.45"/>
<circle cx="275.22" cy="119.56" r="1.95" fill="#E6540B" stroke="#111" stroke-width="0.45"/>
<circle cx="277.41" cy="120.09" r="1.95" fill="#E6540B" stroke="#111" stroke-width="0.45"/>
<circle cx="272.57" cy="114.49" r="1.95" fill="#E6540B" stroke="#111" stroke-width="0.45"/>
<circle cx="265.75" cy="116.30" r="1.95" fill="#E6540B" stroke="#111" stroke-width="0.45"/>
<circle cx="268.81" cy="122.62" r="1.95" fill="#E6540B" stroke="#111" stroke-width="0.45"/>
<circle cx="275.93" cy="115.73" r="1.95" fill="#E6540B" stroke="#111" stroke-width="0.45"/>
<circle cx="265.33" cy="115.20" r="1.95" fill="#E6540B" stroke="#111" stroke-width="0.45"/>
<circle cx="277.88" cy="118.52" r="1.95" fill="#E6540B" stroke="#111" stroke-width="0.45"/>
<circle cx="275.35" cy="121.45" r="1.95" fill="#E6540B" stroke="#111" stroke-width="0.45"/>
<circle cx="270.63" cy="113.47" r="1.95" fill="#E6540B" stroke="#111" stroke-width="0.45"/>
<circle cx="266.95" cy="114.35" r="1.95" fill="#E6540B" stroke="#111" stroke-width="0.45"/>
<circle cx="271.14" cy="112.30" r="1.95" fill="#E6540B" stroke="#111" stroke-width="0.45"/>
<circle cx="267.72" cy="110.69" r="1.95" fill="#E6540B" stroke="#111" stroke-width="0.45"/>
<circle cx="266.55" cy="114.71" r="1.95" fill="#E6540B" stroke="#111" stroke-width="0.45"/>
<circle cx="273.71" cy="112.44" r="1.95" fill="#E6540B" stroke="#111" stroke-width="0.45"/>
<circle cx="271.59" cy="111.17" r="1.95" fill="#E6540B" stroke="#111" stroke-width="0.45"/>
<circle cx="262.71" cy="118.33" r="1.95" fill="#E6540B" stroke="#111" stroke-width="0.45"/>
<circle cx="265.98" cy="121.81" r="1.95" fill="#E6540B" stroke="#111" stroke-width="0.45"/>
<circle cx="262.60" cy="118.49" r="1.95" fill="#E6540B" stroke="#111" stroke-width="0.45"/>
<circle cx="267.55" cy="109.40" r="1.95" fill="#E6540B" stroke="#111" stroke-width="0.45"/>
<circle cx="265.74" cy="118.71" r="1.95" fill="#E6540B" stroke="#111" stroke-width="0.45"/>
<circle cx="277.88" cy="116.12" r="1.95" fill="#E6540B" stroke="#111" stroke-width="0.45"/>
<circle cx="263.40" cy="119.38" r="1.95" fill="#E6540B" stroke="#111" stroke-width="0.45"/>
<circle cx="270.69" cy="123.64" r="1.95" fill="#E6540B" stroke="#111" stroke-width="0.45"/>
<circle cx="270.89" cy="110.26" r="1.95" fill="#E6540B" stroke="#111" stroke-width="0.45"/>
<circle cx="268.36" cy="122.82" r="1.95" fill="#E6540B" stroke="#111" stroke-width="0.45"/>
<circle cx="278.47" cy="113.05" r="1.95" fill="#E6540B" stroke="#111" stroke-width="0.45"/>
<circle cx="273.29" cy="115.11" r="1.95" fill="#E6540B" stroke="#111" stroke-width="0.45"/>
<circle cx="270.19" cy="109.33" r="1.95" fill="#E6540B" stroke="#111" stroke-width="0.45"/>
<circle cx="267.90" cy="116.62" r="1.95" fill="#E6540B" stroke="#111" stroke-width="0.45"/>
<circle cx="265.95" cy="115.32" r="1.95" fill="#E6540B" stroke="#111" stroke-width="0.45"/>
<circle cx="280.17" cy="117.78" r="1.95" fill="#E6540B" stroke="#111" stroke-width="0.45"/>
<circle cx="274.64" cy="111.11" r="1.95" fill="#E6540B" stroke="#111" stroke-width="0.45"/>
<circle cx="270.62" cy="110.15" r="1.95" fill="#E6540B" stroke="#111" stroke-width="0.45"/>
<circle cx="267.31" cy="116.90" r="1.95" fill="#E6540B" stroke="#111" stroke-width="0.45"/>
<circle cx="268.99" cy="121.48" r="1.95" fill="#E6540B" stroke="#111" stroke-width="0.45"/>
<circle cx="265.92" cy="114.27" r="1.95" fill="#E6540B" stroke="#111" stroke-width="0.45"/>
<circle cx="274.78" cy="119.45" r="1.95" fill="#E6540B" stroke="#111" stroke-width="0.45"/>
<circle cx="274.50" cy="122.95" r="1.95" fill="#E6540B" stroke="#111" stroke-width="0.45"/>
<circle cx="271.84" cy="120.93" r="1.95" fill="#E6540B" stroke="#111" stroke-width="0.45"/>
<circle cx="265.85" cy="115.32" r="1.95" fill="#E6540B" stroke="#111" stroke-width="0.45"/>
<circle cx="263.27" cy="116.48" r="1.95" fill="#E6540B" stroke="#111" stroke-width="0.45"/>
<circle cx="279.97" cy="118.52" r="1.95" fill="#E6540B" stroke="#111" stroke-width="0.45"/>
<circle cx="266.99" cy="115.62" r="1.95" fill="#E6540B" stroke="#111" stroke-width="0.45"/>
<circle cx="274.78" cy="115.96" r="1.95" fill="#E6540B" stroke="#111" stroke-width="0.45"/>
<circle cx="241.60" cy="32.70" r="1.95" fill="#4DA6F7" stroke="#111" stroke-width="0.45"/>
<circle cx="245.70" cy="39.40" r="1.95" fill="#4DA6F7" stroke="#111" stroke-width="0.45"/>
<circle cx="253.50" cy="45.20" r="1.95" fill="#4DA6F7" stroke="#111" stroke-width="0.45"/>
<circle cx="243.80" cy="46.60" r="1.95" fill="#4DA6F7" stroke="#111" stroke-width="0.45"/>
<circle cx="234.00" cy="49.40" r="1.95" fill="#4DA6F7" stroke="#111" stroke-width="0.45"/>
<circle cx="232.70" cy="51.30" r="1.95" fill="#4DA6F7" stroke="#111" stroke-width="0.45"/>
<circle cx="238.30" cy="56.30" r="1.95" fill="#4DA6F7" stroke="#111" stroke-width="0.45"/>
<circle cx="269.00" cy="49.70" r="1.95" fill="#FA9A1E" stroke="#111" stroke-width="0.45"/>
<circle cx="282.00" cy="52.00" r="1.95" fill="#FBC274" stroke="#111" stroke-width="0.45"/>
<circle cx="279.40" cy="58.30" r="1.95" fill="#FBC274" stroke="#111" stroke-width="0.45"/>
<circle cx="285.60" cy="54.60" r="1.95" fill="#FBC274" stroke="#111" stroke-width="0.45"/>
<circle cx="283.00" cy="56.50" r="1.95" fill="#FBC274" stroke="#111" stroke-width="0.45"/>
<rect x="263.75" y="62.55" width="4.10" height="4.10" fill="#1F6FD2" stroke="#111" stroke-width="0.45" rx="0"/>
<rect x="260.45" y="64.95" width="4.10" height="4.10" fill="#1F6FD2" stroke="#111" stroke-width="0.45" rx="0"/>
<rect x="257.45" y="67.45" width="4.10" height="4.10" fill="#1F6FD2" stroke="#111" stroke-width="0.45" rx="0"/>
<rect x="254.95" y="77.95" width="4.10" height="4.10" fill="#1F6FD2" stroke="#111" stroke-width="0.45" rx="0"/>
<rect x="251.95" y="74.95" width="4.10" height="4.10" fill="#1F6FD2" stroke="#111" stroke-width="0.45" rx="0"/>
<circle cx="265.00" cy="94.80" r="1.95" fill="#E6540B" stroke="#111" stroke-width="0.45"/>
<circle cx="277.00" cy="96.30" r="1.95" fill="#E6540B" stroke="#111" stroke-width="0.45"/>
<circle cx="282.00" cy="103.00" r="1.95" fill="#E6540B" stroke="#111" stroke-width="0.45"/>
<circle cx="284.40" cy="103.50" r="1.95" fill="#E6540B" stroke="#111" stroke-width="0.45"/>
<circle cx="299.80" cy="101.80" r="1.95" fill="#E6540B" stroke="#111" stroke-width="0.45"/>
<rect x="275.35" y="67.45" width="4.10" height="4.10" fill="#E6540B" stroke="#111" stroke-width="0.45" rx="0"/>
<circle cx="274.00" cy="92.00" r="1.95" fill="#E6540B" stroke="#111" stroke-width="0.45"/>
<rect x="269.45" y="108.95" width="4.10" height="4.10" fill="#E6540B" stroke="#111" stroke-width="0.45" rx="0"/>
<rect x="270.95" y="105.95" width="4.10" height="4.10" fill="#E6540B" stroke="#111" stroke-width="0.45" rx="0"/>
<rect x="323.95" y="51.95" width="4.10" height="4.10" fill="#9A38D6" stroke="#111" stroke-width="0.45" rx="0"/>
<rect x="338.15" y="71.15" width="4.10" height="4.10" fill="#9A38D6" stroke="#111" stroke-width="0.45" rx="0"/>
<rect x="338.15" y="75.65" width="4.10" height="4.10" fill="#9A38D6" stroke="#111" stroke-width="0.45" rx="0"/>
<circle cx="334.00" cy="72.50" r="1.95" fill="#9A38D6" stroke="#111" stroke-width="0.45"/>
<rect x="344.95" y="60.95" width="4.10" height="4.10" fill="#9A38D6" stroke="#111" stroke-width="0.45" rx="0"/>
<rect x="284.95" y="61.95" width="4.10" height="4.10" fill="#F31BF0" stroke="#111" stroke-width="0.45" rx="0"/>
<circle cx="323.00" cy="60.00" r="1.95" fill="#F31BF0" stroke="#111" stroke-width="0.45"/>
<rect x="301.95" y="64.95" width="4.10" height="4.10" fill="#F31BF0" stroke="#111" stroke-width="0.45" rx="0"/>
<rect x="305.95" y="65.95" width="4.10" height="4.10" fill="#F31BF0" stroke="#111" stroke-width="0.45" rx="0"/>
<rect x="297.95" y="52.95" width="4.10" height="4.10" fill="#F31BF0" stroke="#111" stroke-width="0.45" rx="0"/>
<circle cx="308.00" cy="76.20" r="1.95" fill="#2E7D32" stroke="#111" stroke-width="0.45"/>
<circle cx="311.70" cy="83.90" r="1.95" fill="#2E7D32" stroke="#111" stroke-width="0.45"/>
<circle cx="285.60" cy="71.50" r="1.95" fill="#2E7D32" stroke="#111" stroke-width="0.45"/>
<circle cx="277.00" cy="89.40" r="1.95" fill="#2E7D32" stroke="#111" stroke-width="0.45"/>
<rect x="280.95" y="64.95" width="4.10" height="4.10" fill="#2E7D32" stroke="#111" stroke-width="0.45" rx="0"/>
<rect x="288.95" y="61.45" width="4.10" height="4.10" fill="#2E7D32" stroke="#111" stroke-width="0.45" rx="0"/>
<rect x="284.95" y="69.95" width="4.10" height="4.10" fill="#2E7D32" stroke="#111" stroke-width="0.45" rx="0"/>
<circle cx="281.00" cy="93.00" r="1.95" fill="#2E7D32" stroke="#111" stroke-width="0.45"/>
<circle cx="284.00" cy="88.00" r="1.95" fill="#2E7D32" stroke="#111" stroke-width="0.45"/>
<rect x="253.00" y="14.40" width="24.50" height="10.00" fill="#fff" stroke="#FA9A1E" stroke-width="1.3" rx="1.4"/>
<text x="265.25" y="21.80" font-size="6.6" text-anchor="middle" fill="#111" stroke="#111" stroke-width="0.16">T+C.24</text>
<rect x="292.30" y="8.90" width="24.50" height="10.00" fill="#fff" stroke="#FA9A1E" stroke-width="1.3" rx="1.4"/>
<text x="304.55" y="16.30" font-size="6.6" text-anchor="middle" fill="#111" stroke="#111" stroke-width="0.16">T+C.33</text>
<rect x="313.10" y="25.40" width="24.50" height="10.00" fill="#fff" stroke="#FBC274" stroke-width="1.3" rx="1.4"/>
<text x="325.35" y="32.80" font-size="6.6" text-anchor="middle" fill="#111" stroke="#111" stroke-width="0.16">T+C.29</text>
<rect x="262.70" y="28.80" width="24.50" height="10.00" fill="#fff" stroke="#FA9A1E" stroke-width="1.3" rx="1.4"/>
<text x="274.95" y="36.20" font-size="6.6" text-anchor="middle" fill="#111" stroke="#111" stroke-width="0.16">T+C.28</text>
<rect x="206.40" y="27.70" width="24.50" height="10.00" fill="#fff" stroke="#4DA6F7" stroke-width="1.3" rx="1.4"/>
<text x="218.65" y="35.10" font-size="6.6" text-anchor="middle" fill="#111" stroke="#111" stroke-width="0.16">T+C.31</text>
<rect x="286.80" y="48.30" width="24.50" height="10.00" fill="#fff" stroke="#F31BF0" stroke-width="1.3" rx="1.4"/>
<text x="299.05" y="55.70" font-size="6.6" text-anchor="middle" fill="#111" stroke="#111" stroke-width="0.16">T+C.30</text>
<rect x="333.40" y="59.50" width="24.50" height="10.00" fill="#fff" stroke="#9A38D6" stroke-width="1.3" rx="1.4"/>
<text x="345.65" y="66.90" font-size="6.6" text-anchor="middle" fill="#111" stroke="#111" stroke-width="0.16">T+C.27</text>
<rect x="234.40" y="68.80" width="24.50" height="10.00" fill="#fff" stroke="#1F6FD2" stroke-width="1.3" rx="1.4"/>
<text x="246.65" y="76.20" font-size="6.6" text-anchor="middle" fill="#111" stroke="#111" stroke-width="0.16">T+C.26</text>
<rect x="275.10" y="74.40" width="24.50" height="10.00" fill="#fff" stroke="#2E7D32" stroke-width="1.3" rx="1.4"/>
<text x="287.35" y="81.80" font-size="6.6" text-anchor="middle" fill="#111" stroke="#111" stroke-width="0.16">T+C.32</text>
<rect x="252.70" y="98.20" width="24.50" height="10.00" fill="#fff" stroke="#E6540B" stroke-width="1.3" rx="1.4"/>
<text x="264.95" y="105.60" font-size="6.6" text-anchor="middle" fill="#111" stroke="#111" stroke-width="0.16">T+C.25</text>
<text x="203.90" y="172.30" font-size="10.8" font-weight="bold" fill="#000" stroke="#000" stroke-width="0.5">d</text>
<text x="251.20" y="171.50" font-size="6.6" fill="#111" stroke="#111" stroke-width="0.16">Overlap of K–L clusters</text>
<rect x="249.90" y="175.80" width="80.91" height="89.80" fill="#440558" stroke="none" stroke-width="0.6" rx="0"/>
<rect x="249.85" y="175.75" width="9.09" height="9.08" fill="#365e8d" stroke="none" stroke-width="0.6" rx="0"/>
<rect x="285.81" y="175.75" width="9.09" height="9.08" fill="#461668" stroke="none" stroke-width="0.6" rx="0"/>
<rect x="303.79" y="175.75" width="9.09" height="9.08" fill="#461365" stroke="none" stroke-width="0.6" rx="0"/>
<rect x="321.77" y="175.75" width="9.09" height="9.08" fill="#461365" stroke="none" stroke-width="0.6" rx="0"/>
<rect x="258.84" y="184.73" width="9.09" height="9.08" fill="#33648d" stroke="none" stroke-width="0.6" rx="0"/>
<rect x="285.81" y="184.73" width="9.09" height="9.08" fill="#461062" stroke="none" stroke-width="0.6" rx="0"/>
<rect x="249.85" y="193.71" width="9.09" height="9.08" fill="#450d5f" stroke="none" stroke-width="0.6" rx="0"/>
<rect x="258.84" y="193.71" width="9.09" height="9.08" fill="#461062" stroke="none" stroke-width="0.6" rx="0"/>
<rect x="267.83" y="193.71" width="9.09" height="9.08" fill="#404688" stroke="none" stroke-width="0.6" rx="0"/>
<rect x="303.79" y="193.71" width="9.09" height="9.08" fill="#461365" stroke="none" stroke-width="0.6" rx="0"/>
<rect x="321.77" y="193.71" width="9.09" height="9.08" fill="#424185" stroke="none" stroke-width="0.6" rx="0"/>
<rect x="267.83" y="202.69" width="9.09" height="9.08" fill="#450d5f" stroke="none" stroke-width="0.6" rx="0"/>
<rect x="276.82" y="202.69" width="9.09" height="9.08" fill="#fde725" stroke="none" stroke-width="0.6" rx="0"/>
<rect x="312.78" y="202.69" width="9.09" height="9.08" fill="#461062" stroke="none" stroke-width="0.6" rx="0"/>
<rect x="321.77" y="202.69" width="9.09" height="9.08" fill="#461062" stroke="none" stroke-width="0.6" rx="0"/>
<rect x="249.85" y="211.67" width="9.09" height="9.08" fill="#3a548b" stroke="none" stroke-width="0.6" rx="0"/>
<rect x="285.81" y="211.67" width="9.09" height="9.08" fill="#450d5f" stroke="none" stroke-width="0.6" rx="0"/>
<rect x="258.84" y="220.65" width="9.09" height="9.08" fill="#3e4b89" stroke="none" stroke-width="0.6" rx="0"/>
<rect x="276.82" y="220.65" width="9.09" height="9.08" fill="#461365" stroke="none" stroke-width="0.6" rx="0"/>
<rect x="294.80" y="220.65" width="9.09" height="9.08" fill="#219a89" stroke="none" stroke-width="0.6" rx="0"/>
<rect x="312.78" y="220.65" width="9.09" height="9.08" fill="#461062" stroke="none" stroke-width="0.6" rx="0"/>
<rect x="321.77" y="220.65" width="9.09" height="9.08" fill="#450d5f" stroke="none" stroke-width="0.6" rx="0"/>
<rect x="249.85" y="229.63" width="9.09" height="9.08" fill="#365e8d" stroke="none" stroke-width="0.6" rx="0"/>
<rect x="303.79" y="229.63" width="9.09" height="9.08" fill="#461062" stroke="none" stroke-width="0.6" rx="0"/>
<rect x="258.84" y="238.61" width="9.09" height="9.08" fill="#450d5f" stroke="none" stroke-width="0.6" rx="0"/>
<rect x="267.83" y="238.61" width="9.09" height="9.08" fill="#461365" stroke="none" stroke-width="0.6" rx="0"/>
<rect x="276.82" y="238.61" width="9.09" height="9.08" fill="#461668" stroke="none" stroke-width="0.6" rx="0"/>
<rect x="312.78" y="238.61" width="9.09" height="9.08" fill="#2bae7f" stroke="none" stroke-width="0.6" rx="0"/>
<rect x="267.83" y="247.59" width="9.09" height="9.08" fill="#461365" stroke="none" stroke-width="0.6" rx="0"/>
<rect x="285.81" y="247.59" width="9.09" height="9.08" fill="#461365" stroke="none" stroke-width="0.6" rx="0"/>
<rect x="303.79" y="247.59" width="9.09" height="9.08" fill="#461062" stroke="none" stroke-width="0.6" rx="0"/>
<rect x="312.78" y="247.59" width="9.09" height="9.08" fill="#471f71" stroke="none" stroke-width="0.6" rx="0"/>
<rect x="321.77" y="247.59" width="9.09" height="9.08" fill="#424185" stroke="none" stroke-width="0.6" rx="0"/>
<rect x="249.85" y="256.57" width="9.09" height="9.08" fill="#461365" stroke="none" stroke-width="0.6" rx="0"/>
<rect x="267.83" y="256.57" width="9.09" height="9.08" fill="#461062" stroke="none" stroke-width="0.6" rx="0"/>
<rect x="276.82" y="256.57" width="9.09" height="9.08" fill="#461365" stroke="none" stroke-width="0.6" rx="0"/>
<rect x="303.79" y="256.57" width="9.09" height="9.08" fill="#461062" stroke="none" stroke-width="0.6" rx="0"/>
<rect x="312.78" y="256.57" width="9.09" height="9.08" fill="#462b79" stroke="none" stroke-width="0.6" rx="0"/>
<text x="254.40" y="184.29" font-size="7.5" text-anchor="middle" fill="#fff" stroke="#fff" stroke-width="0.16">*</text>
<text x="263.38" y="193.27" font-size="7.5" text-anchor="middle" fill="#fff" stroke="#fff" stroke-width="0.16">*</text>
<text x="272.38" y="202.25" font-size="7.5" text-anchor="middle" fill="#fff" stroke="#fff" stroke-width="0.16">*</text>
<text x="326.31" y="202.25" font-size="7.5" text-anchor="middle" fill="#fff" stroke="#fff" stroke-width="0.16">*</text>
<text x="281.37" y="211.23" font-size="7.5" text-anchor="middle" fill="#fff" stroke="#fff" stroke-width="0.16">*</text>
<text x="254.40" y="220.21" font-size="7.5" text-anchor="middle" fill="#fff" stroke="#fff" stroke-width="0.16">*</text>
<text x="263.38" y="229.19" font-size="7.5" text-anchor="middle" fill="#fff" stroke="#fff" stroke-width="0.16">*</text>
<text x="299.35" y="229.19" font-size="7.5" text-anchor="middle" fill="#fff" stroke="#fff" stroke-width="0.16">*</text>
<text x="254.40" y="238.17" font-size="7.5" text-anchor="middle" fill="#fff" stroke="#fff" stroke-width="0.16">*</text>
<text x="317.32" y="247.15" font-size="7.5" text-anchor="middle" fill="#fff" stroke="#fff" stroke-width="0.16">*</text>
<text x="326.31" y="256.13" font-size="7.5" text-anchor="middle" fill="#fff" stroke="#fff" stroke-width="0.16">*</text>
<text x="246.80" y="182.64" font-size="6.6" text-anchor="end" fill="#EE2A2F" stroke="#EE2A2F" stroke-width="0.16">T+C.28</text>
<text x="246.80" y="191.62" font-size="6.6" text-anchor="end" fill="#EE2A2F" stroke="#EE2A2F" stroke-width="0.16">T+C.27</text>
<text x="246.80" y="200.60" font-size="6.6" text-anchor="end" fill="#EE2A2F" stroke="#EE2A2F" stroke-width="0.16">T+C.30</text>
<text x="246.80" y="209.58" font-size="6.6" text-anchor="end" fill="#2F3FD0" stroke="#2F3FD0" stroke-width="0.16">T+C.26</text>
<text x="246.80" y="218.56" font-size="6.6" text-anchor="end" fill="#EE2A2F" stroke="#EE2A2F" stroke-width="0.16">T+C.33</text>
<text x="246.80" y="227.54" font-size="6.6" text-anchor="end" fill="#2F3FD0" stroke="#2F3FD0" stroke-width="0.16">T+C.31</text>
<text x="246.80" y="236.52" font-size="6.6" text-anchor="end" fill="#EE2A2F" stroke="#EE2A2F" stroke-width="0.16">T+C.24</text>
<text x="246.80" y="245.50" font-size="6.6" text-anchor="end" fill="#2F3FD0" stroke="#2F3FD0" stroke-width="0.16">T+C.25</text>
<text x="246.80" y="254.48" font-size="6.6" text-anchor="end" fill="#EE2A2F" stroke="#EE2A2F" stroke-width="0.16">T+C.32</text>
<text x="246.80" y="263.46" font-size="6.6" text-anchor="end" fill="#EE2A2F" stroke="#EE2A2F" stroke-width="0.16">T+C.29</text>
<text x="256.89" y="269.00" font-size="7.0" text-anchor="end" fill="#EE2A2F" stroke="#EE2A2F" stroke-width="0.16" transform="rotate(-90 256.89 269.00)">T.7</text>
<text x="265.88" y="269.00" font-size="7.0" text-anchor="end" fill="#EE2A2F" stroke="#EE2A2F" stroke-width="0.16" transform="rotate(-90 265.88 269.00)">T.8</text>
<text x="274.88" y="269.00" font-size="7.0" text-anchor="end" fill="#2F3FD0" stroke="#2F3FD0" stroke-width="0.16" transform="rotate(-90 274.88 269.00)">T.9</text>
<text x="283.87" y="269.00" font-size="7.0" text-anchor="end" fill="#EE2A2F" stroke="#EE2A2F" stroke-width="0.16" transform="rotate(-90 283.87 269.00)">T.10</text>
<text x="292.86" y="269.00" font-size="7.0" text-anchor="end" fill="#2F3FD0" stroke="#2F3FD0" stroke-width="0.16" transform="rotate(-90 292.86 269.00)">T.11</text>
<text x="301.85" y="269.00" font-size="7.0" text-anchor="end" fill="#EE2A2F" stroke="#EE2A2F" stroke-width="0.16" transform="rotate(-90 301.85 269.00)">T.12</text>
<text x="310.84" y="269.00" font-size="7.0" text-anchor="end" fill="#2F3FD0" stroke="#2F3FD0" stroke-width="0.16" transform="rotate(-90 310.84 269.00)">T.13</text>
<text x="319.82" y="269.00" font-size="7.0" text-anchor="end" fill="#EE2A2F" stroke="#EE2A2F" stroke-width="0.16" transform="rotate(-90 319.82 269.00)">T.14</text>
<text x="328.81" y="269.00" font-size="7.0" text-anchor="end" fill="#2F3FD0" stroke="#2F3FD0" stroke-width="0.16" transform="rotate(-90 328.81 269.00)">T.15</text>
<text x="290.60" y="291.60" font-size="6.6" text-anchor="middle" fill="#111" stroke="#111" stroke-width="0.16">WT versus p.Tyr622*</text>
<text x="218.60" y="220.40" font-size="6.6" text-anchor="middle" fill="#111" stroke="#111" stroke-width="0.16" transform="rotate(-90 218.60 220.40)">p.Tyr622* ± CDP-choline</text>
<rect x="336.10" y="175.80" width="3.90" height="89.80" fill="url(#gvir)" stroke="none" stroke-width="0.6" rx="0"/>
<line x1="340.00" y1="203.40" x2="342.60" y2="203.40" stroke="#1a1a1a" stroke-width="0.75"/>
<text x="347.50" y="205.70" font-size="6.6" fill="#111" stroke="#111" stroke-width="0.16">0.4</text>
<line x1="340.00" y1="234.40" x2="342.60" y2="234.40" stroke="#1a1a1a" stroke-width="0.75"/>
<text x="347.50" y="236.70" font-size="6.6" fill="#111" stroke="#111" stroke-width="0.16">0.2</text>
<line x1="340.00" y1="265.40" x2="342.60" y2="265.40" stroke="#1a1a1a" stroke-width="0.75"/>
<text x="347.50" y="267.70" font-size="6.6" fill="#111" stroke="#111" stroke-width="0.16">0</text>
<text x="369.80" y="220.40" font-size="6.6" text-anchor="middle" fill="#111" stroke="#111" stroke-width="0.16" transform="rotate(-90 369.80 220.40)">Jaccard index</text>
<text x="387.00" y="5.90" font-size="10.8" font-weight="bold" fill="#000" stroke="#000" stroke-width="0.5">e</text>
<text x="421.50" y="7.00" font-size="6.6" fill="#111" stroke="#111" stroke-width="0.16">p.Tyr622* + H<tspan font-size="4.6" dy="1.5">2</tspan><tspan dy="-1.5" font-size="0.1"> </tspan>O versus + CDP-choline</text>
<text x="551.20" y="7.00" font-size="6.6" fill="#111" stroke="#111" stroke-width="0.16">Representative cluster terms</text>
<line x1="457.30" y1="11.50" x2="457.30" y2="276.50" stroke="#9a9a9a" stroke-width="0.5" stroke-dasharray="0.6 1.0"/>
<path d="M443.6 34.4L443.6 34.3L443.9 34.2L444.3 34.2L444.7 34.1L445.0 34.1L445.4 34.0L445.8 34.0L446.2 33.9L446.5 33.8L446.9 33.7L447.3 33.6L447.6 33.5L448.0 33.4L448.4 33.3L448.8 33.1L449.1 32.9L449.5 32.7L449.9 32.4L450.2 32.0L450.6 31.6L451.0 31.1L451.4 30.6L451.7 30.1L452.1 29.6L452.5 29.2L452.8 28.8L453.2 28.6L453.6 28.4L454.0 28.4L454.3 28.5L454.7 28.7L455.1 28.9L455.4 29.1L455.8 29.2L456.2 29.2L456.6 29.0L456.9 28.7L457.3 28.0L457.7 27.1L458.0 26.0L458.4 24.6L458.8 23.0L459.2 21.4L459.5 19.6L459.9 17.9L460.3 16.4L460.6 15.0L461.0 13.9L461.4 13.2L461.8 12.9L462.1 13.0L462.5 13.5L462.9 14.3L463.2 15.4L463.6 16.8L464.0 18.4L464.4 20.0L464.7 21.6L465.1 23.2L465.5 24.7L465.8 26.1L466.2 27.2L466.6 28.3L467.0 29.1L467.3 29.9L467.7 30.5L468.1 31.0L468.4 31.4L468.8 31.7L469.2 32.0L469.6 32.2L469.9 32.5L470.3 32.7L470.7 32.8L471.0 33.0L471.4 33.2L471.8 33.3L472.2 33.5L472.5 33.6L472.9 33.7L473.3 33.8L473.6 33.9L474.0 34.0L474.4 34.1L474.7 34.1L475.1 34.2L475.5 34.2L475.9 34.3L475.9 34.4Z" fill="#F7941D" stroke="none" stroke-width="0.6" fill-opacity="0.42"/>
<path d="M443.6 34.3L443.9 34.2L444.3 34.2L444.7 34.1L445.0 34.1L445.4 34.0L445.8 34.0L446.2 33.9L446.5 33.8L446.9 33.7L447.3 33.6L447.6 33.5L448.0 33.4L448.4 33.3L448.8 33.1L449.1 32.9L449.5 32.7L449.9 32.4L450.2 32.0L450.6 31.6L451.0 31.1L451.4 30.6L451.7 30.1L452.1 29.6L452.5 29.2L452.8 28.8L453.2 28.6L453.6 28.4L454.0 28.4L454.3 28.5L454.7 28.7L455.1 28.9L455.4 29.1L455.8 29.2L456.2 29.2L456.6 29.0L456.9 28.7L457.3 28.0L457.7 27.1L458.0 26.0L458.4 24.6L458.8 23.0L459.2 21.4L459.5 19.6L459.9 17.9L460.3 16.4L460.6 15.0L461.0 13.9L461.4 13.2L461.8 12.9L462.1 13.0L462.5 13.5L462.9 14.3L463.2 15.4L463.6 16.8L464.0 18.4L464.4 20.0L464.7 21.6L465.1 23.2L465.5 24.7L465.8 26.1L466.2 27.2L466.6 28.3L467.0 29.1L467.3 29.9L467.7 30.5L468.1 31.0L468.4 31.4L468.8 31.7L469.2 32.0L469.6 32.2L469.9 32.5L470.3 32.7L470.7 32.8L471.0 33.0L471.4 33.2L471.8 33.3L472.2 33.5L472.5 33.6L472.9 33.7L473.3 33.8L473.6 33.9L474.0 34.0L474.4 34.1L474.7 34.1L475.1 34.2L475.5 34.2L475.9 34.3" fill="none" stroke="#F7941D" stroke-width="0.7"/>
<line x1="461.46" y1="34.40" x2="461.46" y2="13.16" stroke="#F7941D" stroke-width="0.7"/>
<line x1="425.80" y1="12.10" x2="425.80" y2="34.40" stroke="#333" stroke-width="0.6"/>
<line x1="421.50" y1="34.40" x2="498.80" y2="34.40" stroke="#333" stroke-width="0.6"/>
<line x1="421.50" y1="13.70" x2="425.80" y2="13.70" stroke="#333" stroke-width="0.6"/>
<line x1="457.30" y1="34.40" x2="457.30" y2="36.20" stroke="#333" stroke-width="0.5"/>
<line x1="494.43" y1="34.40" x2="494.43" y2="36.20" stroke="#333" stroke-width="0.5"/>
<text x="417.30" y="16.00" font-size="6.6" text-anchor="end" fill="#111" stroke="#111" stroke-width="0.16">0.2</text>
<text x="417.30" y="36.70" font-size="6.6" text-anchor="end" fill="#111" stroke="#111" stroke-width="0.16">0</text>
<text x="428.20" y="22.10" font-size="6.6" fill="#111" stroke="#111" stroke-width="0.16">T+C.24</text>
<line x1="494.60" y1="16.70" x2="499.90" y2="16.70" stroke="#F7941D" stroke-width="0.8"/>
<polygon points="502.90,16.70 499.90,18.20 499.90,15.20" fill="#F7941D"/>
<rect x="506.00" y="11.40" width="178.20" height="25.70" fill="#fff" stroke="#F7941D" stroke-width="0.8" rx="0"/>
<text x="511.00" y="19.00" font-size="6.6" fill="#111" stroke="#111" stroke-width="0.16">Breast cancer pathway</text>
<text x="511.00" y="25.90" font-size="6.6" fill="#111" stroke="#111" stroke-width="0.16">ES cell pluripotency pathways</text>
<text x="511.00" y="32.80" font-size="6.6" fill="#111" stroke="#111" stroke-width="0.16">Epithelial-to-mesenchymal transition in cancer</text>
<path d="M436.1 61.3L436.1 61.2L436.5 61.1L436.9 61.1L437.3 61.1L437.6 61.1L438.0 61.0L438.4 61.0L438.7 61.0L439.1 61.0L439.5 60.9L439.9 60.9L440.2 60.9L440.6 60.8L441.0 60.8L441.3 60.8L441.7 60.7L442.1 60.7L442.4 60.7L442.8 60.7L443.2 60.7L443.6 60.7L443.9 60.7L444.3 60.7L444.7 60.7L445.0 60.6L445.4 60.6L445.8 60.6L446.2 60.6L446.5 60.5L446.9 60.3L447.3 60.1L447.6 59.8L448.0 59.3L448.4 58.7L448.8 57.8L449.1 56.7L449.5 55.4L449.9 53.7L450.2 51.9L450.6 49.9L451.0 47.8L451.4 45.7L451.7 43.7L452.1 42.0L452.5 40.8L452.8 40.0L453.2 39.8L453.6 40.2L454.0 41.1L454.3 42.4L454.7 44.2L455.1 46.1L455.4 48.2L455.8 50.2L456.2 52.1L456.6 53.8L456.9 55.3L457.3 56.5L457.7 57.4L458.0 58.2L458.4 58.7L458.8 59.1L459.2 59.4L459.5 59.5L459.9 59.7L460.3 59.7L460.6 59.8L461.0 59.8L461.4 59.8L461.8 59.8L462.1 59.9L462.5 59.9L462.9 59.9L463.2 60.0L463.6 60.0L464.0 60.1L464.4 60.1L464.7 60.2L465.1 60.2L465.5 60.3L465.8 60.3L466.2 60.4L466.6 60.5L467.0 60.5L467.3 60.6L467.7 60.7L468.1 60.7L468.4 60.8L468.8 60.8L469.2 60.9L469.6 60.9L469.9 61.0L470.3 61.0L470.7 61.0L471.0 61.1L471.4 61.1L471.8 61.1L472.2 61.2L472.5 61.2L472.5 61.3Z" fill="#EE6A1E" stroke="none" stroke-width="0.6" fill-opacity="0.42"/>
<path d="M436.1 61.2L436.5 61.1L436.9 61.1L437.3 61.1L437.6 61.1L438.0 61.0L438.4 61.0L438.7 61.0L439.1 61.0L439.5 60.9L439.9 60.9L440.2 60.9L440.6 60.8L441.0 60.8L441.3 60.8L441.7 60.7L442.1 60.7L442.4 60.7L442.8 60.7L443.2 60.7L443.6 60.7L443.9 60.7L444.3 60.7L444.7 60.7L445.0 60.6L445.4 60.6L445.8 60.6L446.2 60.6L446.5 60.5L446.9 60.3L447.3 60.1L447.6 59.8L448.0 59.3L448.4 58.7L448.8 57.8L449.1 56.7L449.5 55.4L449.9 53.7L450.2 51.9L450.6 49.9L451.0 47.8L451.4 45.7L451.7 43.7L452.1 42.0L452.5 40.8L452.8 40.0L453.2 39.8L453.6 40.2L454.0 41.1L454.3 42.4L454.7 44.2L455.1 46.1L455.4 48.2L455.8 50.2L456.2 52.1L456.6 53.8L456.9 55.3L457.3 56.5L457.7 57.4L458.0 58.2L458.4 58.7L458.8 59.1L459.2 59.4L459.5 59.5L459.9 59.7L460.3 59.7L460.6 59.8L461.0 59.8L461.4 59.8L461.8 59.8L462.1 59.9L462.5 59.9L462.9 59.9L463.2 60.0L463.6 60.0L464.0 60.1L464.4 60.1L464.7 60.2L465.1 60.2L465.5 60.3L465.8 60.3L466.2 60.4L466.6 60.5L467.0 60.5L467.3 60.6L467.7 60.7L468.1 60.7L468.4 60.8L468.8 60.8L469.2 60.9L469.6 60.9L469.9 61.0L470.3 61.0L470.7 61.0L471.0 61.1L471.4 61.1L471.8 61.1L472.2 61.2L472.5 61.2" fill="none" stroke="#EE6A1E" stroke-width="0.7"/>
<line x1="453.14" y1="61.30" x2="453.14" y2="39.84" stroke="#EE6A1E" stroke-width="0.7"/>
<line x1="425.80" y1="39.00" x2="425.80" y2="61.30" stroke="#333" stroke-width="0.6"/>
<line x1="421.50" y1="61.30" x2="498.80" y2="61.30" stroke="#333" stroke-width="0.6"/>
<line x1="421.50" y1="42.00" x2="425.80" y2="42.00" stroke="#333" stroke-width="0.6"/>
<line x1="457.30" y1="61.30" x2="457.30" y2="63.10" stroke="#333" stroke-width="0.5"/>
<line x1="494.43" y1="61.30" x2="494.43" y2="63.10" stroke="#333" stroke-width="0.5"/>
<text x="417.30" y="44.30" font-size="6.6" text-anchor="end" fill="#111" stroke="#111" stroke-width="0.16">0.2</text>
<text x="417.30" y="63.60" font-size="6.6" text-anchor="end" fill="#111" stroke="#111" stroke-width="0.16">0</text>
<text x="428.20" y="49.00" font-size="6.6" fill="#111" stroke="#111" stroke-width="0.16">T+C.25</text>
<line x1="494.60" y1="43.60" x2="499.90" y2="43.60" stroke="#EE6A1E" stroke-width="0.8"/>
<polygon points="502.90,43.60 499.90,45.10 499.90,42.10" fill="#EE6A1E"/>
<rect x="506.00" y="38.30" width="178.20" height="25.70" fill="#fff" stroke="#EE6A1E" stroke-width="0.8" rx="0"/>
<text x="511.00" y="45.90" font-size="6.6" fill="#111" stroke="#111" stroke-width="0.16">Proteasome degradation</text>
<text x="511.00" y="52.80" font-size="6.6" fill="#111" stroke="#111" stroke-width="0.16">Parkin-ubiquitin proteasomal system pathway</text>
<text x="511.00" y="59.70" font-size="6.6" fill="#111" stroke="#111" stroke-width="0.16">Ciliary landscape</text>
<path d="M433.9 88.2L433.9 88.1L434.3 88.0L434.7 87.9L435.0 87.8L435.4 87.7L435.8 87.6L436.1 87.6L436.5 87.5L436.9 87.4L437.3 87.4L437.6 87.4L438.0 87.5L438.4 87.6L438.7 87.6L439.1 87.7L439.5 87.8L439.9 87.9L440.2 88.0L440.6 88.1L444.3 88.1L444.7 88.0L445.0 87.9L445.4 87.8L445.8 87.7L446.2 87.5L446.5 87.3L446.9 87.1L447.3 86.8L447.6 86.5L448.0 86.1L448.4 85.6L448.8 85.1L449.1 84.5L449.5 83.8L449.9 83.0L450.2 82.1L450.6 81.0L451.0 79.8L451.4 78.4L451.7 76.9L452.1 75.2L452.5 73.5L452.8 71.8L453.2 70.2L453.6 68.8L454.0 67.6L454.3 66.9L454.7 66.7L455.1 67.0L455.4 67.8L455.8 69.0L456.2 70.6L456.6 72.6L456.9 74.6L457.3 76.7L457.7 78.8L458.0 80.6L458.4 82.3L458.8 83.7L459.2 84.9L459.5 85.8L459.9 86.6L460.3 87.1L460.6 87.5L461.0 87.7L461.4 87.9L461.8 88.0L461.8 88.2Z" fill="#2B74C9" stroke="none" stroke-width="0.6" fill-opacity="0.42"/>
<path d="M433.9 88.1L434.3 88.0L434.7 87.9L435.0 87.8L435.4 87.7L435.8 87.6L436.1 87.6L436.5 87.5L436.9 87.4L437.3 87.4L437.6 87.4L438.0 87.5L438.4 87.6L438.7 87.6L439.1 87.7L439.5 87.8L439.9 87.9L440.2 88.0L440.6 88.1L444.3 88.1L444.7 88.0L445.0 87.9L445.4 87.8L445.8 87.7L446.2 87.5L446.5 87.3L446.9 87.1L447.3 86.8L447.6 86.5L448.0 86.1L448.4 85.6L448.8 85.1L449.1 84.5L449.5 83.8L449.9 83.0L450.2 82.1L450.6 81.0L451.0 79.8L451.4 78.4L451.7 76.9L452.1 75.2L452.5 73.5L452.8 71.8L453.2 70.2L453.6 68.8L454.0 67.6L454.3 66.9L454.7 66.7L455.1 67.0L455.4 67.8L455.8 69.0L456.2 70.6L456.6 72.6L456.9 74.6L457.3 76.7L457.7 78.8L458.0 80.6L458.4 82.3L458.8 83.7L459.2 84.9L459.5 85.8L459.9 86.6L460.3 87.1L460.6 87.5L461.0 87.7L461.4 87.9L461.8 88.0" fill="none" stroke="#2B74C9" stroke-width="0.7"/>
<line x1="454.63" y1="88.20" x2="454.63" y2="66.75" stroke="#2B74C9" stroke-width="0.7"/>
<line x1="425.80" y1="65.90" x2="425.80" y2="88.20" stroke="#333" stroke-width="0.6"/>
<line x1="421.50" y1="88.20" x2="498.80" y2="88.20" stroke="#333" stroke-width="0.6"/>
<line x1="421.50" y1="68.00" x2="425.80" y2="68.00" stroke="#333" stroke-width="0.6"/>
<line x1="457.30" y1="88.20" x2="457.30" y2="90.00" stroke="#333" stroke-width="0.5"/>
<line x1="494.43" y1="88.20" x2="494.43" y2="90.00" stroke="#333" stroke-width="0.5"/>
<text x="417.30" y="70.30" font-size="6.6" text-anchor="end" fill="#111" stroke="#111" stroke-width="0.16">0.25</text>
<text x="417.30" y="90.50" font-size="6.6" text-anchor="end" fill="#111" stroke="#111" stroke-width="0.16">0</text>
<text x="428.20" y="75.90" font-size="6.6" fill="#111" stroke="#111" stroke-width="0.16">T+C.26</text>
<line x1="494.60" y1="70.50" x2="499.90" y2="70.50" stroke="#2B74C9" stroke-width="0.8"/>
<polygon points="502.90,70.50 499.90,72.00 499.90,69.00" fill="#2B74C9"/>
<rect x="506.00" y="65.20" width="178.20" height="25.70" fill="#fff" stroke="#2B74C9" stroke-width="0.8" rx="0"/>
<text x="511.00" y="72.80" font-size="6.6" fill="#111" stroke="#111" stroke-width="0.16">Electron-transport chain (OXPHOS)</text>
<text x="511.00" y="79.70" font-size="6.6" fill="#111" stroke="#111" stroke-width="0.16">Non-alcoholic fatty liver disease</text>
<text x="511.00" y="86.60" font-size="6.6" fill="#111" stroke="#111" stroke-width="0.16">Oxidative phosphorylation</text>
<path d="M438.7 115.1L438.7 115.0L439.1 114.9L439.5 114.9L439.9 114.8L440.2 114.8L440.6 114.7L441.0 114.6L441.3 114.5L441.7 114.4L442.1 114.3L442.4 114.1L442.8 114.0L443.2 113.8L443.6 113.5L443.9 113.3L444.3 113.0L444.7 112.7L445.0 112.3L445.4 111.9L445.8 111.4L446.2 110.9L446.5 110.3L446.9 109.7L447.3 108.9L447.6 108.1L448.0 107.3L448.4 106.3L448.8 105.3L449.1 104.3L449.5 103.2L449.9 102.0L450.2 100.9L450.6 99.8L451.0 98.7L451.4 97.6L451.7 96.7L452.1 95.8L452.5 95.1L452.8 94.5L453.2 94.0L453.6 93.7L454.0 93.6L454.3 93.6L454.7 93.8L455.1 94.1L455.4 94.6L455.8 95.1L456.2 95.7L456.6 96.3L456.9 97.0L457.3 97.6L457.7 98.2L458.0 98.8L458.4 99.3L458.8 99.8L459.2 100.2L459.5 100.5L459.9 100.7L460.3 100.9L460.6 101.0L461.0 101.1L461.4 101.2L461.8 101.2L462.1 101.2L462.5 101.3L462.9 101.3L463.2 101.4L463.6 101.5L464.0 101.6L464.4 101.8L464.7 102.0L465.1 102.3L465.5 102.6L465.8 103.0L466.2 103.4L466.6 103.8L467.0 104.3L467.3 104.8L467.7 105.3L468.1 105.8L468.4 106.4L468.8 106.9L469.2 107.5L469.6 108.1L469.9 108.6L470.3 109.1L470.7 109.6L471.0 110.1L471.4 110.6L471.8 111.1L472.2 111.5L472.5 111.9L472.9 112.2L473.3 112.6L473.6 112.9L474.0 113.2L474.4 113.4L474.7 113.6L475.1 113.8L475.5 114.0L475.9 114.2L476.2 114.3L476.6 114.4L477.0 114.5L477.3 114.6L477.7 114.7L478.1 114.8L478.5 114.8L478.8 114.9L479.2 114.9L479.6 115.0L479.6 115.1Z" fill="#A043D2" stroke="none" stroke-width="0.6" fill-opacity="0.42"/>
<path d="M438.7 115.0L439.1 114.9L439.5 114.9L439.9 114.8L440.2 114.8L440.6 114.7L441.0 114.6L441.3 114.5L441.7 114.4L442.1 114.3L442.4 114.1L442.8 114.0L443.2 113.8L443.6 113.5L443.9 113.3L444.3 113.0L444.7 112.7L445.0 112.3L445.4 111.9L445.8 111.4L446.2 110.9L446.5 110.3L446.9 109.7L447.3 108.9L447.6 108.1L448.0 107.3L448.4 106.3L448.8 105.3L449.1 104.3L449.5 103.2L449.9 102.0L450.2 100.9L450.6 99.8L451.0 98.7L451.4 97.6L451.7 96.7L452.1 95.8L452.5 95.1L452.8 94.5L453.2 94.0L453.6 93.7L454.0 93.6L454.3 93.6L454.7 93.8L455.1 94.1L455.4 94.6L455.8 95.1L456.2 95.7L456.6 96.3L456.9 97.0L457.3 97.6L457.7 98.2L458.0 98.8L458.4 99.3L458.8 99.8L459.2 100.2L459.5 100.5L459.9 100.7L460.3 100.9L460.6 101.0L461.0 101.1L461.4 101.2L461.8 101.2L462.1 101.2L462.5 101.3L462.9 101.3L463.2 101.4L463.6 101.5L464.0 101.6L464.4 101.8L464.7 102.0L465.1 102.3L465.5 102.6L465.8 103.0L466.2 103.4L466.6 103.8L467.0 104.3L467.3 104.8L467.7 105.3L468.1 105.8L468.4 106.4L468.8 106.9L469.2 107.5L469.6 108.1L469.9 108.6L470.3 109.1L470.7 109.6L471.0 110.1L471.4 110.6L471.8 111.1L472.2 111.5L472.5 111.9L472.9 112.2L473.3 112.6L473.6 112.9L474.0 113.2L474.4 113.4L474.7 113.6L475.1 113.8L475.5 114.0L475.9 114.2L476.2 114.3L476.6 114.4L477.0 114.5L477.3 114.6L477.7 114.7L478.1 114.8L478.5 114.8L478.8 114.9L479.2 114.9L479.6 115.0" fill="none" stroke="#A043D2" stroke-width="0.7"/>
<line x1="457.89" y1="115.10" x2="457.89" y2="98.58" stroke="#A043D2" stroke-width="0.7"/>
<line x1="425.80" y1="92.80" x2="425.80" y2="115.10" stroke="#333" stroke-width="0.6"/>
<line x1="421.50" y1="115.10" x2="498.80" y2="115.10" stroke="#333" stroke-width="0.6"/>
<line x1="421.50" y1="103.70" x2="425.80" y2="103.70" stroke="#333" stroke-width="0.6"/>
<line x1="457.30" y1="115.10" x2="457.30" y2="116.90" stroke="#333" stroke-width="0.5"/>
<line x1="494.43" y1="115.10" x2="494.43" y2="116.90" stroke="#333" stroke-width="0.5"/>
<text x="417.30" y="106.00" font-size="6.6" text-anchor="end" fill="#111" stroke="#111" stroke-width="0.16">0.05</text>
<text x="417.30" y="117.40" font-size="6.6" text-anchor="end" fill="#111" stroke="#111" stroke-width="0.16">0</text>
<text x="428.20" y="102.80" font-size="6.6" fill="#111" stroke="#111" stroke-width="0.16">T+C.27</text>
<line x1="494.60" y1="97.40" x2="499.90" y2="97.40" stroke="#A043D2" stroke-width="0.8"/>
<polygon points="502.90,97.40 499.90,98.90 499.90,95.90" fill="#A043D2"/>
<rect x="506.00" y="92.10" width="178.20" height="25.70" fill="#fff" stroke="#A043D2" stroke-width="0.8" rx="0"/>
<text x="511.00" y="99.70" font-size="6.6" fill="#111" stroke="#111" stroke-width="0.16">Eukaryotic transcription initiation</text>
<text x="511.00" y="106.60" font-size="6.6" fill="#111" stroke="#111" stroke-width="0.16">GABA receptor signalling</text>
<text x="511.00" y="113.50" font-size="6.6" fill="#111" stroke="#111" stroke-width="0.16">Pyrimidine metabolism</text>
<path d="M434.7 142.0L434.7 141.9L435.0 141.8L435.4 141.8L435.8 141.7L436.1 141.7L436.5 141.6L436.9 141.5L437.3 141.5L437.6 141.4L438.0 141.3L438.4 141.2L438.7 141.1L439.1 141.0L439.5 140.9L439.9 140.8L440.2 140.7L440.6 140.6L441.0 140.6L441.3 140.5L441.7 140.5L442.1 140.5L442.4 140.5L442.8 140.5L443.2 140.5L443.6 140.6L443.9 140.6L444.3 140.6L444.7 140.7L445.0 140.7L445.4 140.7L445.8 140.8L446.2 140.8L446.5 140.7L446.9 140.7L447.3 140.7L447.6 140.6L448.0 140.5L448.4 140.4L448.8 140.3L449.1 140.1L449.5 140.0L449.9 139.8L450.2 139.5L450.6 139.3L451.0 139.0L451.4 138.6L451.7 138.2L452.1 137.8L452.5 137.3L452.8 136.7L453.2 136.1L453.6 135.4L454.0 134.7L454.3 133.9L454.7 133.0L455.1 132.1L455.4 131.1L455.8 130.1L456.2 129.0L456.6 128.0L456.9 126.9L457.3 125.9L457.7 124.9L458.0 124.0L458.4 123.1L458.8 122.4L459.2 121.7L459.5 121.2L459.9 120.8L460.3 120.6L460.6 120.5L461.0 120.6L461.4 120.8L461.8 121.1L462.1 121.6L462.5 122.2L462.9 123.0L463.2 123.8L463.6 124.7L464.0 125.6L464.4 126.6L464.7 127.6L465.1 128.7L465.5 129.7L465.8 130.7L466.2 131.7L466.6 132.6L467.0 133.5L467.3 134.4L467.7 135.2L468.1 136.0L468.4 136.7L468.8 137.3L469.2 137.9L469.6 138.4L469.9 138.9L470.3 139.4L470.7 139.7L471.0 140.1L471.4 140.4L471.8 140.7L472.2 140.9L472.5 141.1L472.9 141.2L473.3 141.4L473.6 141.5L474.0 141.6L474.4 141.7L474.7 141.8L475.1 141.8L475.5 141.9L475.5 142.0Z" fill="#F7941D" stroke="none" stroke-width="0.6" fill-opacity="0.42"/>
<path d="M434.7 141.9L435.0 141.8L435.4 141.8L435.8 141.7L436.1 141.7L436.5 141.6L436.9 141.5L437.3 141.5L437.6 141.4L438.0 141.3L438.4 141.2L438.7 141.1L439.1 141.0L439.5 140.9L439.9 140.8L440.2 140.7L440.6 140.6L441.0 140.6L441.3 140.5L441.7 140.5L442.1 140.5L442.4 140.5L442.8 140.5L443.2 140.5L443.6 140.6L443.9 140.6L444.3 140.6L444.7 140.7L445.0 140.7L445.4 140.7L445.8 140.8L446.2 140.8L446.5 140.7L446.9 140.7L447.3 140.7L447.6 140.6L448.0 140.5L448.4 140.4L448.8 140.3L449.1 140.1L449.5 140.0L449.9 139.8L450.2 139.5L450.6 139.3L451.0 139.0L451.4 138.6L451.7 138.2L452.1 137.8L452.5 137.3L452.8 136.7L453.2 136.1L453.6 135.4L454.0 134.7L454.3 133.9L454.7 133.0L455.1 132.1L455.4 131.1L455.8 130.1L456.2 129.0L456.6 128.0L456.9 126.9L457.3 125.9L457.7 124.9L458.0 124.0L458.4 123.1L458.8 122.4L459.2 121.7L459.5 121.2L459.9 120.8L460.3 120.6L460.6 120.5L461.0 120.6L461.4 120.8L461.8 121.1L462.1 121.6L462.5 122.2L462.9 123.0L463.2 123.8L463.6 124.7L464.0 125.6L464.4 126.6L464.7 127.6L465.1 128.7L465.5 129.7L465.8 130.7L466.2 131.7L466.6 132.6L467.0 133.5L467.3 134.4L467.7 135.2L468.1 136.0L468.4 136.7L468.8 137.3L469.2 137.9L469.6 138.4L469.9 138.9L470.3 139.4L470.7 139.7L471.0 140.1L471.4 140.4L471.8 140.7L472.2 140.9L472.5 141.1L472.9 141.2L473.3 141.4L473.6 141.5L474.0 141.6L474.4 141.7L474.7 141.8L475.1 141.8L475.5 141.9" fill="none" stroke="#F7941D" stroke-width="0.7"/>
<line x1="459.68" y1="142.00" x2="459.68" y2="121.06" stroke="#F7941D" stroke-width="0.7"/>
<line x1="425.80" y1="119.70" x2="425.80" y2="142.00" stroke="#333" stroke-width="0.6"/>
<line x1="421.50" y1="142.00" x2="498.80" y2="142.00" stroke="#333" stroke-width="0.6"/>
<line x1="421.50" y1="126.70" x2="425.80" y2="126.70" stroke="#333" stroke-width="0.6"/>
<line x1="457.30" y1="142.00" x2="457.30" y2="143.80" stroke="#333" stroke-width="0.5"/>
<line x1="494.43" y1="142.00" x2="494.43" y2="143.80" stroke="#333" stroke-width="0.5"/>
<text x="417.30" y="129.00" font-size="6.6" text-anchor="end" fill="#111" stroke="#111" stroke-width="0.16">0.1</text>
<text x="417.30" y="144.30" font-size="6.6" text-anchor="end" fill="#111" stroke="#111" stroke-width="0.16">0</text>
<text x="428.20" y="129.70" font-size="6.6" fill="#111" stroke="#111" stroke-width="0.16">T+C.28</text>
<line x1="494.60" y1="124.30" x2="499.90" y2="124.30" stroke="#F7941D" stroke-width="0.8"/>
<polygon points="502.90,124.30 499.90,125.80 499.90,122.80" fill="#F7941D"/>
<rect x="506.00" y="119.00" width="178.20" height="25.70" fill="#fff" stroke="#F7941D" stroke-width="0.8" rx="0"/>
<text x="511.00" y="126.60" font-size="6.6" fill="#111" stroke="#111" stroke-width="0.16">MAPK signalling pathway</text>
<text x="511.00" y="133.50" font-size="6.6" fill="#111" stroke="#111" stroke-width="0.16">Insulin signalling</text>
<text x="511.00" y="140.40" font-size="6.6" fill="#111" stroke="#111" stroke-width="0.16">Angiopoietin like protein 8 regulatory pathway</text>
<path d="M446.5 168.9L446.5 168.7L446.9 168.7L447.3 168.6L447.6 168.4L448.0 168.2L448.4 168.0L448.8 167.7L449.1 167.3L449.5 166.8L449.9 166.2L450.2 165.5L450.6 164.7L451.0 163.9L451.4 163.0L451.7 162.1L452.1 161.1L452.5 160.2L452.8 159.4L453.2 158.6L453.6 158.0L454.0 157.5L454.3 157.2L454.7 157.0L455.1 156.8L455.4 156.8L455.8 156.8L456.2 156.7L456.6 156.6L456.9 156.4L457.3 156.0L457.7 155.4L458.0 154.7L458.4 153.8L458.8 152.8L459.2 151.8L459.5 150.7L459.9 149.7L460.3 148.8L460.6 148.0L461.0 147.6L461.4 147.4L461.8 147.5L462.1 147.9L462.5 148.7L462.9 149.6L463.2 150.8L463.6 152.1L464.0 153.5L464.4 155.0L464.7 156.4L465.1 157.8L465.5 159.1L465.8 160.3L466.2 161.4L466.6 162.4L467.0 163.3L467.3 164.0L467.7 164.7L468.1 165.3L468.4 165.8L468.8 166.2L469.2 166.6L469.6 167.0L469.9 167.3L470.3 167.6L470.7 167.8L471.0 168.1L471.4 168.2L471.8 168.4L472.2 168.5L472.5 168.6L472.9 168.7L473.3 168.7L473.3 168.9Z" fill="#FBC57A" stroke="none" stroke-width="0.6" fill-opacity="0.42"/>
<path d="M446.5 168.7L446.9 168.7L447.3 168.6L447.6 168.4L448.0 168.2L448.4 168.0L448.8 167.7L449.1 167.3L449.5 166.8L449.9 166.2L450.2 165.5L450.6 164.7L451.0 163.9L451.4 163.0L451.7 162.1L452.1 161.1L452.5 160.2L452.8 159.4L453.2 158.6L453.6 158.0L454.0 157.5L454.3 157.2L454.7 157.0L455.1 156.8L455.4 156.8L455.8 156.8L456.2 156.7L456.6 156.6L456.9 156.4L457.3 156.0L457.7 155.4L458.0 154.7L458.4 153.8L458.8 152.8L459.2 151.8L459.5 150.7L459.9 149.7L460.3 148.8L460.6 148.0L461.0 147.6L461.4 147.4L461.8 147.5L462.1 147.9L462.5 148.7L462.9 149.6L463.2 150.8L463.6 152.1L464.0 153.5L464.4 155.0L464.7 156.4L465.1 157.8L465.5 159.1L465.8 160.3L466.2 161.4L466.6 162.4L467.0 163.3L467.3 164.0L467.7 164.7L468.1 165.3L468.4 165.8L468.8 166.2L469.2 166.6L469.6 167.0L469.9 167.3L470.3 167.6L470.7 167.8L471.0 168.1L471.4 168.2L471.8 168.4L472.2 168.5L472.5 168.6L472.9 168.7L473.3 168.7" fill="none" stroke="#FBC57A" stroke-width="0.7"/>
<line x1="457.30" y1="168.90" x2="457.30" y2="155.99" stroke="#FBC57A" stroke-width="0.7"/>
<line x1="425.80" y1="146.60" x2="425.80" y2="168.90" stroke="#333" stroke-width="0.6"/>
<line x1="421.50" y1="168.90" x2="498.80" y2="168.90" stroke="#333" stroke-width="0.6"/>
<line x1="421.50" y1="153.90" x2="425.80" y2="153.90" stroke="#333" stroke-width="0.6"/>
<line x1="457.30" y1="168.90" x2="457.30" y2="170.70" stroke="#333" stroke-width="0.5"/>
<line x1="494.43" y1="168.90" x2="494.43" y2="170.70" stroke="#333" stroke-width="0.5"/>
<text x="417.30" y="156.20" font-size="6.6" text-anchor="end" fill="#111" stroke="#111" stroke-width="0.16">0.1</text>
<text x="417.30" y="171.20" font-size="6.6" text-anchor="end" fill="#111" stroke="#111" stroke-width="0.16">0</text>
<text x="428.20" y="156.60" font-size="6.6" fill="#111" stroke="#111" stroke-width="0.16">T+C.29</text>
<line x1="494.60" y1="151.20" x2="499.90" y2="151.20" stroke="#FBC57A" stroke-width="0.8"/>
<polygon points="502.90,151.20 499.90,152.70 499.90,149.70" fill="#FBC57A"/>
<rect x="506.00" y="145.90" width="178.20" height="25.70" fill="#fff" stroke="#FBC57A" stroke-width="0.8" rx="0"/>
<text x="511.00" y="153.50" font-size="6.6" fill="#111" stroke="#111" stroke-width="0.16">Integrin-mediated cell adhesion</text>
<text x="511.00" y="160.40" font-size="6.6" fill="#111" stroke="#111" stroke-width="0.16">Focal adhesion</text>
<text x="511.00" y="167.30" font-size="6.6" fill="#111" stroke="#111" stroke-width="0.16">Hippo–Merlin signalling dysregulation</text>
<path d="M432.8 195.8L432.8 195.7L433.2 195.7L433.5 195.6L433.9 195.6L434.3 195.5L434.7 195.5L435.0 195.4L435.4 195.3L435.8 195.3L436.1 195.2L436.5 195.1L436.9 195.0L437.3 194.8L437.6 194.7L438.0 194.5L438.4 194.3L438.7 194.1L439.1 193.9L439.5 193.7L439.9 193.5L440.2 193.2L440.6 192.9L441.0 192.6L441.3 192.3L441.7 192.0L442.1 191.7L442.4 191.3L442.8 190.9L443.2 190.5L443.6 190.1L443.9 189.7L444.3 189.2L444.7 188.8L445.0 188.3L445.4 187.8L445.8 187.2L446.2 186.7L446.5 186.1L446.9 185.6L447.3 185.0L447.6 184.4L448.0 183.8L448.4 183.1L448.8 182.5L449.1 181.9L449.5 181.2L449.9 180.6L450.2 180.0L450.6 179.4L451.0 178.8L451.4 178.2L451.7 177.7L452.1 177.1L452.5 176.7L452.8 176.2L453.2 175.8L453.6 175.4L454.0 175.1L454.3 174.9L454.7 174.6L455.1 174.5L455.4 174.4L455.8 174.3L456.2 174.3L456.6 174.3L456.9 174.4L457.3 174.6L457.7 174.7L458.0 175.0L458.4 175.2L458.8 175.5L459.2 175.8L459.5 176.2L459.9 176.6L460.3 177.0L460.6 177.4L461.0 177.8L461.4 178.3L461.8 178.8L462.1 179.2L462.5 179.7L462.9 180.2L463.2 180.7L463.6 181.1L464.0 181.6L464.4 182.1L464.7 182.6L465.1 183.1L465.5 183.5L465.8 184.0L466.2 184.5L466.6 184.9L467.0 185.4L467.3 185.8L467.7 186.3L468.1 186.7L468.4 187.1L468.8 187.6L469.2 188.0L469.6 188.4L469.9 188.8L470.3 189.2L470.7 189.6L471.0 189.9L471.4 190.3L471.8 190.6L472.2 191.0L472.5 191.3L472.9 191.6L473.3 191.9L473.6 192.2L474.0 192.5L474.4 192.8L474.7 193.0L475.1 193.3L475.5 193.5L475.9 193.7L476.2 193.9L476.6 194.1L477.0 194.2L477.3 194.4L477.7 194.5L478.1 194.7L478.5 194.8L478.8 194.9L479.2 195.0L479.6 195.1L479.9 195.2L480.3 195.3L480.7 195.3L481.1 195.4L481.4 195.4L481.8 195.5L482.2 195.5L482.5 195.6L482.9 195.6L483.3 195.6L483.7 195.7L484.0 195.7L484.0 195.8Z" fill="#F51DF0" stroke="none" stroke-width="0.6" fill-opacity="0.42"/>
<path d="M432.8 195.7L433.2 195.7L433.5 195.6L433.9 195.6L434.3 195.5L434.7 195.5L435.0 195.4L435.4 195.3L435.8 195.3L436.1 195.2L436.5 195.1L436.9 195.0L437.3 194.8L437.6 194.7L438.0 194.5L438.4 194.3L438.7 194.1L439.1 193.9L439.5 193.7L439.9 193.5L440.2 193.2L440.6 192.9L441.0 192.6L441.3 192.3L441.7 192.0L442.1 191.7L442.4 191.3L442.8 190.9L443.2 190.5L443.6 190.1L443.9 189.7L444.3 189.2L444.7 188.8L445.0 188.3L445.4 187.8L445.8 187.2L446.2 186.7L446.5 186.1L446.9 185.6L447.3 185.0L447.6 184.4L448.0 183.8L448.4 183.1L448.8 182.5L449.1 181.9L449.5 181.2L449.9 180.6L450.2 180.0L450.6 179.4L451.0 178.8L451.4 178.2L451.7 177.7L452.1 177.1L452.5 176.7L452.8 176.2L453.2 175.8L453.6 175.4L454.0 175.1L454.3 174.9L454.7 174.6L455.1 174.5L455.4 174.4L455.8 174.3L456.2 174.3L456.6 174.3L456.9 174.4L457.3 174.6L457.7 174.7L458.0 175.0L458.4 175.2L458.8 175.5L459.2 175.8L459.5 176.2L459.9 176.6L460.3 177.0L460.6 177.4L461.0 177.8L461.4 178.3L461.8 178.8L462.1 179.2L462.5 179.7L462.9 180.2L463.2 180.7L463.6 181.1L464.0 181.6L464.4 182.1L464.7 182.6L465.1 183.1L465.5 183.5L465.8 184.0L466.2 184.5L466.6 184.9L467.0 185.4L467.3 185.8L467.7 186.3L468.1 186.7L468.4 187.1L468.8 187.6L469.2 188.0L469.6 188.4L469.9 188.8L470.3 189.2L470.7 189.6L471.0 189.9L471.4 190.3L471.8 190.6L472.2 191.0L472.5 191.3L472.9 191.6L473.3 191.9L473.6 192.2L474.0 192.5L474.4 192.8L474.7 193.0L475.1 193.3L475.5 193.5L475.9 193.7L476.2 193.9L476.6 194.1L477.0 194.2L477.3 194.4L477.7 194.5L478.1 194.7L478.5 194.8L478.8 194.9L479.2 195.0L479.6 195.1L479.9 195.2L480.3 195.3L480.7 195.3L481.1 195.4L481.4 195.4L481.8 195.5L482.2 195.5L482.5 195.6L482.9 195.6L483.3 195.6L483.7 195.7L484.0 195.7" fill="none" stroke="#F51DF0" stroke-width="0.7"/>
<line x1="456.85" y1="195.80" x2="456.85" y2="174.41" stroke="#F51DF0" stroke-width="0.7"/>
<line x1="425.80" y1="173.50" x2="425.80" y2="195.80" stroke="#333" stroke-width="0.6"/>
<line x1="421.50" y1="195.80" x2="498.80" y2="195.80" stroke="#333" stroke-width="0.6"/>
<line x1="421.50" y1="181.30" x2="425.80" y2="181.30" stroke="#333" stroke-width="0.6"/>
<line x1="457.30" y1="195.80" x2="457.30" y2="197.60" stroke="#333" stroke-width="0.5"/>
<line x1="494.43" y1="195.80" x2="494.43" y2="197.60" stroke="#333" stroke-width="0.5"/>
<text x="417.30" y="183.60" font-size="6.6" text-anchor="end" fill="#111" stroke="#111" stroke-width="0.16">0.05</text>
<text x="417.30" y="198.10" font-size="6.6" text-anchor="end" fill="#111" stroke="#111" stroke-width="0.16">0</text>
<text x="428.20" y="183.50" font-size="6.6" fill="#111" stroke="#111" stroke-width="0.16">T+C.30</text>
<line x1="494.60" y1="178.10" x2="499.90" y2="178.10" stroke="#F51DF0" stroke-width="0.8"/>
<polygon points="502.90,178.10 499.90,179.60 499.90,176.60" fill="#F51DF0"/>
<rect x="506.00" y="172.80" width="178.20" height="25.70" fill="#fff" stroke="#F51DF0" stroke-width="0.8" rx="0"/>
<text x="511.00" y="180.40" font-size="6.6" fill="#111" stroke="#111" stroke-width="0.16">DNA replication</text>
<text x="511.00" y="187.30" font-size="6.6" fill="#111" stroke="#111" stroke-width="0.16">G1 to S cell cycle control</text>
<text x="511.00" y="194.20" font-size="6.6" fill="#111" stroke="#111" stroke-width="0.16">SREBP</text>
<path d="M446.2 222.7L446.2 222.6L446.5 222.5L446.9 222.5L447.3 222.5L447.6 222.4L448.0 222.4L448.4 222.3L448.8 222.3L449.1 222.2L449.5 222.2L449.9 222.1L450.2 222.1L450.6 222.0L451.0 221.9L451.4 221.6L451.7 221.1L452.1 220.3L452.5 218.9L452.8 216.9L453.2 214.1L453.6 210.8L454.0 207.3L454.3 204.1L454.7 202.0L455.1 201.2L455.4 202.0L455.8 204.3L456.2 207.5L456.6 211.1L456.9 214.5L457.3 217.3L457.7 219.4L458.0 220.9L458.4 221.7L458.8 222.2L459.2 222.5L459.2 222.7Z" fill="#4DA6F0" stroke="none" stroke-width="0.6" fill-opacity="0.42"/>
<path d="M446.2 222.6L446.5 222.5L446.9 222.5L447.3 222.5L447.6 222.4L448.0 222.4L448.4 222.3L448.8 222.3L449.1 222.2L449.5 222.2L449.9 222.1L450.2 222.1L450.6 222.0L451.0 221.9L451.4 221.6L451.7 221.1L452.1 220.3L452.5 218.9L452.8 216.9L453.2 214.1L453.6 210.8L454.0 207.3L454.3 204.1L454.7 202.0L455.1 201.2L455.4 202.0L455.8 204.3L456.2 207.5L456.6 211.1L456.9 214.5L457.3 217.3L457.7 219.4L458.0 220.9L458.4 221.7L458.8 222.2L459.2 222.5" fill="none" stroke="#4DA6F0" stroke-width="0.7"/>
<line x1="455.07" y1="222.70" x2="455.07" y2="201.20" stroke="#4DA6F0" stroke-width="0.7"/>
<line x1="425.80" y1="200.40" x2="425.80" y2="222.70" stroke="#333" stroke-width="0.6"/>
<line x1="421.50" y1="222.70" x2="498.80" y2="222.70" stroke="#333" stroke-width="0.6"/>
<line x1="421.50" y1="207.50" x2="425.80" y2="207.50" stroke="#333" stroke-width="0.6"/>
<line x1="457.30" y1="222.70" x2="457.30" y2="224.50" stroke="#333" stroke-width="0.5"/>
<line x1="494.43" y1="222.70" x2="494.43" y2="224.50" stroke="#333" stroke-width="0.5"/>
<text x="417.30" y="209.80" font-size="6.6" text-anchor="end" fill="#111" stroke="#111" stroke-width="0.16">0.25</text>
<text x="417.30" y="225.00" font-size="6.6" text-anchor="end" fill="#111" stroke="#111" stroke-width="0.16">0</text>
<text x="428.20" y="210.40" font-size="6.6" fill="#111" stroke="#111" stroke-width="0.16">T+C.31</text>
<line x1="494.60" y1="205.00" x2="499.90" y2="205.00" stroke="#4DA6F0" stroke-width="0.8"/>
<polygon points="502.90,205.00 499.90,206.50 499.90,203.50" fill="#4DA6F0"/>
<rect x="506.00" y="199.70" width="178.20" height="12.70" fill="#fff" stroke="#4DA6F0" stroke-width="0.8" rx="0"/>
<text x="511.00" y="207.30" font-size="6.6" fill="#111" stroke="#111" stroke-width="0.16">Cytoplasmic ribosomal proteins</text>
<path d="M437.6 249.6L437.6 249.5L438.0 249.4L438.4 249.4L438.7 249.4L439.1 249.3L439.5 249.3L439.9 249.2L440.2 249.1L440.6 249.0L441.0 248.9L441.3 248.8L441.7 248.7L442.1 248.5L442.4 248.4L442.8 248.2L443.2 248.0L443.6 247.7L443.9 247.5L444.3 247.2L444.7 246.9L445.0 246.5L445.4 246.2L445.8 245.8L446.2 245.4L446.5 245.0L446.9 244.5L447.3 244.1L447.6 243.6L448.0 243.1L448.4 242.6L448.8 242.0L449.1 241.5L449.5 241.0L449.9 240.5L450.2 239.9L450.6 239.4L451.0 238.9L451.4 238.4L451.7 237.9L452.1 237.4L452.5 236.9L452.8 236.5L453.2 236.0L453.6 235.6L454.0 235.2L454.3 234.8L454.7 234.4L455.1 234.0L455.4 233.6L455.8 233.2L456.2 232.8L456.6 232.5L456.9 232.1L457.3 231.8L457.7 231.4L458.0 231.1L458.4 230.8L458.8 230.5L459.2 230.2L459.5 229.8L459.9 229.5L460.3 229.1L460.6 228.8L461.0 228.5L461.4 228.2L461.8 228.1L462.1 228.1L462.5 228.3L462.9 228.7L463.2 229.3L463.6 230.0L464.0 230.7L464.4 231.5L464.7 232.3L465.1 233.0L465.5 233.7L465.8 234.4L466.2 235.1L466.6 235.7L467.0 236.3L467.3 236.9L467.7 237.5L468.1 238.0L468.4 238.5L468.8 239.0L469.2 239.5L469.6 239.9L469.9 240.3L470.3 240.7L470.7 241.0L471.0 241.3L471.4 241.6L471.8 241.9L472.2 242.1L472.5 242.3L472.9 242.5L473.3 242.7L473.6 242.8L474.0 243.0L474.4 243.1L474.7 243.2L475.1 243.4L475.5 243.5L475.9 243.6L476.2 243.7L476.6 243.8L477.0 243.9L477.3 244.1L477.7 244.2L478.1 244.3L478.5 244.4L478.8 244.5L479.2 244.6L479.6 244.8L479.9 244.9L480.3 245.0L480.7 245.1L481.1 245.2L481.4 245.4L481.8 245.5L482.2 245.6L482.5 245.7L482.9 245.9L483.3 246.0L483.7 246.1L484.0 246.2L484.4 246.4L484.8 246.5L485.1 246.6L485.5 246.8L485.9 246.9L486.3 247.0L486.6 247.1L487.0 247.3L487.4 247.4L487.7 247.5L488.1 247.6L488.5 247.8L488.9 247.9L489.2 248.0L489.6 248.1L490.0 248.2L490.3 248.3L490.7 248.4L491.1 248.5L491.5 248.6L491.8 248.7L492.2 248.8L492.6 248.8L492.9 248.9L493.3 249.0L493.7 249.0L494.1 249.1L494.4 249.2L494.8 249.2L495.2 249.3L495.5 249.3L495.9 249.3L496.3 249.4L496.7 249.4L497.0 249.4L497.4 249.4L497.8 249.5L497.8 249.6Z" fill="#2F7D34" stroke="none" stroke-width="0.6" fill-opacity="0.42"/>
<path d="M437.6 249.5L438.0 249.4L438.4 249.4L438.7 249.4L439.1 249.3L439.5 249.3L439.9 249.2L440.2 249.1L440.6 249.0L441.0 248.9L441.3 248.8L441.7 248.7L442.1 248.5L442.4 248.4L442.8 248.2L443.2 248.0L443.6 247.7L443.9 247.5L444.3 247.2L444.7 246.9L445.0 246.5L445.4 246.2L445.8 245.8L446.2 245.4L446.5 245.0L446.9 244.5L447.3 244.1L447.6 243.6L448.0 243.1L448.4 242.6L448.8 242.0L449.1 241.5L449.5 241.0L449.9 240.5L450.2 239.9L450.6 239.4L451.0 238.9L451.4 238.4L451.7 237.9L452.1 237.4L452.5 236.9L452.8 236.5L453.2 236.0L453.6 235.6L454.0 235.2L454.3 234.8L454.7 234.4L455.1 234.0L455.4 233.6L455.8 233.2L456.2 232.8L456.6 232.5L456.9 232.1L457.3 231.8L457.7 231.4L458.0 231.1L458.4 230.8L458.8 230.5L459.2 230.2L459.5 229.8L459.9 229.5L460.3 229.1L460.6 228.8L461.0 228.5L461.4 228.2L461.8 228.1L462.1 228.1L462.5 228.3L462.9 228.7L463.2 229.3L463.6 230.0L464.0 230.7L464.4 231.5L464.7 232.3L465.1 233.0L465.5 233.7L465.8 234.4L466.2 235.1L466.6 235.7L467.0 236.3L467.3 236.9L467.7 237.5L468.1 238.0L468.4 238.5L468.8 239.0L469.2 239.5L469.6 239.9L469.9 240.3L470.3 240.7L470.7 241.0L471.0 241.3L471.4 241.6L471.8 241.9L472.2 242.1L472.5 242.3L472.9 242.5L473.3 242.7L473.6 242.8L474.0 243.0L474.4 243.1L474.7 243.2L475.1 243.4L475.5 243.5L475.9 243.6L476.2 243.7L476.6 243.8L477.0 243.9L477.3 244.1L477.7 244.2L478.1 244.3L478.5 244.4L478.8 244.5L479.2 244.6L479.6 244.8L479.9 244.9L480.3 245.0L480.7 245.1L481.1 245.2L481.4 245.4L481.8 245.5L482.2 245.6L482.5 245.7L482.9 245.9L483.3 246.0L483.7 246.1L484.0 246.2L484.4 246.4L484.8 246.5L485.1 246.6L485.5 246.8L485.9 246.9L486.3 247.0L486.6 247.1L487.0 247.3L487.4 247.4L487.7 247.5L488.1 247.6L488.5 247.8L488.9 247.9L489.2 248.0L489.6 248.1L490.0 248.2L490.3 248.3L490.7 248.4L491.1 248.5L491.5 248.6L491.8 248.7L492.2 248.8L492.6 248.8L492.9 248.9L493.3 249.0L493.7 249.0L494.1 249.1L494.4 249.2L494.8 249.2L495.2 249.3L495.5 249.3L495.9 249.3L496.3 249.4L496.7 249.4L497.0 249.4L497.4 249.4L497.8 249.5" fill="none" stroke="#2F7D34" stroke-width="0.7"/>
<line x1="462.20" y1="249.60" x2="462.20" y2="228.17" stroke="#2F7D34" stroke-width="0.7"/>
<line x1="425.80" y1="227.30" x2="425.80" y2="249.60" stroke="#333" stroke-width="0.6"/>
<line x1="421.50" y1="249.60" x2="498.80" y2="249.60" stroke="#333" stroke-width="0.6"/>
<line x1="421.50" y1="235.70" x2="425.80" y2="235.70" stroke="#333" stroke-width="0.6"/>
<line x1="457.30" y1="249.60" x2="457.30" y2="251.40" stroke="#333" stroke-width="0.5"/>
<line x1="494.43" y1="249.60" x2="494.43" y2="251.40" stroke="#333" stroke-width="0.5"/>
<text x="417.30" y="238.00" font-size="6.6" text-anchor="end" fill="#111" stroke="#111" stroke-width="0.16">0.05</text>
<text x="417.30" y="251.90" font-size="6.6" text-anchor="end" fill="#111" stroke="#111" stroke-width="0.16">0</text>
<text x="428.20" y="237.30" font-size="6.6" fill="#111" stroke="#111" stroke-width="0.16">T+C.32</text>
<line x1="494.60" y1="231.90" x2="499.90" y2="231.90" stroke="#2F7D34" stroke-width="0.8"/>
<polygon points="502.90,231.90 499.90,233.40 499.90,230.40" fill="#2F7D34"/>
<rect x="506.00" y="226.60" width="178.20" height="25.70" fill="#fff" stroke="#2F7D34" stroke-width="0.8" rx="0"/>
<text x="511.00" y="234.20" font-size="6.6" fill="#111" stroke="#111" stroke-width="0.16">GPCRs, class A rhodopsin-like</text>
<text x="511.00" y="241.10" font-size="6.6" fill="#111" stroke="#111" stroke-width="0.16">Circadian-rhythm-related genes</text>
<text x="511.00" y="248.00" font-size="6.6" fill="#111" stroke="#111" stroke-width="0.16">Peptide GPCRs</text>
<path d="M441.7 276.5L441.7 276.3L442.1 276.3L442.4 276.2L442.8 276.1L443.2 276.0L443.6 275.9L443.9 275.8L444.3 275.6L444.7 275.5L445.0 275.3L445.4 275.2L445.8 275.0L446.2 274.9L446.5 274.8L446.9 274.7L447.3 274.6L447.6 274.6L448.0 274.6L448.4 274.7L448.8 274.8L449.1 274.9L449.5 275.0L449.9 275.2L450.2 275.3L450.6 275.5L451.0 275.6L451.4 275.8L451.7 275.9L452.1 276.0L452.5 276.1L452.8 276.2L453.2 276.3L453.6 276.3L454.0 276.3L454.3 276.3L454.7 276.1L455.1 276.0L455.4 275.6L455.8 275.2L456.2 274.5L456.6 273.5L456.9 272.3L457.3 270.7L457.7 268.8L458.0 266.7L458.4 264.4L458.8 262.1L459.2 259.9L459.5 258.0L459.9 256.5L460.3 255.5L460.6 255.0L461.0 255.0L461.4 255.4L461.8 256.2L462.1 257.1L462.5 258.2L462.9 259.4L463.2 260.6L463.6 261.9L464.0 263.3L464.4 264.7L464.7 266.2L465.1 267.7L465.5 269.2L465.8 270.6L466.2 271.9L466.6 273.0L467.0 274.0L467.3 274.7L467.7 275.3L468.1 275.7L468.4 276.0L468.8 276.2L469.2 276.3L469.2 276.5Z" fill="#F7941D" stroke="none" stroke-width="0.6" fill-opacity="0.42"/>
<path d="M441.7 276.3L442.1 276.3L442.4 276.2L442.8 276.1L443.2 276.0L443.6 275.9L443.9 275.8L444.3 275.6L444.7 275.5L445.0 275.3L445.4 275.2L445.8 275.0L446.2 274.9L446.5 274.8L446.9 274.7L447.3 274.6L447.6 274.6L448.0 274.6L448.4 274.7L448.8 274.8L449.1 274.9L449.5 275.0L449.9 275.2L450.2 275.3L450.6 275.5L451.0 275.6L451.4 275.8L451.7 275.9L452.1 276.0L452.5 276.1L452.8 276.2L453.2 276.3L453.6 276.3L454.0 276.3L454.3 276.3L454.7 276.1L455.1 276.0L455.4 275.6L455.8 275.2L456.2 274.5L456.6 273.5L456.9 272.3L457.3 270.7L457.7 268.8L458.0 266.7L458.4 264.4L458.8 262.1L459.2 259.9L459.5 258.0L459.9 256.5L460.3 255.5L460.6 255.0L461.0 255.0L461.4 255.4L461.8 256.2L462.1 257.1L462.5 258.2L462.9 259.4L463.2 260.6L463.6 261.9L464.0 263.3L464.4 264.7L464.7 266.2L465.1 267.7L465.5 269.2L465.8 270.6L466.2 271.9L466.6 273.0L467.0 274.0L467.3 274.7L467.7 275.3L468.1 275.7L468.4 276.0L468.8 276.2L469.2 276.3" fill="none" stroke="#F7941D" stroke-width="0.7"/>
<line x1="460.27" y1="276.50" x2="460.27" y2="255.48" stroke="#F7941D" stroke-width="0.7"/>
<line x1="425.80" y1="254.20" x2="425.80" y2="276.50" stroke="#333" stroke-width="0.6"/>
<line x1="421.50" y1="276.50" x2="498.80" y2="276.50" stroke="#333" stroke-width="0.6"/>
<line x1="421.50" y1="256.70" x2="425.80" y2="256.70" stroke="#333" stroke-width="0.6"/>
<line x1="457.30" y1="276.50" x2="457.30" y2="278.30" stroke="#333" stroke-width="0.5"/>
<line x1="494.43" y1="276.50" x2="494.43" y2="278.30" stroke="#333" stroke-width="0.5"/>
<text x="417.30" y="259.00" font-size="6.6" text-anchor="end" fill="#111" stroke="#111" stroke-width="0.16">0.2</text>
<text x="417.30" y="278.80" font-size="6.6" text-anchor="end" fill="#111" stroke="#111" stroke-width="0.16">0</text>
<text x="428.20" y="264.20" font-size="6.6" fill="#111" stroke="#111" stroke-width="0.16">T+C.33</text>
<line x1="494.60" y1="258.80" x2="499.90" y2="258.80" stroke="#F7941D" stroke-width="0.8"/>
<polygon points="502.90,258.80 499.90,260.30 499.90,257.30" fill="#F7941D"/>
<rect x="506.00" y="253.50" width="178.20" height="25.70" fill="#fff" stroke="#F7941D" stroke-width="0.8" rx="0"/>
<text x="511.00" y="261.10" font-size="6.6" fill="#111" stroke="#111" stroke-width="0.16">MET in type 1 papillary renal cell carcinoma</text>
<text x="511.00" y="268.00" font-size="6.6" fill="#111" stroke="#111" stroke-width="0.16">ERBB signalling pathway</text>
<text x="511.00" y="274.90" font-size="6.6" fill="#111" stroke="#111" stroke-width="0.16">Chemokine signalling pathway</text>
<text x="457.30" y="288.30" font-size="6.6" text-anchor="middle" fill="#111" stroke="#111" stroke-width="0.16">0</text>
<text x="494.43" y="288.30" font-size="6.6" text-anchor="middle" fill="#111" stroke="#111" stroke-width="0.16">25</text>
<text x="462.00" y="299.00" font-size="6.6" text-anchor="middle" fill="#111" stroke="#111" stroke-width="0.16">−log<tspan font-size="4.6" dy="1.5">10</tspan><tspan dy="-1.5" font-size="0.1"> </tspan>[<tspan font-style="italic">P</tspan>] × sign(log<tspan font-size="4.6" dy="1.5">2</tspan><tspan dy="-1.5" font-size="0.1"> </tspan>[FC])</text>
<text x="399.40" y="149.00" font-size="6.6" text-anchor="middle" fill="#111" stroke="#111" stroke-width="0.16" transform="rotate(-90 399.40 149.00)">Density</text>
<text x="0.10" y="321.80" font-size="10.8" font-weight="bold" fill="#000" stroke="#000" stroke-width="0.5">f</text>
<text x="33.70" y="332.80" font-size="6.6" fill="#111" stroke="#111" stroke-width="0.16">Mitochondria-associated genes (MitoCarta)</text>
<line x1="33.50" y1="340.30" x2="33.50" y2="443.00" stroke="#333" stroke-width="0.75"/>
<line x1="29.60" y1="442.50" x2="33.50" y2="442.50" stroke="#333" stroke-width="0.75"/>
<text x="27.00" y="444.80" font-size="6.6" text-anchor="end" fill="#111" stroke="#111" stroke-width="0.16">0</text>
<line x1="29.60" y1="424.04" x2="33.50" y2="424.04" stroke="#333" stroke-width="0.75"/>
<text x="27.00" y="426.34" font-size="6.6" text-anchor="end" fill="#111" stroke="#111" stroke-width="0.16">2</text>
<line x1="29.60" y1="405.58" x2="33.50" y2="405.58" stroke="#333" stroke-width="0.75"/>
<text x="27.00" y="407.88" font-size="6.6" text-anchor="end" fill="#111" stroke="#111" stroke-width="0.16">4</text>
<line x1="29.60" y1="387.12" x2="33.50" y2="387.12" stroke="#333" stroke-width="0.75"/>
<text x="27.00" y="389.42" font-size="6.6" text-anchor="end" fill="#111" stroke="#111" stroke-width="0.16">6</text>
<line x1="29.60" y1="368.66" x2="33.50" y2="368.66" stroke="#333" stroke-width="0.75"/>
<text x="27.00" y="370.96" font-size="6.6" text-anchor="end" fill="#111" stroke="#111" stroke-width="0.16">8</text>
<line x1="29.60" y1="350.20" x2="33.50" y2="350.20" stroke="#333" stroke-width="0.75"/>
<text x="27.00" y="352.50" font-size="6.6" text-anchor="end" fill="#111" stroke="#111" stroke-width="0.16">10</text>
<line x1="33.20" y1="447.30" x2="168.50" y2="447.30" stroke="#333" stroke-width="0.75"/>
<line x1="33.40" y1="447.30" x2="33.40" y2="451.00" stroke="#333" stroke-width="0.75"/>
<text x="33.40" y="460.30" font-size="6.6" text-anchor="middle" fill="#111" stroke="#111" stroke-width="0.16">−3</text>
<line x1="55.80" y1="447.30" x2="55.80" y2="451.00" stroke="#333" stroke-width="0.75"/>
<text x="55.80" y="460.30" font-size="6.6" text-anchor="middle" fill="#111" stroke="#111" stroke-width="0.16">−2</text>
<line x1="78.20" y1="447.30" x2="78.20" y2="451.00" stroke="#333" stroke-width="0.75"/>
<text x="78.20" y="460.30" font-size="6.6" text-anchor="middle" fill="#111" stroke="#111" stroke-width="0.16">−1</text>
<line x1="100.60" y1="447.30" x2="100.60" y2="451.00" stroke="#333" stroke-width="0.75"/>
<text x="100.60" y="460.30" font-size="6.6" text-anchor="middle" fill="#111" stroke="#111" stroke-width="0.16">0</text>
<line x1="123.00" y1="447.30" x2="123.00" y2="451.00" stroke="#333" stroke-width="0.75"/>
<text x="123.00" y="460.30" font-size="6.6" text-anchor="middle" fill="#111" stroke="#111" stroke-width="0.16">1</text>
<line x1="145.40" y1="447.30" x2="145.40" y2="451.00" stroke="#333" stroke-width="0.75"/>
<text x="145.40" y="460.30" font-size="6.6" text-anchor="middle" fill="#111" stroke="#111" stroke-width="0.16">2</text>
<line x1="167.80" y1="447.30" x2="167.80" y2="451.00" stroke="#333" stroke-width="0.75"/>
<text x="167.80" y="460.30" font-size="6.6" text-anchor="middle" fill="#111" stroke="#111" stroke-width="0.16">3</text>
<text x="100.60" y="471.20" font-size="6.6" text-anchor="middle" fill="#111" stroke="#111" stroke-width="0.16">log<tspan font-size="4.6" dy="1.5">2</tspan><tspan dy="-1.5" font-size="0.1"> </tspan>[FC]</text>
<text x="12.70" y="396.00" font-size="6.6" text-anchor="middle" fill="#111" stroke="#111" stroke-width="0.16" transform="rotate(-90 12.70 396.00)">−log<tspan font-size="4.6" dy="1.5">10</tspan><tspan dy="-1.5" font-size="0.1"> </tspan>[<tspan font-style="italic">P</tspan><tspan font-size="4.6" dy="1.5">adj</tspan><tspan dy="-1.5" font-size="0.1"> </tspan>] × sign(log<tspan font-size="4.6" dy="1.5">2</tspan><tspan dy="-1.5" font-size="0.1"> </tspan>[FC])</text>
<path d="M93.6 420.2h0M94.2 418.9h0M82.1 410.4h0M89.2 405.9h0M84.9 398.2h0M87.7 408.0h0M87.0 406.0h0M95.5 427.3h0M83.2 419.3h0M88.9 418.5h0M90.9 416.4h0M96.4 430.5h0M85.6 407.6h0M83.0 420.7h0M94.2 425.4h0M83.5 413.2h0M96.5 425.1h0M95.2 416.8h0M86.5 397.5h0M92.4 422.5h0M87.5 415.7h0M84.5 406.8h0M93.0 424.1h0M90.9 416.3h0M90.9 419.0h0M88.4 425.0h0M94.2 416.9h0M88.9 407.2h0M90.0 418.2h0M93.9 426.3h0M94.3 428.0h0M88.2 424.7h0M94.4 420.5h0M90.5 413.8h0M91.1 422.0h0M89.0 410.4h0M93.7 422.9h0M89.2 409.2h0M87.7 409.8h0M95.6 427.6h0M90.1 419.8h0M96.6 430.1h0M90.2 429.7h0M91.8 407.5h0M96.8 427.4h0M97.7 425.7h0M84.0 401.5h0M87.1 413.9h0M94.2 424.9h0M99.0 428.8h0M87.6 407.2h0M87.3 422.8h0M85.7 403.8h0M100.5 430.7h0M99.2 432.4h0M98.8 430.2h0M90.5 418.7h0M74.7 401.7h0M87.6 420.0h0M95.1 424.4h0M88.6 409.4h0M84.4 402.4h0M95.1 424.4h0M87.4 403.1h0M88.1 421.4h0M85.3 413.8h0M91.7 415.5h0M90.7 420.1h0M92.6 420.0h0M91.1 421.1h0M87.6 424.9h0M84.2 403.3h0M88.7 403.8h0M82.8 410.3h0M98.6 424.1h0M97.7 431.1h0M89.3 407.5h0M87.6 408.6h0M92.3 415.9h0M93.1 420.2h0M88.1 402.6h0M84.8 410.1h0M89.3 414.2h0M92.2 419.4h0M94.6 422.0h0M89.8 420.7h0M91.4 419.7h0M96.0 428.6h0M96.1 429.0h0M91.9 418.4h0M85.7 418.1h0M92.1 423.2h0M91.8 422.9h0M85.4 396.0h0M95.4 422.4h0M96.1 427.7h0M93.5 427.9h0M100.0 430.6h0M89.4 414.9h0M86.2 416.3h0M88.2 414.4h0M85.9 406.7h0M87.0 404.3h0M93.9 420.7h0M93.5 425.9h0M85.1 420.5h0M87.0 405.4h0M93.1 414.4h0M87.7 415.5h0" stroke="#F9A51E" stroke-width="0.95" stroke-linecap="round" fill="none"/>
<path d="M117.3 423.5h0M112.9 404.9h0M117.6 400.4h0M116.5 421.3h0M107.2 427.3h0M117.9 400.7h0M105.8 431.0h0M105.5 429.1h0M110.8 416.0h0M115.6 422.1h0M107.9 421.0h0M106.1 430.5h0M114.9 413.9h0M111.3 416.0h0M107.0 426.0h0M110.6 431.0h0M108.4 417.1h0M104.1 431.6h0M110.8 427.1h0M103.4 434.4h0M104.6 428.9h0M106.0 421.8h0M112.2 415.7h0M110.3 413.1h0M109.4 421.9h0M108.7 431.7h0M108.4 417.9h0M105.3 431.6h0M103.7 429.0h0M118.1 405.7h0M109.7 430.8h0M116.4 426.7h0M110.6 428.9h0M108.4 423.0h0M120.9 423.4h0M119.0 417.4h0M104.4 427.4h0M109.6 425.7h0M120.3 413.0h0M104.1 425.3h0M107.7 424.3h0M115.6 411.8h0M107.2 421.5h0M121.4 403.9h0M114.9 420.3h0M104.7 430.5h0M104.0 431.9h0M114.5 420.3h0M106.2 430.8h0M114.1 413.8h0M108.7 428.9h0M115.5 409.1h0M106.3 421.8h0M108.2 421.8h0M125.8 411.4h0M107.5 429.1h0M111.8 418.4h0M106.9 427.2h0M115.7 405.6h0M107.4 426.9h0M110.7 416.6h0M122.8 419.1h0M103.7 434.1h0M108.1 432.8h0M104.1 434.2h0M109.2 421.8h0M117.0 406.1h0M108.4 420.8h0M109.0 424.4h0M115.2 420.3h0M110.3 417.8h0M111.6 413.2h0M111.1 416.6h0M112.8 427.5h0M104.1 431.5h0M114.4 416.4h0M107.1 429.8h0M106.4 426.2h0M113.9 409.2h0M119.3 407.5h0M106.2 424.8h0M118.2 409.1h0M113.4 429.2h0M112.4 405.5h0M114.1 413.3h0M108.8 417.9h0M106.8 423.6h0M111.4 427.8h0M105.7 426.5h0M104.5 430.9h0M107.1 426.9h0M115.6 427.0h0M117.4 407.7h0M118.2 435.0h0M104.8 427.1h0M112.7 417.8h0M103.4 433.4h0M109.6 421.0h0M110.9 418.6h0M115.4 421.1h0M104.0 430.5h0M110.9 419.1h0M103.9 425.0h0M115.0 419.0h0M108.0 417.4h0M106.7 422.5h0" stroke="#7F0F86" stroke-width="0.95" stroke-linecap="round" fill="none"/>
<path d="M103.3 440.0h0M100.3 430.6h0M102.7 430.7h0M105.1 437.2h0M104.7 436.3h0M102.1 439.1h0M99.1 434.1h0M97.7 439.9h0M97.0 438.1h0M99.1 440.5h0M99.2 440.0h0M97.6 440.5h0M94.0 439.0h0M107.1 435.4h0M95.7 431.9h0M98.5 432.3h0M110.6 431.4h0M103.4 441.1h0M97.7 431.2h0M105.6 435.6h0M102.1 441.4h0M109.8 432.0h0M94.9 438.4h0M105.7 433.2h0M98.7 440.4h0M92.6 432.3h0M92.2 436.9h0M97.8 436.4h0M101.2 439.3h0M100.2 438.5h0M100.1 437.3h0M106.4 434.6h0M111.8 436.3h0M97.7 433.7h0M103.0 436.8h0M87.8 433.1h0M97.7 439.2h0M98.5 440.8h0M102.9 432.5h0M99.5 439.4h0M106.2 434.5h0M108.7 435.4h0M108.6 435.0h0M104.6 438.7h0M93.2 437.5h0M98.4 436.5h0M96.8 433.3h0M98.3 439.7h0M96.8 432.7h0M105.8 438.1h0M100.7 441.2h0M97.9 438.1h0M98.0 441.1h0M93.5 430.7h0M98.7 431.9h0M101.5 432.2h0M102.8 439.1h0M97.7 441.0h0M109.4 432.1h0M97.5 438.6h0M107.2 436.6h0M105.1 435.6h0M103.7 433.2h0M104.7 439.2h0M101.3 441.7h0M100.5 436.5h0M106.3 437.6h0M94.4 436.8h0M102.1 441.5h0M93.9 435.8h0M100.9 434.1h0M98.5 439.4h0M101.4 439.2h0M98.6 436.5h0M91.2 434.5h0M102.4 440.8h0M102.5 441.3h0M107.2 436.9h0M100.4 435.4h0M95.1 438.5h0M92.9 434.4h0M94.1 436.8h0M101.2 437.4h0M91.0 436.8h0M104.9 433.4h0M107.5 431.8h0M98.1 438.4h0M105.2 438.8h0M101.9 440.6h0M96.8 439.8h0M104.6 438.8h0M99.0 433.1h0M104.9 433.0h0M101.3 436.1h0M98.1 433.5h0M91.5 433.2h0M92.2 435.6h0M98.5 438.5h0M96.5 431.8h0M103.8 438.5h0M95.7 432.5h0M101.2 432.1h0M99.8 436.9h0M100.3 439.8h0M96.2 430.7h0M100.3 434.8h0M106.7 434.5h0M101.7 439.6h0M105.6 439.8h0M102.0 439.8h0M106.2 435.1h0M104.0 436.4h0M104.8 436.8h0M98.4 438.6h0M98.6 439.7h0M95.1 437.6h0" stroke="#c9c9c9" stroke-width="0.95" stroke-linecap="round" fill="none"/>
<line x1="76.00" y1="385.80" x2="88.10" y2="390.90" stroke="#777" stroke-width="0.45"/>
<line x1="95.80" y1="388.70" x2="90.30" y2="393.40" stroke="#777" stroke-width="0.45"/>
<line x1="79.30" y1="367.00" x2="74.00" y2="369.00" stroke="#777" stroke-width="0.45"/>
<line x1="84.00" y1="371.20" x2="79.30" y2="371.50" stroke="#777" stroke-width="0.45"/>
<line x1="113.00" y1="384.50" x2="114.90" y2="388.30" stroke="#777" stroke-width="0.45"/>
<line x1="122.50" y1="388.80" x2="115.50" y2="393.80" stroke="#777" stroke-width="0.45"/>
<line x1="137.50" y1="395.80" x2="125.70" y2="395.60" stroke="#777" stroke-width="0.45"/>
<line x1="132.80" y1="402.20" x2="115.30" y2="398.20" stroke="#777" stroke-width="0.45"/>
<line x1="127.90" y1="409.20" x2="111.60" y2="400.00" stroke="#777" stroke-width="0.45"/>
<circle cx="73.30" cy="345.30" r="1.5" fill="#F9A51E" stroke="none" stroke-width="0.4"/>
<circle cx="83.00" cy="357.00" r="1.5" fill="#F9A51E" stroke="none" stroke-width="0.4"/>
<circle cx="72.00" cy="368.90" r="1.5" fill="#F9A51E" stroke="none" stroke-width="0.4"/>
<circle cx="74.90" cy="370.20" r="1.5" fill="#F9A51E" stroke="none" stroke-width="0.4"/>
<circle cx="79.30" cy="371.50" r="1.5" fill="#F9A51E" stroke="none" stroke-width="0.4"/>
<circle cx="61.70" cy="378.80" r="1.5" fill="#F9A51E" stroke="none" stroke-width="0.4"/>
<circle cx="73.80" cy="393.80" r="1.5" fill="#F9A51E" stroke="none" stroke-width="0.4"/>
<circle cx="88.10" cy="390.90" r="1.5" fill="#F9A51E" stroke="none" stroke-width="0.4"/>
<circle cx="90.30" cy="393.80" r="1.5" fill="#F9A51E" stroke="none" stroke-width="0.4"/>
<circle cx="122.40" cy="365.20" r="1.6" fill="#7F0F86" stroke="none" stroke-width="0.4"/>
<circle cx="130.50" cy="372.90" r="1.6" fill="#7F0F86" stroke="none" stroke-width="0.4"/>
<circle cx="132.50" cy="379.90" r="1.6" fill="#7F0F86" stroke="none" stroke-width="0.4"/>
<circle cx="162.70" cy="386.50" r="1.6" fill="#7F0F86" stroke="none" stroke-width="0.4"/>
<circle cx="114.90" cy="388.30" r="1.6" fill="#7F0F86" stroke="none" stroke-width="0.4"/>
<circle cx="114.70" cy="394.40" r="1.6" fill="#7F0F86" stroke="none" stroke-width="0.4"/>
<circle cx="125.70" cy="395.60" r="1.6" fill="#7F0F86" stroke="none" stroke-width="0.4"/>
<circle cx="115.30" cy="398.20" r="1.6" fill="#7F0F86" stroke="none" stroke-width="0.4"/>
<circle cx="111.60" cy="400.00" r="1.6" fill="#7F0F86" stroke="none" stroke-width="0.4"/>
<text x="49.60" y="342.60" font-size="6.7" font-style="italic" fill="#F9A51E" stroke="#F9A51E" stroke-width="0.16">UQCRFS1</text>
<text x="80.00" y="354.80" font-size="6.7" font-weight="bold" font-style="italic" fill="#F9A51E" stroke="#F9A51E" stroke-width="0.3">CASP3</text>
<text x="68.90" y="364.90" font-size="6.7" font-style="italic" fill="#F9A51E" stroke="#F9A51E" stroke-width="0.16">COX7A2</text>
<text x="44.70" y="373.70" font-size="6.7" font-style="italic" fill="#F9A51E" stroke="#F9A51E" stroke-width="0.16">MTPAP</text>
<text x="83.30" y="372.00" font-size="6.7" font-style="italic" fill="#F9A51E" stroke="#F9A51E" stroke-width="0.16">ACOT9</text>
<text x="63.20" y="380.10" font-size="6.7" font-style="italic" fill="#F9A51E" stroke="#F9A51E" stroke-width="0.16">C5orf63</text>
<text x="42.50" y="389.20" font-size="6.7" font-weight="bold" font-style="italic" fill="#F9A51E" stroke="#F9A51E" stroke-width="0.3">MTHFD2L</text>
<text x="81.00" y="387.80" font-size="6.7" font-style="italic" fill="#F9A51E" stroke="#F9A51E" stroke-width="0.16">COMT</text>
<text x="75.60" y="398.40" font-size="6.7" font-weight="bold" font-style="italic" fill="#F9A51E" stroke="#F9A51E" stroke-width="0.3">BID</text>
<text x="48.00" y="400.60" font-size="6.7" font-style="italic" fill="#F9A51E" stroke="#F9A51E" stroke-width="0.16">APOOL</text>
<text x="158.30" y="348.80" font-size="6.7" font-weight="bold" font-style="italic" fill="#7F0F86" stroke="#7F0F86" stroke-width="0.3">CAT</text>
<text x="121.90" y="362.50" font-size="6.7" font-weight="bold" font-style="italic" fill="#7F0F86" stroke="#7F0F86" stroke-width="0.3">DNAJC15</text>
<text x="128.50" y="369.80" font-size="6.7" font-style="italic" fill="#7F0F86" stroke="#7F0F86" stroke-width="0.16">PNPO</text>
<text x="134.70" y="376.80" font-size="6.7" font-style="italic" fill="#7F0F86" stroke="#7F0F86" stroke-width="0.16">TSTD1</text>
<text x="157.20" y="384.50" font-size="6.7" font-style="italic" fill="#7F0F86" stroke="#7F0F86" stroke-width="0.16">KMO</text>
<text x="107.20" y="383.60" font-size="6.7" font-style="italic" fill="#7F0F86" stroke="#7F0F86" stroke-width="0.16">GATM</text>
<text x="122.40" y="390.20" font-size="6.7" font-style="italic" fill="#7F0F86" stroke="#7F0F86" stroke-width="0.16">PDK3</text>
<text x="138.00" y="398.40" font-size="6.7" font-style="italic" fill="#7F0F86" stroke="#7F0F86" stroke-width="0.16">FHIT</text>
<text x="133.60" y="405.40" font-size="6.7" font-style="italic" fill="#7F0F86" stroke="#7F0F86" stroke-width="0.16">DCAKD</text>
<text x="129.20" y="412.70" font-size="6.7" font-style="italic" fill="#7F0F86" stroke="#7F0F86" stroke-width="0.16">HSD17B4</text>
<text x="43.00" y="431.90" font-size="6.6" fill="#111" stroke="#111" stroke-width="0.16">Down with</text>
<text x="43.00" y="439.60" font-size="6.6" fill="#111" stroke="#111" stroke-width="0.16">CDP-Choline</text>
<line x1="81.50" y1="442.30" x2="38.60" y2="442.30" stroke="#1a1a1a" stroke-width="0.9"/>
<polygon points="35.00,442.30 38.60,440.60 38.60,444.00" fill="#1a1a1a"/>
<text x="162.70" y="431.90" font-size="6.6" text-anchor="end" fill="#111" stroke="#111" stroke-width="0.16">Up with</text>
<text x="162.70" y="439.60" font-size="6.6" text-anchor="end" fill="#111" stroke="#111" stroke-width="0.16">CDP-Choline</text>
<line x1="124.80" y1="442.30" x2="162.70" y2="442.30" stroke="#1a1a1a" stroke-width="0.9"/>
<polygon points="166.30,442.30 162.70,444.00 162.70,440.60" fill="#1a1a1a"/>
<text x="203.40" y="321.80" font-size="10.8" font-weight="bold" fill="#000" stroke="#000" stroke-width="0.5">g</text>
<line x1="248.60" y1="347.60" x2="248.60" y2="429.50" stroke="#333" stroke-width="0.75"/>
<line x1="248.30" y1="429.20" x2="331.80" y2="429.20" stroke="#333" stroke-width="0.75"/>
<line x1="244.30" y1="350.30" x2="248.60" y2="350.30" stroke="#333" stroke-width="0.75"/>
<text x="240.20" y="352.60" font-size="6.6" text-anchor="end" fill="#111" stroke="#111" stroke-width="0.16">0.3</text>
<line x1="244.30" y1="376.60" x2="248.60" y2="376.60" stroke="#333" stroke-width="0.75"/>
<text x="240.20" y="378.90" font-size="6.6" text-anchor="end" fill="#111" stroke="#111" stroke-width="0.16">0.2</text>
<line x1="244.30" y1="402.90" x2="248.60" y2="402.90" stroke="#333" stroke-width="0.75"/>
<text x="240.20" y="405.20" font-size="6.6" text-anchor="end" fill="#111" stroke="#111" stroke-width="0.16">0.1</text>
<line x1="244.30" y1="429.20" x2="248.60" y2="429.20" stroke="#333" stroke-width="0.75"/>
<text x="240.20" y="431.50" font-size="6.6" text-anchor="end" fill="#111" stroke="#111" stroke-width="0.16">0</text>
<text x="215.50" y="388.20" font-size="6.6" text-anchor="middle" fill="#111" stroke="#111" stroke-width="0.16" transform="rotate(-90 215.50 388.20)">Uncoupled mitochondrial</text>
<text x="223.50" y="388.20" font-size="6.6" text-anchor="middle" fill="#111" stroke="#111" stroke-width="0.16" transform="rotate(-90 223.50 388.20)">OCR (%)</text>
<text x="290.70" y="338.70" font-size="6.6" text-anchor="middle" fill="#111" stroke="#111" stroke-width="0.16"><tspan font-style="italic">P</tspan> = 0.002</text>
<path d="M268.40 345.20V343.00H310.60V345.20" fill="none" stroke="#8a8a8a" stroke-width="0.75"/>
<line x1="268.95" y1="387.50" x2="268.95" y2="389.10" stroke="#5a5a5a" stroke-width="0.8"/>
<line x1="268.95" y1="392.50" x2="268.95" y2="394.30" stroke="#5a5a5a" stroke-width="0.8"/>
<line x1="264.50" y1="387.50" x2="273.60" y2="387.50" stroke="#5a5a5a" stroke-width="0.8"/>
<line x1="264.50" y1="394.30" x2="273.60" y2="394.30" stroke="#5a5a5a" stroke-width="0.8"/>
<rect x="260.40" y="389.10" width="17.10" height="3.40" fill="#F1CB89" stroke="#5a5a5a" stroke-width="0.7" rx="0"/>
<line x1="260.40" y1="391.60" x2="277.50" y2="391.60" stroke="#5a5a5a" stroke-width="0.8"/>
<circle cx="282.30" cy="388.00" r="1.02" fill="#000" stroke="none" stroke-width="0.4"/>
<circle cx="281.60" cy="390.20" r="1.02" fill="#000" stroke="none" stroke-width="0.4"/>
<circle cx="282.80" cy="389.10" r="1.02" fill="#000" stroke="none" stroke-width="0.4"/>
<circle cx="287.30" cy="391.60" r="1.02" fill="#000" stroke="none" stroke-width="0.4"/>
<circle cx="281.60" cy="392.70" r="1.02" fill="#000" stroke="none" stroke-width="0.4"/>
<circle cx="282.10" cy="394.30" r="1.02" fill="#000" stroke="none" stroke-width="0.4"/>
<line x1="310.45" y1="366.30" x2="310.45" y2="370.00" stroke="#5a5a5a" stroke-width="0.8"/>
<line x1="310.45" y1="381.30" x2="310.45" y2="393.40" stroke="#5a5a5a" stroke-width="0.8"/>
<line x1="306.20" y1="366.30" x2="314.70" y2="366.30" stroke="#5a5a5a" stroke-width="0.8"/>
<line x1="306.20" y1="393.40" x2="314.70" y2="393.40" stroke="#5a5a5a" stroke-width="0.8"/>
<rect x="302.10" y="370.00" width="16.70" height="11.30" fill="#BA86BA" stroke="#5a5a5a" stroke-width="0.7" rx="0"/>
<line x1="302.10" y1="375.40" x2="318.80" y2="375.40" stroke="#5a5a5a" stroke-width="0.8"/>
<circle cx="323.30" cy="366.30" r="1.02" fill="#000" stroke="none" stroke-width="0.4"/>
<circle cx="330.60" cy="367.00" r="1.02" fill="#000" stroke="none" stroke-width="0.4"/>
<circle cx="330.60" cy="370.90" r="1.02" fill="#000" stroke="none" stroke-width="0.4"/>
<circle cx="323.30" cy="372.70" r="1.02" fill="#000" stroke="none" stroke-width="0.4"/>
<circle cx="329.90" cy="377.20" r="1.02" fill="#000" stroke="none" stroke-width="0.4"/>
<circle cx="327.70" cy="380.70" r="1.02" fill="#000" stroke="none" stroke-width="0.4"/>
<circle cx="327.90" cy="384.50" r="1.02" fill="#000" stroke="none" stroke-width="0.4"/>
<circle cx="329.90" cy="393.40" r="1.02" fill="#000" stroke="none" stroke-width="0.4"/>
<line x1="276.40" y1="418.30" x2="270.60" y2="403.36" stroke="#F9C770" stroke-width="1.0"/>
<polygon points="269.30,400.00 272.19,402.74 269.02,403.97" fill="#F9C770"/>
<text x="269.10" y="423.50" font-size="6.6" fill="#111" stroke="#111" stroke-width="0.16"><tspan font-style="italic">μ</tspan> = 0.14</text>
<line x1="314.00" y1="410.30" x2="311.52" y2="403.39" stroke="#BE72C6" stroke-width="1.0"/>
<polygon points="310.30,400.00 313.12,402.81 309.92,403.96" fill="#BE72C6"/>
<text x="303.30" y="415.70" font-size="6.6" fill="#111" stroke="#111" stroke-width="0.16"><tspan font-style="italic">μ</tspan> = 0.2</text>
<rect x="251.30" y="432.40" width="32.60" height="14.40" fill="#FACD86" stroke="none" stroke-width="0.6" rx="1.4"/>
<text x="267.60" y="438.40" font-size="6.6" text-anchor="middle" fill="#111" stroke="#111" stroke-width="0.16">p.Tyr622*</text>
<text x="267.60" y="445.80" font-size="6.6" text-anchor="middle" fill="#111" stroke="#111" stroke-width="0.16">+ H<tspan font-size="4.6" dy="1.5">2</tspan><tspan dy="-1.5" font-size="0.1"> </tspan>O</text>
<rect x="285.70" y="432.40" width="49.50" height="14.40" fill="#BF81C4" stroke="none" stroke-width="0.6" rx="1.4"/>
<text x="310.45" y="438.40" font-size="6.6" text-anchor="middle" fill="#111" stroke="#111" stroke-width="0.16">p.Tyr622*</text>
<text x="310.45" y="445.80" font-size="6.6" text-anchor="middle" fill="#111" stroke="#111" stroke-width="0.16">+ CDP-choline</text>
<text x="386.70" y="321.20" font-size="10.8" font-weight="bold" fill="#000" stroke="#000" stroke-width="0.5">h</text>
<line x1="425.20" y1="334.30" x2="425.20" y2="449.50" stroke="#a2a2a2" stroke-width="1.0"/>
<line x1="424.70" y1="449.10" x2="482.40" y2="449.10" stroke="#a2a2a2" stroke-width="1.0"/>
<line x1="420.80" y1="334.85" x2="425.20" y2="334.85" stroke="#333" stroke-width="0.75"/>
<text x="416.80" y="337.15" font-size="6.6" text-anchor="end" fill="#111" stroke="#111" stroke-width="0.16">0.25</text>
<line x1="420.80" y1="357.70" x2="425.20" y2="357.70" stroke="#333" stroke-width="0.75"/>
<text x="416.80" y="360.00" font-size="6.6" text-anchor="end" fill="#111" stroke="#111" stroke-width="0.16">0.20</text>
<line x1="420.80" y1="380.55" x2="425.20" y2="380.55" stroke="#333" stroke-width="0.75"/>
<text x="416.80" y="382.85" font-size="6.6" text-anchor="end" fill="#111" stroke="#111" stroke-width="0.16">0.15</text>
<line x1="420.80" y1="403.40" x2="425.20" y2="403.40" stroke="#333" stroke-width="0.75"/>
<text x="416.80" y="405.70" font-size="6.6" text-anchor="end" fill="#111" stroke="#111" stroke-width="0.16">0.10</text>
<line x1="420.80" y1="426.25" x2="425.20" y2="426.25" stroke="#333" stroke-width="0.75"/>
<text x="416.80" y="428.55" font-size="6.6" text-anchor="end" fill="#111" stroke="#111" stroke-width="0.16">0.05</text>
<line x1="420.80" y1="449.10" x2="425.20" y2="449.10" stroke="#333" stroke-width="0.75"/>
<text x="416.80" y="451.40" font-size="6.6" text-anchor="end" fill="#111" stroke="#111" stroke-width="0.16">0</text>
<text x="396.00" y="392.00" font-size="6.6" text-anchor="middle" fill="#111" stroke="#111" stroke-width="0.16" transform="rotate(-90 396.00 392.00)">TMRM intensity (Δ<tspan font-style="italic">ψ</tspan><tspan font-size="4.6" dy="1.5">m</tspan><tspan dy="-1.5" font-size="0.1"> </tspan>)</text>
<text x="453.30" y="327.80" font-size="6.6" text-anchor="middle" fill="#111" stroke="#111" stroke-width="0.16"><tspan font-style="italic">P</tspan> = 0.002</text>
<path d="M439.00 333.20V331.00H468.10V333.20" fill="none" stroke="#8a8a8a" stroke-width="0.75"/>
<line x1="439.50" y1="338.20" x2="439.50" y2="349.10" stroke="#7d7d7d" stroke-width="0.8"/>
<line x1="439.50" y1="366.80" x2="439.50" y2="374.30" stroke="#7d7d7d" stroke-width="0.8"/>
<line x1="435.60" y1="338.20" x2="443.40" y2="338.20" stroke="#7d7d7d" stroke-width="0.8"/>
<line x1="435.60" y1="374.30" x2="443.40" y2="374.30" stroke="#7d7d7d" stroke-width="0.8"/>
<rect x="432.20" y="349.10" width="14.60" height="17.70" fill="#F1CB89" stroke="#7d7d7d" stroke-width="0.7" rx="0"/>
<line x1="432.20" y1="364.20" x2="446.80" y2="364.20" stroke="#7d7d7d" stroke-width="0.8"/>
<circle cx="448.10" cy="338.20" r="1.02" fill="#000" stroke="none" stroke-width="0.4"/>
<circle cx="449.90" cy="339.50" r="1.02" fill="#000" stroke="none" stroke-width="0.4"/>
<circle cx="453.80" cy="352.50" r="1.02" fill="#000" stroke="none" stroke-width="0.4"/>
<circle cx="453.00" cy="364.20" r="1.02" fill="#000" stroke="none" stroke-width="0.4"/>
<circle cx="451.70" cy="366.00" r="1.02" fill="#000" stroke="none" stroke-width="0.4"/>
<circle cx="453.30" cy="367.30" r="1.02" fill="#000" stroke="none" stroke-width="0.4"/>
<circle cx="449.90" cy="374.30" r="1.02" fill="#000" stroke="none" stroke-width="0.4"/>
<line x1="467.95" y1="365.50" x2="467.95" y2="378.50" stroke="#7d7d7d" stroke-width="0.8"/>
<line x1="467.95" y1="387.60" x2="467.95" y2="397.20" stroke="#7d7d7d" stroke-width="0.8"/>
<line x1="464.20" y1="365.50" x2="472.00" y2="365.50" stroke="#7d7d7d" stroke-width="0.8"/>
<line x1="464.20" y1="397.20" x2="472.00" y2="397.20" stroke="#7d7d7d" stroke-width="0.8"/>
<rect x="460.80" y="378.50" width="14.30" height="9.10" fill="#BA86BA" stroke="#7d7d7d" stroke-width="0.7" rx="0"/>
<line x1="460.80" y1="382.90" x2="475.10" y2="382.90" stroke="#7d7d7d" stroke-width="0.8"/>
<circle cx="481.10" cy="362.10" r="1.02" fill="#000" stroke="none" stroke-width="0.4"/>
<circle cx="481.80" cy="366.00" r="1.02" fill="#000" stroke="none" stroke-width="0.4"/>
<circle cx="478.50" cy="379.00" r="1.02" fill="#000" stroke="none" stroke-width="0.4"/>
<circle cx="477.20" cy="382.10" r="1.02" fill="#000" stroke="none" stroke-width="0.4"/>
<circle cx="478.50" cy="384.20" r="1.02" fill="#000" stroke="none" stroke-width="0.4"/>
<circle cx="477.20" cy="388.60" r="1.02" fill="#000" stroke="none" stroke-width="0.4"/>
<circle cx="481.80" cy="387.60" r="1.02" fill="#000" stroke="none" stroke-width="0.4"/>
<circle cx="479.80" cy="397.20" r="1.02" fill="#000" stroke="none" stroke-width="0.4"/>
<rect x="427.80" y="453.50" width="33.80" height="15.60" fill="#FACD86" stroke="none" stroke-width="0.6" rx="1.4"/>
<text x="444.70" y="460.00" font-size="6.6" text-anchor="middle" fill="#111" stroke="#111" stroke-width="0.16">p.Tyr622*</text>
<text x="444.70" y="467.60" font-size="6.6" text-anchor="middle" fill="#111" stroke="#111" stroke-width="0.16">+ H<tspan font-size="4.6" dy="1.5">2</tspan><tspan dy="-1.5" font-size="0.1"> </tspan>O</text>
<rect x="463.40" y="453.50" width="49.60" height="15.60" fill="#BF81C4" stroke="none" stroke-width="0.6" rx="1.4"/>
<text x="488.20" y="460.00" font-size="6.6" text-anchor="middle" fill="#111" stroke="#111" stroke-width="0.16">p.Tyr622*</text>
<text x="488.20" y="467.60" font-size="6.6" text-anchor="middle" fill="#111" stroke="#111" stroke-width="0.16">+ CDP-choline</text>
<text x="557.20" y="320.20" font-size="6.6" text-anchor="middle" fill="#111" stroke="#111" stroke-width="0.16"><tspan font-style="italic">ABCA7</tspan> p.Tyr622*</text>
<line x1="501.50" y1="323.60" x2="611.50" y2="323.60" stroke="#9a9a9a" stroke-width="0.9"/>
<text x="526.90" y="332.20" font-size="6.6" text-anchor="middle" fill="#111" stroke="#111" stroke-width="0.16">+H<tspan font-size="4.6" dy="1.5">2</tspan><tspan dy="-1.5" font-size="0.1"> </tspan>O</text>
<text x="585.90" y="332.20" font-size="6.6" text-anchor="middle" fill="#111" stroke="#111" stroke-width="0.16">+CDP-choline</text>
<text x="494.50" y="362.30" font-size="6.6" text-anchor="middle" fill="#111" stroke="#111" stroke-width="0.16" transform="rotate(-90 494.50 362.30)">TMRM dye (Δ<tspan font-style="italic">ψ</tspan><tspan font-size="4.6" dy="1.5">m</tspan><tspan dy="-1.5" font-size="0.1"> </tspan>)</text>
<text x="494.50" y="421.00" font-size="6.6" text-anchor="middle" fill="#111" stroke="#111" stroke-width="0.16" transform="rotate(-90 494.50 421.00)">Mask</text>
<clipPath id="clh1"><rect x="499.2" y="335.4" width="55.8" height="55.6"/></clipPath>
<g clip-path="url(#clh1)">
<rect x="499.2" y="335.4" width="55.8" height="55.6" filter="url(#cmh1)"/>
<rect x="499.2" y="335.4" width="55.8" height="55.6" filter="url(#tlh1)"/>
<rect x="499.2" y="335.4" width="55.8" height="55.6" filter="url(#nzh1)"/>
</g>
<clipPath id="clh2"><rect x="558.3" y="335.4" width="55.6" height="55.6"/></clipPath>
<g clip-path="url(#clh2)">
<rect x="558.3" y="335.4" width="55.6" height="55.6" filter="url(#cmh2)"/>
<rect x="558.3" y="335.4" width="55.6" height="55.6" filter="url(#tlh2)"/>
<rect x="558.3" y="335.4" width="55.6" height="55.6" filter="url(#nzh2)"/>
</g>
<rect x="543.00" y="388.00" width="10.40" height="1.90" fill="#fff" stroke="none" stroke-width="0.6" rx="0"/>
<clipPath id="clh3"><rect x="499.2" y="392.9" width="55.8" height="55.6"/></clipPath>
<g clip-path="url(#clh3)">
<rect x="499.20" y="392.90" width="55.80" height="55.60" fill="#fff" stroke="none" stroke-width="0.6" rx="0"/>
<path d="M541.7 424.6l-7.5 9.7M532.5 447.3l3.1 12.4M552.5 428.9l21.8 15.6M554.6 400.6l-24.6 12.2M507.7 399.1l-18.3 2.7M521.0 427.7l1.9 9.8M510.0 416.5l-18.4 17.1M520.4 399.5l-11.4 9.2M538.2 418.0l-3.2 19.3M506.5 398.2l-7.3 15.3M495.1 399.6l-26.9 6.8M529.5 412.2l-13.9 9.0M532.7 388.6l-15.2 30.8M537.3 392.6l-5.1 17.2M550.1 389.0l12.4 0.5M514.8 441.4l-5.4 26.0M496.9 398.5l9.4 23.9M539.9 422.7l9.3 11.1M519.8 403.4l-23.6 22.1M543.1 395.2l-8.1 6.4M502.4 430.4l16.3 26.0M536.1 426.7l-10.2 31.2M544.8 389.7l-20.8 1.0M512.2 440.6l-28.4 7.4M538.0 388.5l19.6 23.1M554.9 404.9l-9.4 8.8M539.7 409.5l14.0 3.5M528.7 416.5l-10.4 15.6M530.5 410.7l-7.6 6.8M530.0 423.5l28.6 5.3M532.8 445.5l17.2 11.4M546.8 445.1l-10.3 15.7M539.4 415.4l-2.9 26.8M550.7 388.4l-19.3 26.6M517.0 402.3l-2.3 10.5M543.1 417.5l-14.5 25.7M495.4 399.4l6.5 24.4M516.5 404.8l20.6 1.6M551.3 389.7l-4.7 14.4M553.3 436.8l26.7 21.5M513.1 429.7l11.8 12.7M498.1 405.7l3.0 10.3M494.9 388.5l-18.9 7.5M549.9 417.0l-3.6 19.0M541.6 408.7l-16.3 11.2M501.9 413.2l19.6 1.8M517.7 430.8l-13.9 0.1M531.2 438.6l-8.6 13.3M519.7 444.4l-1.7 26.8M513.0 435.9l-5.8 29.1M511.2 402.0l21.0 13.4M499.0 408.8l-8.4 14.7M510.0 402.1l2.4 28.8M510.2 420.1l-22.5 0.7M510.6 438.7l-27.4 8.4" stroke="#444" stroke-width="0.3" stroke-opacity="0.8" fill="none"/>
<rect x="499.2" y="392.9" width="55.8" height="55.6" filter="url(#mlh3)"/>
<rect x="499.2" y="392.9" width="55.8" height="55.6" filter="url(#mbh3)"/>
<rect x="499.2" y="392.9" width="55.8" height="55.6" filter="url(#mfh3)"/>
<path d="M506.8 400.2L507.4 397.8L503.2 397.4L507.7 396.8L505.2 393.2L508.2 396.0L510.3 394.3L509.0 396.8L513.4 399.1L508.9 397.7L508.6 399.7L508.1 397.7ZM545.6 403.1L542.9 403.4L543.7 407.4L541.9 404.0L540.3 406.4L540.9 403.7L537.4 403.9L541.0 402.6L538.6 399.3L541.5 401.5L543.7 399.1L543.0 402.0L544.8 401.1L543.1 402.7ZM501.6 408.0L501.3 410.1L503.8 412.1L501.0 411.0L502.3 414.2L500.6 411.1L497.9 412.5L500.1 410.5L499.5 408.7L500.8 409.6ZM514.3 409.1L514.6 411.8L516.0 411.1L514.9 412.4L517.0 415.6L514.3 413.0L513.1 416.4L513.4 413.2L510.0 413.3L513.3 412.2L510.9 411.0L513.7 411.8ZM526.8 414.8L530.2 418.8L533.4 414.4L531.0 419.7L533.8 418.3L531.2 420.1L533.6 422.0L531.2 421.3L530.8 425.9L530.2 420.8L527.4 423.1L529.6 420.4L525.2 418.3L529.5 419.2ZM510.8 422.5L512.3 425.0L514.6 421.0L513.1 425.3L515.4 426.6L512.9 426.5L512.6 429.3L511.8 426.9L510.9 430.7L511.7 426.4L509.6 425.8L511.6 425.5ZM512.8 426.8L514.2 428.9L515.0 426.1L515.0 428.7L518.5 429.7L515.2 430.2L518.2 430.8L515.1 430.5L514.9 432.8L514.0 430.6L511.2 432.0L513.3 429.9L509.4 426.8L513.7 429.1ZM528.0 430.9L529.6 433.1L533.2 430.0L530.3 434.1L533.6 434.8L530.5 435.1L532.5 435.8L530.1 435.3L529.3 438.4L528.9 435.5L525.7 438.5L528.2 435.0L524.4 432.6L529.0 433.9ZM551.2 433.8L547.7 434.9L552.1 437.2L547.3 435.4L546.6 437.7L546.1 435.5L541.2 436.8L545.7 434.4L542.3 432.6L546.3 433.9L545.2 430.1L547.0 433.4ZM507.6 438.4L503.5 440.4L504.9 443.2L502.8 441.2L500.5 443.1L501.6 440.7L497.2 440.7L502.0 439.9L500.6 436.8L502.6 439.2L504.9 437.9L503.6 440.0ZM516.9 437.5L516.6 441.4L521.3 441.4L516.8 442.4L520.2 442.8L516.9 442.7L517.3 447.2L515.9 443.1L512.9 444.0L515.2 442.2L513.0 441.6L515.5 441.8L513.9 439.9L515.7 441.1ZM551.8 442.5L550.3 443.4L551.5 445.4L549.7 443.8L548.3 445.2L548.8 443.5L547.2 442.6L549.2 442.6L548.6 438.9L549.8 442.7ZM540.6 443.8L538.6 445.1L542.1 447.1L538.5 445.7L538.1 447.2L537.7 445.7L536.6 448.1L537.6 445.4L535.3 443.4L537.7 444.4L536.6 442.6L538.1 444.3ZM523.4 404.6L524.1 406.0L526.1 404.4L524.5 406.6L526.3 409.3L523.8 407.3L521.3 409.7L523.1 406.9L519.9 405.8L523.3 406.2ZM549.8 418.0L548.6 417.0L547.4 418.0L547.9 416.5L544.7 416.0L548.1 415.8L548.6 413.8L548.9 415.9L551.7 416.4L549.0 416.6ZM537.1 421.7L538.7 421.7L539.7 419.1L539.5 421.7L541.8 421.9L539.5 422.4L540.3 425.5L538.9 422.5L537.6 424.5L538.6 422.3ZM500.1 423.5L501.8 422.0L499.6 421.5L502.2 421.6L503.2 420.0L503.0 421.8L506.2 422.3L503.0 422.3L503.9 424.4L502.6 422.5ZM519.7 399.9L519.4 397.8L516.9 398.0L519.4 396.9L517.6 394.1L519.9 396.3L521.8 395.9L520.6 397.2L521.5 397.9L520.2 397.6Z" fill="#000"/>
</g>
<rect x="499.20" y="392.90" width="55.80" height="55.60" fill="none" stroke="#b0b0b0" stroke-width="0.7" rx="0"/>
<clipPath id="clh4"><rect x="558.3" y="392.9" width="55.6" height="55.6"/></clipPath>
<g clip-path="url(#clh4)">
<rect x="558.30" y="392.90" width="55.60" height="55.60" fill="#fff" stroke="none" stroke-width="0.6" rx="0"/>
<path d="M580.2 422.4l-15.7 4.7M589.0 409.7l-17.0 16.3M565.5 419.2l8.1 7.7M560.1 408.7l29.3 1.4M602.0 389.1l-1.7 20.7M577.6 392.3l-17.1 3.3M609.8 412.4l12.9 10.0M568.3 436.7l-26.0 15.4M569.4 405.8l-3.3 27.6M596.1 439.0l-16.9 15.4M595.3 434.2l28.3 19.6M585.9 426.4l-14.2 23.8M558.6 392.5l7.8 10.8M598.6 416.5l16.9 10.9M565.2 433.2l9.6 29.8M596.3 416.0l-8.1 34.0M596.9 413.7l10.1 29.6M591.4 430.0l18.5 10.2M554.3 420.4l26.2 1.7M562.1 392.4l17.8 10.1M582.9 403.1l-9.5 23.3M566.3 411.1l-21.9 4.7M602.7 429.3l-14.8 28.5M555.9 421.3l-22.5 7.7M554.3 444.8l-13.3 14.2M564.3 389.2l-30.1 6.7M561.0 397.7l-8.2 10.7M587.9 409.9l-6.3 25.3M571.5 406.1l28.2 18.9M580.0 391.8l0.5 26.3M607.3 407.6l-21.0 16.6M609.6 408.2l8.3 6.1M586.7 424.0l10.5 30.5M568.0 436.9l-20.2 5.7M555.8 422.8l-15.5 30.0M606.2 415.3l-7.9 12.9M593.0 435.4l-1.5 18.4M555.6 414.7l17.1 27.7M565.2 389.1l12.6 17.4M569.5 432.2l7.6 12.5M565.0 437.3l23.7 9.4M583.8 405.9l-23.1 13.5M603.6 407.0l-16.0 16.5M597.5 434.6l10.9 22.6M605.0 393.9l-16.4 4.6M598.9 399.0l-23.8 1.4M556.3 412.1l-11.3 24.7M573.7 445.5l3.8 14.1M602.2 444.6l-10.1 12.2M571.9 432.9l17.0 1.8M583.4 397.6l-27.4 13.1M597.7 408.0l-27.1 11.8M583.5 400.1l23.9 4.8M557.2 422.6l29.2 1.9M606.5 439.2l-24.0 12.3" stroke="#444" stroke-width="0.3" stroke-opacity="0.8" fill="none"/>
<rect x="558.3" y="392.9" width="55.6" height="55.6" filter="url(#mlh4)"/>
<rect x="558.3" y="392.9" width="55.6" height="55.6" filter="url(#mbh4)"/>
<rect x="558.3" y="392.9" width="55.6" height="55.6" filter="url(#mfh4)"/>
<path d="M572.8 397.2L571.7 402.6L576.5 403.7L572.2 404.4L574.7 406.0L571.5 404.8L572.2 409.6L570.6 405.0L569.8 409.0L569.8 405.3L566.3 406.9L569.1 404.2L567.4 402.1L570.0 402.9L569.9 398.9L571.0 402.6ZM588.7 398.7L587.2 397.8L584.7 399.9L586.2 397.4L583.8 396.6L586.4 396.6L585.1 394.7L586.9 396.3L590.1 394.9L587.7 397.1L591.5 395.9L587.7 397.3ZM579.7 408.7L581.2 407.5L580.6 406.1L582.1 407.0L583.1 405.1L582.9 407.1L586.3 407.1L583.2 408.0L583.9 409.9L582.3 408.4L579.8 409.3L581.6 407.7ZM587.4 415.3L584.3 419.7L589.5 421.5L584.1 420.8L585.7 423.5L583.5 421.4L581.3 424.6L582.5 420.7L576.8 419.5L582.0 419.4L580.0 416.6L582.9 419.0L583.6 413.6L583.7 419.2ZM572.8 422.2L569.3 422.3L570.6 425.6L568.8 423.0L568.0 425.8L568.4 422.5L564.9 421.2L568.2 421.4L566.9 420.3L568.6 421.3L571.1 418.0L569.7 421.5ZM573.6 439.5L567.8 436.6L571.7 440.3L567.4 436.7L563.5 441.4L566.0 436.2L561.8 436.3L565.9 435.2L561.5 434.6L566.1 435.0L565.8 427.9L567.3 433.9L570.4 431.8L567.9 435.0L572.3 433.9L567.9 435.6ZM612.6 428.6L609.0 427.2L610.1 430.9L608.1 426.9L607.8 430.0L607.6 426.8L601.5 427.2L607.3 425.6L604.6 420.7L608.0 424.8L611.2 420.9L609.2 425.2L613.2 423.0L609.4 425.8ZM585.2 442.5L586.6 437.8L581.6 436.7L586.1 436.7L585.6 434.9L587.0 436.2L590.7 434.5L587.9 437.3L591.5 437.4L587.9 437.9L589.5 441.0L587.1 438.1ZM565.3 414.0L561.7 414.7L562.0 416.3L561.0 415.2L559.3 416.8L560.6 414.5L557.5 413.2L560.7 413.7L561.4 412.2L561.7 413.8ZM610.8 402.3L609.8 399.6L606.8 399.8L609.6 398.8L609.0 396.6L610.2 398.4L611.7 395.2L610.8 398.6L612.8 399.5L610.6 399.6ZM605.9 408.8L603.0 410.6L605.1 413.6L602.4 411.0L600.2 411.8L601.6 410.4L599.5 410.2L602.1 410.2L603.7 407.7L603.0 410.2ZM597.4 440.9L597.2 442.6L598.7 442.2L597.4 443.2L601.2 444.0L597.1 443.5L596.5 445.6L596.2 443.9L594.8 446.6L596.1 443.5L594.8 441.8L596.3 442.2ZM610.4 439.6L610.5 442.7L612.4 442.6L610.7 443.4L610.8 445.6L609.8 443.7L606.5 445.0L609.1 443.0L607.9 442.1L609.7 442.5ZM573.8 444.4L577.1 444.6L576.5 442.8L577.6 444.5L580.0 442.7L578.1 445.0L579.9 447.6L577.6 445.7L576.2 448.7L577.0 445.4ZM565.1 397.8L562.7 397.8L563.2 398.8L562.1 397.7L559.2 399.0L561.5 397.1L560.2 394.9L562.1 396.5L564.9 395.1L563.0 397.1ZM596.6 419.6L595.2 421.9L598.0 422.3L595.3 422.5L594.7 423.9L594.4 422.6L592.2 424.5L594.0 422.2L592.5 420.2L594.5 421.2Z" fill="#000"/>
</g>
<rect x="558.30" y="392.90" width="55.60" height="55.60" fill="none" stroke="#b0b0b0" stroke-width="0.7" rx="0"/>
<rect x="618.60" y="344.50" width="4.20" height="94.80" fill="url(#gspec)" stroke="#333" stroke-width="0.3" rx="0"/>
<line x1="622.80" y1="344.50" x2="625.30" y2="344.50" stroke="#333" stroke-width="0.75"/>
<text x="629.80" y="346.80" font-size="6.6" fill="#111" stroke="#111" stroke-width="0.16">1.0</text>
<line x1="622.80" y1="363.46" x2="625.30" y2="363.46" stroke="#333" stroke-width="0.75"/>
<text x="629.80" y="365.76" font-size="6.6" fill="#111" stroke="#111" stroke-width="0.16">0.8</text>
<line x1="622.80" y1="382.42" x2="625.30" y2="382.42" stroke="#333" stroke-width="0.75"/>
<text x="629.80" y="384.72" font-size="6.6" fill="#111" stroke="#111" stroke-width="0.16">0.6</text>
<line x1="622.80" y1="401.38" x2="625.30" y2="401.38" stroke="#333" stroke-width="0.75"/>
<text x="629.80" y="403.68" font-size="6.6" fill="#111" stroke="#111" stroke-width="0.16">0.4</text>
<line x1="622.80" y1="420.34" x2="625.30" y2="420.34" stroke="#333" stroke-width="0.75"/>
<text x="629.80" y="422.64" font-size="6.6" fill="#111" stroke="#111" stroke-width="0.16">0.2</text>
<line x1="622.80" y1="439.30" x2="625.30" y2="439.30" stroke="#333" stroke-width="0.75"/>
<text x="629.80" y="441.60" font-size="6.6" fill="#111" stroke="#111" stroke-width="0.16">0</text>
<text x="651.00" y="391.30" font-size="6.6" text-anchor="middle" fill="#111" stroke="#111" stroke-width="0.16" transform="rotate(-90 651.00 391.30)">TMRM intensity (Δ<tspan font-style="italic">ψ</tspan><tspan font-size="4.6" dy="1.5">m</tspan><tspan dy="-1.5" font-size="0.1"> </tspan>)</text>
<text x="0.10" y="490.00" font-size="10.8" font-weight="bold" fill="#000" stroke="#000" stroke-width="0.5">i</text>
<line x1="32.60" y1="503.30" x2="32.60" y2="616.10" stroke="#a8a8a8" stroke-width="1.0"/>
<line x1="32.10" y1="615.70" x2="88.30" y2="615.70" stroke="#a8a8a8" stroke-width="1.0"/>
<line x1="26.80" y1="509.38" x2="32.60" y2="509.38" stroke="#333" stroke-width="0.75"/>
<text x="23.80" y="511.68" font-size="6.6" text-anchor="end" fill="#111" stroke="#111" stroke-width="0.16">0.8</text>
<line x1="26.80" y1="535.96" x2="32.60" y2="535.96" stroke="#333" stroke-width="0.75"/>
<text x="23.80" y="538.26" font-size="6.6" text-anchor="end" fill="#111" stroke="#111" stroke-width="0.16">0.6</text>
<line x1="26.80" y1="562.54" x2="32.60" y2="562.54" stroke="#333" stroke-width="0.75"/>
<text x="23.80" y="564.84" font-size="6.6" text-anchor="end" fill="#111" stroke="#111" stroke-width="0.16">0.4</text>
<line x1="26.80" y1="589.12" x2="32.60" y2="589.12" stroke="#333" stroke-width="0.75"/>
<text x="23.80" y="591.42" font-size="6.6" text-anchor="end" fill="#111" stroke="#111" stroke-width="0.16">0.2</text>
<line x1="26.80" y1="615.70" x2="32.60" y2="615.70" stroke="#333" stroke-width="0.75"/>
<text x="23.80" y="618.00" font-size="6.6" text-anchor="end" fill="#111" stroke="#111" stroke-width="0.16">0</text>
<text x="5.40" y="558.50" font-size="6.6" text-anchor="middle" fill="#111" stroke="#111" stroke-width="0.16" transform="rotate(-90 5.40 558.50)">CellROX intensity</text>
<text x="60.60" y="495.40" font-size="6.6" text-anchor="middle" fill="#111" stroke="#111" stroke-width="0.16"><tspan font-style="italic">P</tspan> = 0.011</text>
<path d="M46.60 503.40V500.90H74.80V503.40" fill="none" stroke="#8a8a8a" stroke-width="0.75"/>
<line x1="46.40" y1="509.40" x2="46.40" y2="532.00" stroke="#858585" stroke-width="0.8"/>
<line x1="46.40" y1="557.30" x2="46.40" y2="566.40" stroke="#858585" stroke-width="0.8"/>
<line x1="42.90" y1="509.40" x2="50.30" y2="509.40" stroke="#858585" stroke-width="0.8"/>
<line x1="42.90" y1="566.40" x2="50.30" y2="566.40" stroke="#858585" stroke-width="0.8"/>
<rect x="39.30" y="532.00" width="14.20" height="25.30" fill="#F1CB89" stroke="#858585" stroke-width="0.7" rx="0"/>
<line x1="39.30" y1="539.90" x2="53.50" y2="539.90" stroke="#858585" stroke-width="0.8"/>
<circle cx="59.40" cy="509.40" r="1.02" fill="#000" stroke="none" stroke-width="0.4"/>
<circle cx="55.20" cy="519.80" r="1.02" fill="#000" stroke="none" stroke-width="0.4"/>
<circle cx="60.10" cy="530.30" r="1.02" fill="#000" stroke="none" stroke-width="0.4"/>
<circle cx="56.00" cy="538.20" r="1.02" fill="#000" stroke="none" stroke-width="0.4"/>
<circle cx="60.10" cy="538.20" r="1.02" fill="#000" stroke="none" stroke-width="0.4"/>
<circle cx="56.00" cy="542.60" r="1.02" fill="#000" stroke="none" stroke-width="0.4"/>
<circle cx="56.40" cy="550.40" r="1.02" fill="#000" stroke="none" stroke-width="0.4"/>
<circle cx="55.70" cy="559.80" r="1.02" fill="#000" stroke="none" stroke-width="0.4"/>
<circle cx="56.90" cy="564.70" r="1.02" fill="#000" stroke="none" stroke-width="0.4"/>
<circle cx="55.20" cy="566.40" r="1.02" fill="#000" stroke="none" stroke-width="0.4"/>
<line x1="74.50" y1="545.00" x2="74.50" y2="549.40" stroke="#858585" stroke-width="0.8"/>
<line x1="74.50" y1="584.80" x2="74.50" y2="595.30" stroke="#858585" stroke-width="0.8"/>
<line x1="71.20" y1="545.00" x2="78.00" y2="545.00" stroke="#858585" stroke-width="0.8"/>
<line x1="71.20" y1="595.30" x2="78.00" y2="595.30" stroke="#858585" stroke-width="0.8"/>
<rect x="67.50" y="549.40" width="14.00" height="35.40" fill="#BA86BA" stroke="#858585" stroke-width="0.7" rx="0"/>
<line x1="67.50" y1="561.00" x2="81.50" y2="561.00" stroke="#858585" stroke-width="0.8"/>
<circle cx="85.20" cy="545.00" r="1.02" fill="#000" stroke="none" stroke-width="0.4"/>
<circle cx="87.90" cy="545.80" r="1.02" fill="#000" stroke="none" stroke-width="0.4"/>
<circle cx="85.20" cy="547.50" r="1.02" fill="#000" stroke="none" stroke-width="0.4"/>
<circle cx="85.90" cy="553.60" r="1.02" fill="#000" stroke="none" stroke-width="0.4"/>
<circle cx="84.70" cy="559.00" r="1.02" fill="#000" stroke="none" stroke-width="0.4"/>
<circle cx="86.40" cy="562.70" r="1.02" fill="#000" stroke="none" stroke-width="0.4"/>
<circle cx="87.90" cy="574.00" r="1.02" fill="#000" stroke="none" stroke-width="0.4"/>
<circle cx="86.40" cy="588.00" r="1.02" fill="#000" stroke="none" stroke-width="0.4"/>
<circle cx="87.90" cy="588.00" r="1.02" fill="#000" stroke="none" stroke-width="0.4"/>
<circle cx="85.90" cy="595.30" r="1.02" fill="#000" stroke="none" stroke-width="0.4"/>
<rect x="33.00" y="619.40" width="31.60" height="17.60" fill="#FACD86" stroke="none" stroke-width="0.6" rx="1.4"/>
<text x="34.70" y="625.80" font-size="6.6" fill="#111" stroke="#111" stroke-width="0.16">p.Tyr622*</text>
<text x="34.70" y="633.60" font-size="6.6" fill="#111" stroke="#111" stroke-width="0.16">+ H<tspan font-size="4.6" dy="1.5">2</tspan><tspan dy="-1.5" font-size="0.1"> </tspan>O</text>
<rect x="66.20" y="619.40" width="48.40" height="17.60" fill="#BF81C4" stroke="none" stroke-width="0.6" rx="1.4"/>
<text x="68.90" y="625.80" font-size="6.6" fill="#111" stroke="#111" stroke-width="0.16">p.Tyr622*</text>
<text x="68.90" y="633.60" font-size="6.6" fill="#111" stroke="#111" stroke-width="0.16">+ CDP-choline</text>
<text x="162.40" y="489.40" font-size="6.6" text-anchor="middle" fill="#111" stroke="#111" stroke-width="0.16"><tspan font-style="italic">ABCA7</tspan> p.Tyr622*</text>
<line x1="108.20" y1="491.80" x2="217.50" y2="491.80" stroke="#9a9a9a" stroke-width="0.9"/>
<text x="133.60" y="500.00" font-size="6.6" text-anchor="middle" fill="#111" stroke="#111" stroke-width="0.16">+H<tspan font-size="4.6" dy="1.5">2</tspan><tspan dy="-1.5" font-size="0.1"> </tspan>O</text>
<text x="190.90" y="500.00" font-size="6.6" text-anchor="middle" fill="#111" stroke="#111" stroke-width="0.16">+CDP-choline</text>
<text x="102.90" y="530.10" font-size="6.6" text-anchor="middle" fill="#111" stroke="#111" stroke-width="0.16" transform="rotate(-90 102.90 530.10)">CellROX</text>
<text x="102.90" y="588.60" font-size="6.6" text-anchor="middle" fill="#111" stroke="#111" stroke-width="0.16" transform="rotate(-90 102.90 588.60)">Mask</text>
<clipPath id="cli1"><rect x="105.4" y="502.8" width="55.4" height="54.9"/></clipPath>
<g clip-path="url(#cli1)">
<rect x="105.4" y="502.8" width="55.4" height="54.9" filter="url(#cmi1)"/>
<circle cx="135.40" cy="523.10" r="7" fill="url(#hole)" stroke="none" stroke-width="0.4"/>
<circle cx="143.60" cy="554.30" r="5.5" fill="url(#hole)" stroke="none" stroke-width="0.4"/>
</g>
<rect x="105.40" y="502.80" width="55.40" height="54.90" fill="url(#vig)" stroke="none" stroke-width="0.6" rx="0"/>
<clipPath id="cli2"><rect x="163.3" y="502.8" width="55.3" height="54.9"/></clipPath>
<g clip-path="url(#cli2)">
<rect x="163.3" y="502.8" width="55.3" height="54.9" filter="url(#cmi2)"/>
</g>
<rect x="163.30" y="502.80" width="55.30" height="54.90" fill="url(#vig)" stroke="none" stroke-width="0.6" rx="0"/>
<circle cx="203.7" cy="546.4" r="6" fill="url(#hole)" opacity="0.55"/>
<rect x="149.00" y="555.30" width="10.60" height="1.90" fill="#fff" stroke="none" stroke-width="0.6" rx="0"/>
<clipPath id="cli3"><rect x="105.4" y="559.9" width="55.4" height="56.1"/></clipPath>
<g clip-path="url(#cli3)">
<rect x="105.40" y="559.90" width="55.40" height="56.10" fill="#fff" stroke="none" stroke-width="0.6" rx="0"/>
<path d="M158.0 601.8l28.3 11.8M151.7 576.3l-0.9 25.0M120.9 592.9l-21.0 23.5M120.8 581.1l-10.0 32.9M156.4 558.5l-10.3 9.4M117.2 590.6l-11.0 9.2M156.4 576.2l-28.3 15.8M114.2 564.9l-12.7 5.1M148.1 615.7l23.4 6.1M121.7 598.2l-16.8 6.7M120.2 570.2l-26.0 13.1M152.4 588.9l-12.4 4.6M153.7 577.6l8.2 29.7M144.3 558.1l23.2 23.6M106.7 599.0l12.2 15.7M150.7 604.3l31.9 4.6M102.4 593.0l-2.0 12.3M159.4 594.4l-27.1 4.1M140.2 563.1l7.3 23.4M104.6 562.7l-11.5 21.9M128.7 607.9l-1.3 27.8M110.6 601.0l-25.9 2.8M127.7 598.5l30.0 6.6M130.4 577.0l-0.8 15.4M114.3 603.0l7.5 29.7M159.6 600.5l26.1 17.3M128.1 601.0l14.9 6.9M139.6 594.2l28.5 8.4M158.1 581.5l3.3 24.3M117.4 580.2l-10.2 10.7M121.8 613.3l-14.0 0.7M157.4 561.6l2.1 15.3M110.8 589.3l16.4 21.6M112.3 599.4l-20.9 9.7M138.4 602.6l-14.5 9.1M147.5 580.2l-8.7 30.0M146.9 570.5l6.2 10.6M116.7 608.3l-21.2 16.0M153.4 605.1l8.2 10.9M150.1 557.1l10.0 14.8M115.4 566.5l-19.9 14.1M151.6 578.8l-5.9 18.5M126.5 601.7l-5.6 14.3M140.8 605.4l1.2 34.2M151.4 569.0l-18.9 18.4M140.7 569.3l14.0 3.9M155.6 588.5l-6.2 33.9M130.9 592.9l7.8 6.9M133.3 582.3l7.4 8.8M113.1 570.0l5.7 27.9" stroke="#444" stroke-width="0.3" stroke-opacity="0.8" fill="none"/>
<rect x="105.4" y="559.9" width="55.4" height="56.1" filter="url(#mbi3)"/>
<rect x="105.4" y="559.9" width="55.4" height="56.1" filter="url(#mfi3)"/>
<path d="M114.9 593.2L113.8 593.2L113.8 594.0L113.3 593.2L112.3 594.1L113.0 593.0L111.7 592.8L113.1 592.7L113.6 590.9L113.7 592.5L114.9 591.3L113.8 592.8ZM112.5 599.1L112.7 600.5L113.6 600.0L113.0 600.8L114.8 600.1L112.9 601.0L112.5 603.1L112.2 601.4L110.6 601.2L111.9 600.7L109.7 600.0L112.0 600.4ZM124.9 598.8L125.5 599.5L125.7 598.1L125.6 599.7L127.2 600.3L125.8 600.3L124.6 602.1L125.1 600.1L124.4 601.3L125.0 600.0ZM129.5 608.7L129.2 607.3L128.1 608.5L129.1 607.0L128.7 605.7L129.4 606.5L129.9 604.9L129.7 606.6L130.8 606.9L129.7 607.1ZM118.9 611.2L117.5 610.3L116.3 611.9L117.1 610.0L116.2 609.8L117.0 609.6L115.7 608.0L117.4 609.5L118.0 607.8L117.6 609.7Z" fill="#000"/>
</g>
<circle cx="136" cy="580.5" r="7" fill="url(#wh)"/><circle cx="146" cy="611" r="6" fill="url(#wh)"/><circle cx="118" cy="575" r="5" fill="url(#wh)" opacity="0.7"/>
<clipPath id="cli4"><rect x="163.3" y="559.9" width="55.3" height="56.1"/></clipPath>
<g clip-path="url(#cli4)">
<rect x="163.30" y="559.90" width="55.30" height="56.10" fill="#fff" stroke="none" stroke-width="0.6" rx="0"/>
<path d="M203.0 600.9l1.4 12.5M216.6 574.5l25.4 18.5M189.2 565.9l-21.1 21.1M191.7 605.1l-7.1 19.6M177.0 598.6l-14.1 4.5M195.1 558.7l-2.0 12.6M203.9 613.2l-27.6 4.8M202.4 597.5l-2.6 17.1M183.9 610.0l-31.3 0.5M198.6 582.6l-14.2 28.2" stroke="#444" stroke-width="0.3" stroke-opacity="0.8" fill="none"/>
<rect x="163.3" y="559.9" width="55.3" height="56.1" filter="url(#mbi4)"/>
<rect x="163.3" y="559.9" width="55.3" height="56.1" filter="url(#mfi4)"/>
</g>
<rect x="163.30" y="559.90" width="55.30" height="56.10" fill="url(#wvig)" stroke="none" stroke-width="0.6" rx="0"/>
<circle cx="203" cy="605" r="4" fill="url(#wh)" opacity="0.8"/>
<rect x="105.40" y="559.90" width="55.40" height="56.10" fill="none" stroke="#b0b0b0" stroke-width="0.7" rx="0"/>
<rect x="163.30" y="559.90" width="55.30" height="56.10" fill="none" stroke="#b0b0b0" stroke-width="0.7" rx="0"/>
<rect x="223.30" y="512.30" width="4.50" height="94.30" fill="url(#gvir2)" stroke="#333" stroke-width="0.3" rx="0"/>
<line x1="227.80" y1="512.30" x2="230.60" y2="512.30" stroke="#333" stroke-width="0.75"/>
<text x="235.00" y="514.60" font-size="6.6" fill="#111" stroke="#111" stroke-width="0.16">1.0</text>
<line x1="227.80" y1="531.16" x2="230.60" y2="531.16" stroke="#333" stroke-width="0.75"/>
<text x="235.00" y="533.46" font-size="6.6" fill="#111" stroke="#111" stroke-width="0.16">0.8</text>
<line x1="227.80" y1="550.02" x2="230.60" y2="550.02" stroke="#333" stroke-width="0.75"/>
<text x="235.00" y="552.32" font-size="6.6" fill="#111" stroke="#111" stroke-width="0.16">0.6</text>
<line x1="227.80" y1="568.88" x2="230.60" y2="568.88" stroke="#333" stroke-width="0.75"/>
<text x="235.00" y="571.18" font-size="6.6" fill="#111" stroke="#111" stroke-width="0.16">0.4</text>
<line x1="227.80" y1="587.74" x2="230.60" y2="587.74" stroke="#333" stroke-width="0.75"/>
<text x="235.00" y="590.04" font-size="6.6" fill="#111" stroke="#111" stroke-width="0.16">0.2</text>
<line x1="227.80" y1="606.60" x2="230.60" y2="606.60" stroke="#333" stroke-width="0.75"/>
<text x="235.00" y="608.90" font-size="6.6" fill="#111" stroke="#111" stroke-width="0.16">0</text>
<text x="255.40" y="559.40" font-size="6.6" text-anchor="middle" fill="#111" stroke="#111" stroke-width="0.16" transform="rotate(-90 255.40 559.40)">CellROX intensity</text>
<text x="265.70" y="489.60" font-size="10.8" font-weight="bold" fill="#000" stroke="#000" stroke-width="0.5">j</text>
<line x1="303.00" y1="525.20" x2="303.00" y2="592.60" stroke="#333" stroke-width="0.75"/>
<line x1="302.70" y1="592.30" x2="391.10" y2="592.30" stroke="#333" stroke-width="0.75"/>
<line x1="299.00" y1="535.10" x2="303.00" y2="535.10" stroke="#333" stroke-width="0.75"/>
<text x="296.20" y="537.40" font-size="6.6" text-anchor="end" fill="#111" stroke="#111" stroke-width="0.16">1,000</text>
<line x1="299.00" y1="563.80" x2="303.00" y2="563.80" stroke="#333" stroke-width="0.75"/>
<text x="296.20" y="566.10" font-size="6.6" text-anchor="end" fill="#111" stroke="#111" stroke-width="0.16">500</text>
<line x1="299.00" y1="592.30" x2="303.00" y2="592.30" stroke="#333" stroke-width="0.75"/>
<text x="296.20" y="594.60" font-size="6.6" text-anchor="end" fill="#111" stroke="#111" stroke-width="0.16">0</text>
<text x="271.60" y="559.30" font-size="6.6" text-anchor="middle" fill="#111" stroke="#111" stroke-width="0.16" transform="rotate(-90 271.60 559.30)">Aβ40 levels (pg ml<tspan font-size="4.6" dy="-2.6">−1</tspan><tspan dy="2.6" font-size="0.1"> </tspan>)</text>
<text x="361.40" y="497.20" font-size="6.6" text-anchor="middle" fill="#111" stroke="#111" stroke-width="0.16"><tspan font-style="italic">P</tspan> = 0.044</text>
<path d="M346.40 503.80V501.40H376.60V503.80" fill="none" stroke="#8a8a8a" stroke-width="0.75"/>
<text x="332.10" y="517.60" font-size="6.6" text-anchor="middle" fill="#111" stroke="#111" stroke-width="0.16"><tspan font-style="italic">P</tspan> = 7.537 × 10<tspan font-size="4.6" dy="-2.6">−4</tspan><tspan dy="2.6" font-size="0.1"> </tspan></text>
<path d="M317.30 523.80V521.40H347.10V523.80" fill="none" stroke="#8a8a8a" stroke-width="0.75"/>
<line x1="317.45" y1="539.50" x2="317.45" y2="547.80" stroke="#808080" stroke-width="0.8"/>
<line x1="317.45" y1="553.80" x2="317.45" y2="557.80" stroke="#808080" stroke-width="0.8"/>
<line x1="314.50" y1="539.50" x2="320.60" y2="539.50" stroke="#808080" stroke-width="0.8"/>
<line x1="314.50" y1="557.80" x2="320.60" y2="557.80" stroke="#808080" stroke-width="0.8"/>
<rect x="311.20" y="547.80" width="12.50" height="6.00" fill="#C9C9C9" stroke="#808080" stroke-width="0.7" rx="0"/>
<line x1="311.20" y1="550.90" x2="323.70" y2="550.90" stroke="#808080" stroke-width="0.8"/>
<circle cx="331.71" cy="539.50" r="1.02" fill="#000" stroke="none" stroke-width="0.4"/>
<circle cx="330.18" cy="542.17" r="1.02" fill="#000" stroke="none" stroke-width="0.4"/>
<circle cx="327.46" cy="544.84" r="1.02" fill="#000" stroke="none" stroke-width="0.4"/>
<circle cx="328.63" cy="547.51" r="1.02" fill="#000" stroke="none" stroke-width="0.4"/>
<circle cx="326.87" cy="550.19" r="1.02" fill="#000" stroke="none" stroke-width="0.4"/>
<circle cx="327.87" cy="552.86" r="1.02" fill="#000" stroke="none" stroke-width="0.4"/>
<circle cx="327.96" cy="555.53" r="1.02" fill="#000" stroke="none" stroke-width="0.4"/>
<circle cx="326.41" cy="558.20" r="1.02" fill="#000" stroke="none" stroke-width="0.4"/>
<circle cx="330.93" cy="554.03" r="1.02" fill="#000" stroke="none" stroke-width="0.4"/>
<circle cx="331.23" cy="545.68" r="1.02" fill="#000" stroke="none" stroke-width="0.4"/>
<circle cx="329.15" cy="551.73" r="1.02" fill="#000" stroke="none" stroke-width="0.4"/>
<circle cx="329.79" cy="549.73" r="1.02" fill="#000" stroke="none" stroke-width="0.4"/>
<circle cx="329.57" cy="551.77" r="1.02" fill="#000" stroke="none" stroke-width="0.4"/>
<circle cx="329.94" cy="545.40" r="1.02" fill="#000" stroke="none" stroke-width="0.4"/>
<circle cx="331.77" cy="545.51" r="1.02" fill="#000" stroke="none" stroke-width="0.4"/>
<circle cx="329.48" cy="546.77" r="1.02" fill="#000" stroke="none" stroke-width="0.4"/>
<circle cx="327.08" cy="554.79" r="1.02" fill="#000" stroke="none" stroke-width="0.4"/>
<circle cx="330.11" cy="548.02" r="1.02" fill="#000" stroke="none" stroke-width="0.4"/>
<circle cx="330.10" cy="550.90" r="1.02" fill="#000" stroke="none" stroke-width="0.4"/>
<line x1="346.55" y1="528.00" x2="346.55" y2="534.00" stroke="#808080" stroke-width="0.8"/>
<line x1="346.55" y1="546.50" x2="346.55" y2="558.20" stroke="#808080" stroke-width="0.8"/>
<line x1="343.50" y1="528.00" x2="349.70" y2="528.00" stroke="#808080" stroke-width="0.8"/>
<line x1="343.50" y1="558.20" x2="349.70" y2="558.20" stroke="#808080" stroke-width="0.8"/>
<rect x="340.50" y="534.00" width="12.10" height="12.50" fill="#F1CB89" stroke="#808080" stroke-width="0.7" rx="0"/>
<line x1="340.50" y1="543.40" x2="352.60" y2="543.40" stroke="#808080" stroke-width="0.8"/>
<circle cx="358.79" cy="528.00" r="1.02" fill="#000" stroke="none" stroke-width="0.4"/>
<circle cx="356.71" cy="531.77" r="1.02" fill="#000" stroke="none" stroke-width="0.4"/>
<circle cx="357.60" cy="535.55" r="1.02" fill="#000" stroke="none" stroke-width="0.4"/>
<circle cx="357.74" cy="539.33" r="1.02" fill="#000" stroke="none" stroke-width="0.4"/>
<circle cx="355.63" cy="543.10" r="1.02" fill="#000" stroke="none" stroke-width="0.4"/>
<circle cx="360.73" cy="546.88" r="1.02" fill="#000" stroke="none" stroke-width="0.4"/>
<circle cx="355.87" cy="550.65" r="1.02" fill="#000" stroke="none" stroke-width="0.4"/>
<circle cx="360.83" cy="554.43" r="1.02" fill="#000" stroke="none" stroke-width="0.4"/>
<circle cx="359.84" cy="558.20" r="1.02" fill="#000" stroke="none" stroke-width="0.4"/>
<circle cx="356.64" cy="549.96" r="1.02" fill="#000" stroke="none" stroke-width="0.4"/>
<circle cx="357.43" cy="547.52" r="1.02" fill="#000" stroke="none" stroke-width="0.4"/>
<circle cx="356.79" cy="542.53" r="1.02" fill="#000" stroke="none" stroke-width="0.4"/>
<circle cx="358.87" cy="538.57" r="1.02" fill="#000" stroke="none" stroke-width="0.4"/>
<circle cx="355.57" cy="544.27" r="1.02" fill="#000" stroke="none" stroke-width="0.4"/>
<circle cx="357.78" cy="546.80" r="1.02" fill="#000" stroke="none" stroke-width="0.4"/>
<circle cx="359.62" cy="548.28" r="1.02" fill="#000" stroke="none" stroke-width="0.4"/>
<circle cx="357.95" cy="547.40" r="1.02" fill="#000" stroke="none" stroke-width="0.4"/>
<circle cx="358.92" cy="546.37" r="1.02" fill="#000" stroke="none" stroke-width="0.4"/>
<line x1="376.25" y1="536.20" x2="376.25" y2="543.40" stroke="#808080" stroke-width="0.8"/>
<line x1="376.25" y1="551.60" x2="376.25" y2="560.00" stroke="#808080" stroke-width="0.8"/>
<line x1="373.30" y1="536.20" x2="379.40" y2="536.20" stroke="#808080" stroke-width="0.8"/>
<line x1="373.30" y1="560.00" x2="379.40" y2="560.00" stroke="#808080" stroke-width="0.8"/>
<rect x="370.20" y="543.40" width="12.10" height="8.20" fill="#BA86BA" stroke="#808080" stroke-width="0.7" rx="0"/>
<line x1="370.20" y1="547.60" x2="382.30" y2="547.60" stroke="#808080" stroke-width="0.8"/>
<circle cx="390.48" cy="536.20" r="1.02" fill="#000" stroke="none" stroke-width="0.4"/>
<circle cx="388.51" cy="540.17" r="1.02" fill="#000" stroke="none" stroke-width="0.4"/>
<circle cx="388.01" cy="544.13" r="1.02" fill="#000" stroke="none" stroke-width="0.4"/>
<circle cx="389.65" cy="548.10" r="1.02" fill="#000" stroke="none" stroke-width="0.4"/>
<circle cx="389.56" cy="552.07" r="1.02" fill="#000" stroke="none" stroke-width="0.4"/>
<circle cx="387.44" cy="556.03" r="1.02" fill="#000" stroke="none" stroke-width="0.4"/>
<circle cx="389.22" cy="560.00" r="1.02" fill="#000" stroke="none" stroke-width="0.4"/>
<circle cx="387.86" cy="546.14" r="1.02" fill="#000" stroke="none" stroke-width="0.4"/>
<circle cx="391.28" cy="548.53" r="1.02" fill="#000" stroke="none" stroke-width="0.4"/>
<circle cx="386.95" cy="551.37" r="1.02" fill="#000" stroke="none" stroke-width="0.4"/>
<circle cx="388.03" cy="549.11" r="1.02" fill="#000" stroke="none" stroke-width="0.4"/>
<circle cx="390.54" cy="551.77" r="1.02" fill="#000" stroke="none" stroke-width="0.4"/>
<rect x="298.40" y="594.50" width="20.50" height="15.50" fill="#C6C6C6" stroke="none" stroke-width="0.6" rx="1.4"/>
<text x="308.65" y="600.90" font-size="6.6" text-anchor="middle" fill="#111" stroke="#111" stroke-width="0.16">WT</text>
<text x="308.65" y="608.50" font-size="6.6" text-anchor="middle" fill="#111" stroke="#111" stroke-width="0.16">+ H<tspan font-size="4.6" dy="1.5">2</tspan><tspan dy="-1.5" font-size="0.1"> </tspan>O</text>
<rect x="320.40" y="594.50" width="32.20" height="15.50" fill="#FACD86" stroke="none" stroke-width="0.6" rx="1.4"/>
<text x="336.50" y="600.90" font-size="6.6" text-anchor="middle" fill="#111" stroke="#111" stroke-width="0.16">p.Tyr622*</text>
<text x="336.50" y="608.50" font-size="6.6" text-anchor="middle" fill="#111" stroke="#111" stroke-width="0.16">+ H<tspan font-size="4.6" dy="1.5">2</tspan><tspan dy="-1.5" font-size="0.1"> </tspan>O</text>
<rect x="354.60" y="594.50" width="48.40" height="15.50" fill="#BF81C4" stroke="none" stroke-width="0.6" rx="1.4"/>
<text x="357.00" y="600.90" font-size="6.6" fill="#111" stroke="#111" stroke-width="0.16">p.Tyr622*</text>
<text x="357.00" y="608.50" font-size="6.6" fill="#111" stroke="#111" stroke-width="0.16">+ CDP-choline</text>
<line x1="439.70" y1="525.80" x2="439.70" y2="592.60" stroke="#333" stroke-width="0.75"/>
<line x1="439.40" y1="592.30" x2="527.80" y2="592.30" stroke="#333" stroke-width="0.75"/>
<line x1="435.70" y1="546.10" x2="439.70" y2="546.10" stroke="#333" stroke-width="0.75"/>
<text x="432.90" y="548.40" font-size="6.6" text-anchor="end" fill="#111" stroke="#111" stroke-width="0.16">400</text>
<line x1="435.70" y1="569.20" x2="439.70" y2="569.20" stroke="#333" stroke-width="0.75"/>
<text x="432.90" y="571.50" font-size="6.6" text-anchor="end" fill="#111" stroke="#111" stroke-width="0.16">200</text>
<line x1="435.70" y1="592.30" x2="439.70" y2="592.30" stroke="#333" stroke-width="0.75"/>
<text x="432.90" y="594.60" font-size="6.6" text-anchor="end" fill="#111" stroke="#111" stroke-width="0.16">0</text>
<text x="414.90" y="559.30" font-size="6.6" text-anchor="middle" fill="#111" stroke="#111" stroke-width="0.16" transform="rotate(-90 414.90 559.30)">Aβ42 levels (pg ml<tspan font-size="4.6" dy="-2.6">−1</tspan><tspan dy="2.6" font-size="0.1"> </tspan>)</text>
<text x="498.50" y="497.20" font-size="6.6" text-anchor="middle" fill="#111" stroke="#111" stroke-width="0.16"><tspan font-style="italic">P</tspan> = 0.002</text>
<path d="M483.10 503.80V501.40H513.50V503.80" fill="none" stroke="#8a8a8a" stroke-width="0.75"/>
<text x="472.10" y="517.60" font-size="6.6" text-anchor="middle" fill="#111" stroke="#111" stroke-width="0.16"><tspan font-style="italic">P</tspan> = 1.861 × 10<tspan font-size="4.6" dy="-2.6">−4</tspan><tspan dy="2.6" font-size="0.1"> </tspan></text>
<path d="M454.50 523.80V521.40H483.80V523.80" fill="none" stroke="#8a8a8a" stroke-width="0.75"/>
<line x1="454.15" y1="542.30" x2="454.15" y2="547.80" stroke="#808080" stroke-width="0.8"/>
<line x1="454.15" y1="553.80" x2="454.15" y2="558.60" stroke="#808080" stroke-width="0.8"/>
<line x1="451.20" y1="542.30" x2="457.30" y2="542.30" stroke="#808080" stroke-width="0.8"/>
<line x1="451.20" y1="558.60" x2="457.30" y2="558.60" stroke="#808080" stroke-width="0.8"/>
<rect x="447.90" y="547.80" width="12.50" height="6.00" fill="#C9C9C9" stroke="#808080" stroke-width="0.7" rx="0"/>
<line x1="447.90" y1="550.90" x2="460.40" y2="550.90" stroke="#808080" stroke-width="0.8"/>
<circle cx="466.29" cy="542.80" r="1.02" fill="#000" stroke="none" stroke-width="0.4"/>
<circle cx="468.24" cy="545.06" r="1.02" fill="#000" stroke="none" stroke-width="0.4"/>
<circle cx="464.98" cy="547.31" r="1.02" fill="#000" stroke="none" stroke-width="0.4"/>
<circle cx="467.80" cy="549.57" r="1.02" fill="#000" stroke="none" stroke-width="0.4"/>
<circle cx="467.98" cy="551.83" r="1.02" fill="#000" stroke="none" stroke-width="0.4"/>
<circle cx="463.78" cy="554.09" r="1.02" fill="#000" stroke="none" stroke-width="0.4"/>
<circle cx="464.59" cy="556.34" r="1.02" fill="#000" stroke="none" stroke-width="0.4"/>
<circle cx="463.77" cy="558.60" r="1.02" fill="#000" stroke="none" stroke-width="0.4"/>
<circle cx="465.45" cy="550.26" r="1.02" fill="#000" stroke="none" stroke-width="0.4"/>
<circle cx="466.63" cy="548.35" r="1.02" fill="#000" stroke="none" stroke-width="0.4"/>
<circle cx="467.18" cy="548.04" r="1.02" fill="#000" stroke="none" stroke-width="0.4"/>
<circle cx="462.80" cy="552.53" r="1.02" fill="#000" stroke="none" stroke-width="0.4"/>
<circle cx="468.16" cy="552.00" r="1.02" fill="#000" stroke="none" stroke-width="0.4"/>
<circle cx="462.83" cy="548.86" r="1.02" fill="#000" stroke="none" stroke-width="0.4"/>
<circle cx="468.11" cy="548.80" r="1.02" fill="#000" stroke="none" stroke-width="0.4"/>
<circle cx="465.35" cy="550.69" r="1.02" fill="#000" stroke="none" stroke-width="0.4"/>
<circle cx="462.82" cy="553.82" r="1.02" fill="#000" stroke="none" stroke-width="0.4"/>
<circle cx="462.48" cy="551.94" r="1.02" fill="#000" stroke="none" stroke-width="0.4"/>
<circle cx="463.23" cy="546.52" r="1.02" fill="#000" stroke="none" stroke-width="0.4"/>
<line x1="483.65" y1="531.30" x2="483.65" y2="537.90" stroke="#808080" stroke-width="0.8"/>
<line x1="483.65" y1="546.50" x2="483.65" y2="554.20" stroke="#808080" stroke-width="0.8"/>
<line x1="480.50" y1="531.30" x2="486.90" y2="531.30" stroke="#808080" stroke-width="0.8"/>
<line x1="480.50" y1="554.20" x2="486.90" y2="554.20" stroke="#808080" stroke-width="0.8"/>
<rect x="477.60" y="537.90" width="12.10" height="8.60" fill="#F1CB89" stroke="#808080" stroke-width="0.7" rx="0"/>
<line x1="477.60" y1="543.90" x2="489.70" y2="543.90" stroke="#808080" stroke-width="0.8"/>
<circle cx="496.91" cy="531.30" r="1.02" fill="#000" stroke="none" stroke-width="0.4"/>
<circle cx="492.80" cy="534.16" r="1.02" fill="#000" stroke="none" stroke-width="0.4"/>
<circle cx="497.21" cy="537.02" r="1.02" fill="#000" stroke="none" stroke-width="0.4"/>
<circle cx="497.81" cy="539.89" r="1.02" fill="#000" stroke="none" stroke-width="0.4"/>
<circle cx="497.58" cy="542.75" r="1.02" fill="#000" stroke="none" stroke-width="0.4"/>
<circle cx="493.29" cy="545.61" r="1.02" fill="#000" stroke="none" stroke-width="0.4"/>
<circle cx="497.16" cy="548.48" r="1.02" fill="#000" stroke="none" stroke-width="0.4"/>
<circle cx="496.57" cy="551.34" r="1.02" fill="#000" stroke="none" stroke-width="0.4"/>
<circle cx="492.93" cy="554.20" r="1.02" fill="#000" stroke="none" stroke-width="0.4"/>
<circle cx="493.43" cy="537.15" r="1.02" fill="#000" stroke="none" stroke-width="0.4"/>
<circle cx="494.81" cy="547.40" r="1.02" fill="#000" stroke="none" stroke-width="0.4"/>
<circle cx="495.08" cy="543.45" r="1.02" fill="#000" stroke="none" stroke-width="0.4"/>
<circle cx="496.40" cy="539.64" r="1.02" fill="#000" stroke="none" stroke-width="0.4"/>
<circle cx="496.15" cy="537.94" r="1.02" fill="#000" stroke="none" stroke-width="0.4"/>
<circle cx="496.04" cy="543.11" r="1.02" fill="#000" stroke="none" stroke-width="0.4"/>
<circle cx="493.96" cy="541.29" r="1.02" fill="#000" stroke="none" stroke-width="0.4"/>
<circle cx="498.18" cy="538.81" r="1.02" fill="#000" stroke="none" stroke-width="0.4"/>
<circle cx="497.70" cy="540.19" r="1.02" fill="#000" stroke="none" stroke-width="0.4"/>
<line x1="513.35" y1="540.10" x2="513.35" y2="547.20" stroke="#808080" stroke-width="0.8"/>
<line x1="513.35" y1="553.80" x2="513.35" y2="558.20" stroke="#808080" stroke-width="0.8"/>
<line x1="510.20" y1="540.10" x2="516.60" y2="540.10" stroke="#808080" stroke-width="0.8"/>
<line x1="510.20" y1="558.20" x2="516.60" y2="558.20" stroke="#808080" stroke-width="0.8"/>
<rect x="507.30" y="547.20" width="12.10" height="6.60" fill="#BA86BA" stroke="#808080" stroke-width="0.7" rx="0"/>
<line x1="507.30" y1="550.00" x2="519.40" y2="550.00" stroke="#808080" stroke-width="0.8"/>
<circle cx="525.22" cy="540.10" r="1.02" fill="#000" stroke="none" stroke-width="0.4"/>
<circle cx="524.92" cy="543.12" r="1.02" fill="#000" stroke="none" stroke-width="0.4"/>
<circle cx="523.67" cy="546.13" r="1.02" fill="#000" stroke="none" stroke-width="0.4"/>
<circle cx="522.03" cy="549.15" r="1.02" fill="#000" stroke="none" stroke-width="0.4"/>
<circle cx="526.55" cy="552.17" r="1.02" fill="#000" stroke="none" stroke-width="0.4"/>
<circle cx="526.50" cy="555.18" r="1.02" fill="#000" stroke="none" stroke-width="0.4"/>
<circle cx="524.70" cy="558.20" r="1.02" fill="#000" stroke="none" stroke-width="0.4"/>
<circle cx="525.13" cy="546.39" r="1.02" fill="#000" stroke="none" stroke-width="0.4"/>
<circle cx="525.93" cy="552.12" r="1.02" fill="#000" stroke="none" stroke-width="0.4"/>
<circle cx="521.92" cy="551.21" r="1.02" fill="#000" stroke="none" stroke-width="0.4"/>
<circle cx="523.02" cy="546.91" r="1.02" fill="#000" stroke="none" stroke-width="0.4"/>
<circle cx="522.28" cy="551.56" r="1.02" fill="#000" stroke="none" stroke-width="0.4"/>
<circle cx="524.30" cy="566.60" r="1.1" fill="#000" stroke="none" stroke-width="0.4"/>
<rect x="435.30" y="594.50" width="20.30" height="15.50" fill="#C6C6C6" stroke="none" stroke-width="0.6" rx="1.4"/>
<text x="445.45" y="600.90" font-size="6.6" text-anchor="middle" fill="#111" stroke="#111" stroke-width="0.16">WT</text>
<text x="445.45" y="608.50" font-size="6.6" text-anchor="middle" fill="#111" stroke="#111" stroke-width="0.16">+ H<tspan font-size="4.6" dy="1.5">2</tspan><tspan dy="-1.5" font-size="0.1"> </tspan>O</text>
<rect x="457.10" y="594.50" width="32.60" height="15.50" fill="#FACD86" stroke="none" stroke-width="0.6" rx="1.4"/>
<text x="473.40" y="600.90" font-size="6.6" text-anchor="middle" fill="#111" stroke="#111" stroke-width="0.16">p.Tyr622*</text>
<text x="473.40" y="608.50" font-size="6.6" text-anchor="middle" fill="#111" stroke="#111" stroke-width="0.16">+ H<tspan font-size="4.6" dy="1.5">2</tspan><tspan dy="-1.5" font-size="0.1"> </tspan>O</text>
<rect x="491.30" y="594.50" width="48.70" height="15.50" fill="#BF81C4" stroke="none" stroke-width="0.6" rx="1.4"/>
<text x="493.70" y="600.90" font-size="6.6" fill="#111" stroke="#111" stroke-width="0.16">p.Tyr622*</text>
<text x="493.70" y="608.50" font-size="6.6" fill="#111" stroke="#111" stroke-width="0.16">+ CDP-choline</text>
<text x="549.10" y="490.20" font-size="10.8" font-weight="bold" fill="#000" stroke="#000" stroke-width="0.5">k</text>
<line x1="581.70" y1="519.90" x2="581.70" y2="592.40" stroke="#333" stroke-width="0.75"/>
<line x1="581.40" y1="592.10" x2="673.60" y2="592.10" stroke="#333" stroke-width="0.75"/>
<line x1="577.80" y1="521.30" x2="581.70" y2="521.30" stroke="#333" stroke-width="0.75"/>
<text x="574.60" y="523.60" font-size="6.6" text-anchor="end" fill="#111" stroke="#111" stroke-width="0.16">3</text>
<line x1="577.80" y1="544.90" x2="581.70" y2="544.90" stroke="#333" stroke-width="0.75"/>
<text x="574.60" y="547.20" font-size="6.6" text-anchor="end" fill="#111" stroke="#111" stroke-width="0.16">2</text>
<line x1="577.80" y1="568.50" x2="581.70" y2="568.50" stroke="#333" stroke-width="0.75"/>
<text x="574.60" y="570.80" font-size="6.6" text-anchor="end" fill="#111" stroke="#111" stroke-width="0.16">1</text>
<line x1="577.80" y1="592.10" x2="581.70" y2="592.10" stroke="#333" stroke-width="0.75"/>
<text x="574.60" y="594.40" font-size="6.6" text-anchor="end" fill="#111" stroke="#111" stroke-width="0.16">0</text>
<text x="555.60" y="556.80" font-size="6.6" text-anchor="middle" fill="#111" stroke="#111" stroke-width="0.16" transform="rotate(-90 555.60 556.80)">Spontaneous action</text>
<text x="563.60" y="556.80" font-size="6.6" text-anchor="middle" fill="#111" stroke="#111" stroke-width="0.16" transform="rotate(-90 563.60 556.80)">potentials (Hz)</text>
<text x="641.80" y="491.30" font-size="6.6" text-anchor="middle" fill="#111" stroke="#111" stroke-width="0.16"><tspan font-style="italic">P</tspan> = 0.016</text>
<path d="M626.70 497.90V495.40H656.60V497.90" fill="none" stroke="#8a8a8a" stroke-width="0.75"/>
<text x="611.90" y="512.10" font-size="6.6" text-anchor="middle" fill="#111" stroke="#111" stroke-width="0.16"><tspan font-style="italic">P</tspan> = 0.004</text>
<path d="M596.80 518.60V516.20H626.70V518.60" fill="none" stroke="#8a8a8a" stroke-width="0.75"/>
<line x1="596.55" y1="577.30" x2="596.55" y2="577.30" stroke="#808080" stroke-width="0.8"/>
<line x1="596.55" y1="591.00" x2="596.55" y2="591.60" stroke="#808080" stroke-width="0.8"/>
<line x1="593.50" y1="577.30" x2="599.50" y2="577.30" stroke="#808080" stroke-width="0.8"/>
<line x1="593.50" y1="591.60" x2="599.50" y2="591.60" stroke="#808080" stroke-width="0.8"/>
<rect x="590.60" y="577.30" width="11.90" height="13.70" fill="#C9C9C9" stroke="#808080" stroke-width="0.7" rx="0"/>
<line x1="590.60" y1="590.10" x2="602.50" y2="590.10" stroke="#808080" stroke-width="0.8"/>
<circle cx="607.60" cy="549.50" r="1.02" fill="#000" stroke="none" stroke-width="0.4"/>
<circle cx="607.60" cy="576.80" r="1.02" fill="#000" stroke="none" stroke-width="0.4"/>
<circle cx="609.90" cy="577.90" r="1.02" fill="#000" stroke="none" stroke-width="0.4"/>
<circle cx="608.20" cy="590.10" r="1.02" fill="#000" stroke="none" stroke-width="0.4"/>
<circle cx="610.50" cy="591.00" r="1.02" fill="#000" stroke="none" stroke-width="0.4"/>
<circle cx="609.00" cy="591.60" r="1.02" fill="#000" stroke="none" stroke-width="0.4"/>
<line x1="626.25" y1="523.30" x2="626.25" y2="541.80" stroke="#808080" stroke-width="0.8"/>
<line x1="626.25" y1="561.70" x2="626.25" y2="571.10" stroke="#808080" stroke-width="0.8"/>
<line x1="623.30" y1="523.30" x2="629.50" y2="523.30" stroke="#808080" stroke-width="0.8"/>
<line x1="623.30" y1="571.10" x2="629.50" y2="571.10" stroke="#808080" stroke-width="0.8"/>
<rect x="620.10" y="541.80" width="12.30" height="19.90" fill="#F1CB89" stroke="#808080" stroke-width="0.7" rx="0"/>
<line x1="620.10" y1="556.80" x2="632.40" y2="556.80" stroke="#808080" stroke-width="0.8"/>
<circle cx="636.10" cy="524.10" r="1.02" fill="#000" stroke="none" stroke-width="0.4"/>
<circle cx="639.80" cy="523.30" r="1.02" fill="#000" stroke="none" stroke-width="0.4"/>
<circle cx="639.50" cy="539.50" r="1.02" fill="#000" stroke="none" stroke-width="0.4"/>
<circle cx="640.90" cy="541.20" r="1.02" fill="#000" stroke="none" stroke-width="0.4"/>
<circle cx="636.60" cy="553.70" r="1.02" fill="#000" stroke="none" stroke-width="0.4"/>
<circle cx="641.50" cy="553.70" r="1.02" fill="#000" stroke="none" stroke-width="0.4"/>
<circle cx="636.60" cy="556.80" r="1.02" fill="#000" stroke="none" stroke-width="0.4"/>
<circle cx="637.50" cy="560.80" r="1.02" fill="#000" stroke="none" stroke-width="0.4"/>
<circle cx="640.90" cy="561.70" r="1.02" fill="#000" stroke="none" stroke-width="0.4"/>
<circle cx="639.50" cy="566.00" r="1.02" fill="#000" stroke="none" stroke-width="0.4"/>
<circle cx="637.50" cy="569.70" r="1.02" fill="#000" stroke="none" stroke-width="0.4"/>
<circle cx="641.50" cy="571.10" r="1.02" fill="#000" stroke="none" stroke-width="0.4"/>
<line x1="656.25" y1="555.10" x2="656.25" y2="559.10" stroke="#808080" stroke-width="0.8"/>
<line x1="656.25" y1="586.40" x2="656.25" y2="590.10" stroke="#808080" stroke-width="0.8"/>
<line x1="653.70" y1="555.10" x2="660.00" y2="555.10" stroke="#808080" stroke-width="0.8"/>
<line x1="653.70" y1="590.10" x2="660.00" y2="590.10" stroke="#808080" stroke-width="0.8"/>
<rect x="650.30" y="559.10" width="11.90" height="27.30" fill="#BA86BA" stroke="#808080" stroke-width="0.7" rx="0"/>
<line x1="650.30" y1="579.30" x2="662.20" y2="579.30" stroke="#808080" stroke-width="0.8"/>
<circle cx="666.80" cy="555.10" r="1.02" fill="#000" stroke="none" stroke-width="0.4"/>
<circle cx="666.20" cy="558.80" r="1.02" fill="#000" stroke="none" stroke-width="0.4"/>
<circle cx="668.50" cy="558.80" r="1.02" fill="#000" stroke="none" stroke-width="0.4"/>
<circle cx="670.20" cy="562.30" r="1.02" fill="#000" stroke="none" stroke-width="0.4"/>
<circle cx="666.80" cy="579.30" r="1.02" fill="#000" stroke="none" stroke-width="0.4"/>
<circle cx="667.40" cy="582.20" r="1.02" fill="#000" stroke="none" stroke-width="0.4"/>
<circle cx="666.20" cy="586.40" r="1.02" fill="#000" stroke="none" stroke-width="0.4"/>
<circle cx="666.80" cy="588.10" r="1.02" fill="#000" stroke="none" stroke-width="0.4"/>
<circle cx="671.60" cy="590.70" r="1.02" fill="#000" stroke="none" stroke-width="0.4"/>
<rect x="577.80" y="594.40" width="20.40" height="15.60" fill="#C6C6C6" stroke="none" stroke-width="0.6" rx="1.4"/>
<text x="588.00" y="600.90" font-size="6.6" text-anchor="middle" fill="#111" stroke="#111" stroke-width="0.16">WT</text>
<text x="588.00" y="608.50" font-size="6.6" text-anchor="middle" fill="#111" stroke="#111" stroke-width="0.16">+ H<tspan font-size="4.6" dy="1.5">2</tspan><tspan dy="-1.5" font-size="0.1"> </tspan>O</text>
<rect x="601.10" y="594.40" width="33.60" height="15.60" fill="#FACD86" stroke="none" stroke-width="0.6" rx="1.4"/>
<text x="617.90" y="600.90" font-size="6.6" text-anchor="middle" fill="#111" stroke="#111" stroke-width="0.16">p.Tyr622*</text>
<text x="617.90" y="608.50" font-size="6.6" text-anchor="middle" fill="#111" stroke="#111" stroke-width="0.16">+ H<tspan font-size="4.6" dy="1.5">2</tspan><tspan dy="-1.5" font-size="0.1"> </tspan>O</text>
<rect x="636.60" y="594.40" width="53.40" height="15.60" fill="#BF81C4" stroke="none" stroke-width="0.6" rx="1.4"/>
<text x="663.30" y="600.90" font-size="6.6" text-anchor="middle" fill="#111" stroke="#111" stroke-width="0.16">p.Tyr622*</text>
<text x="663.30" y="608.50" font-size="6.6" text-anchor="middle" fill="#111" stroke="#111" stroke-width="0.16">+ CDP-choline</text>
</svg>
</body></html>
